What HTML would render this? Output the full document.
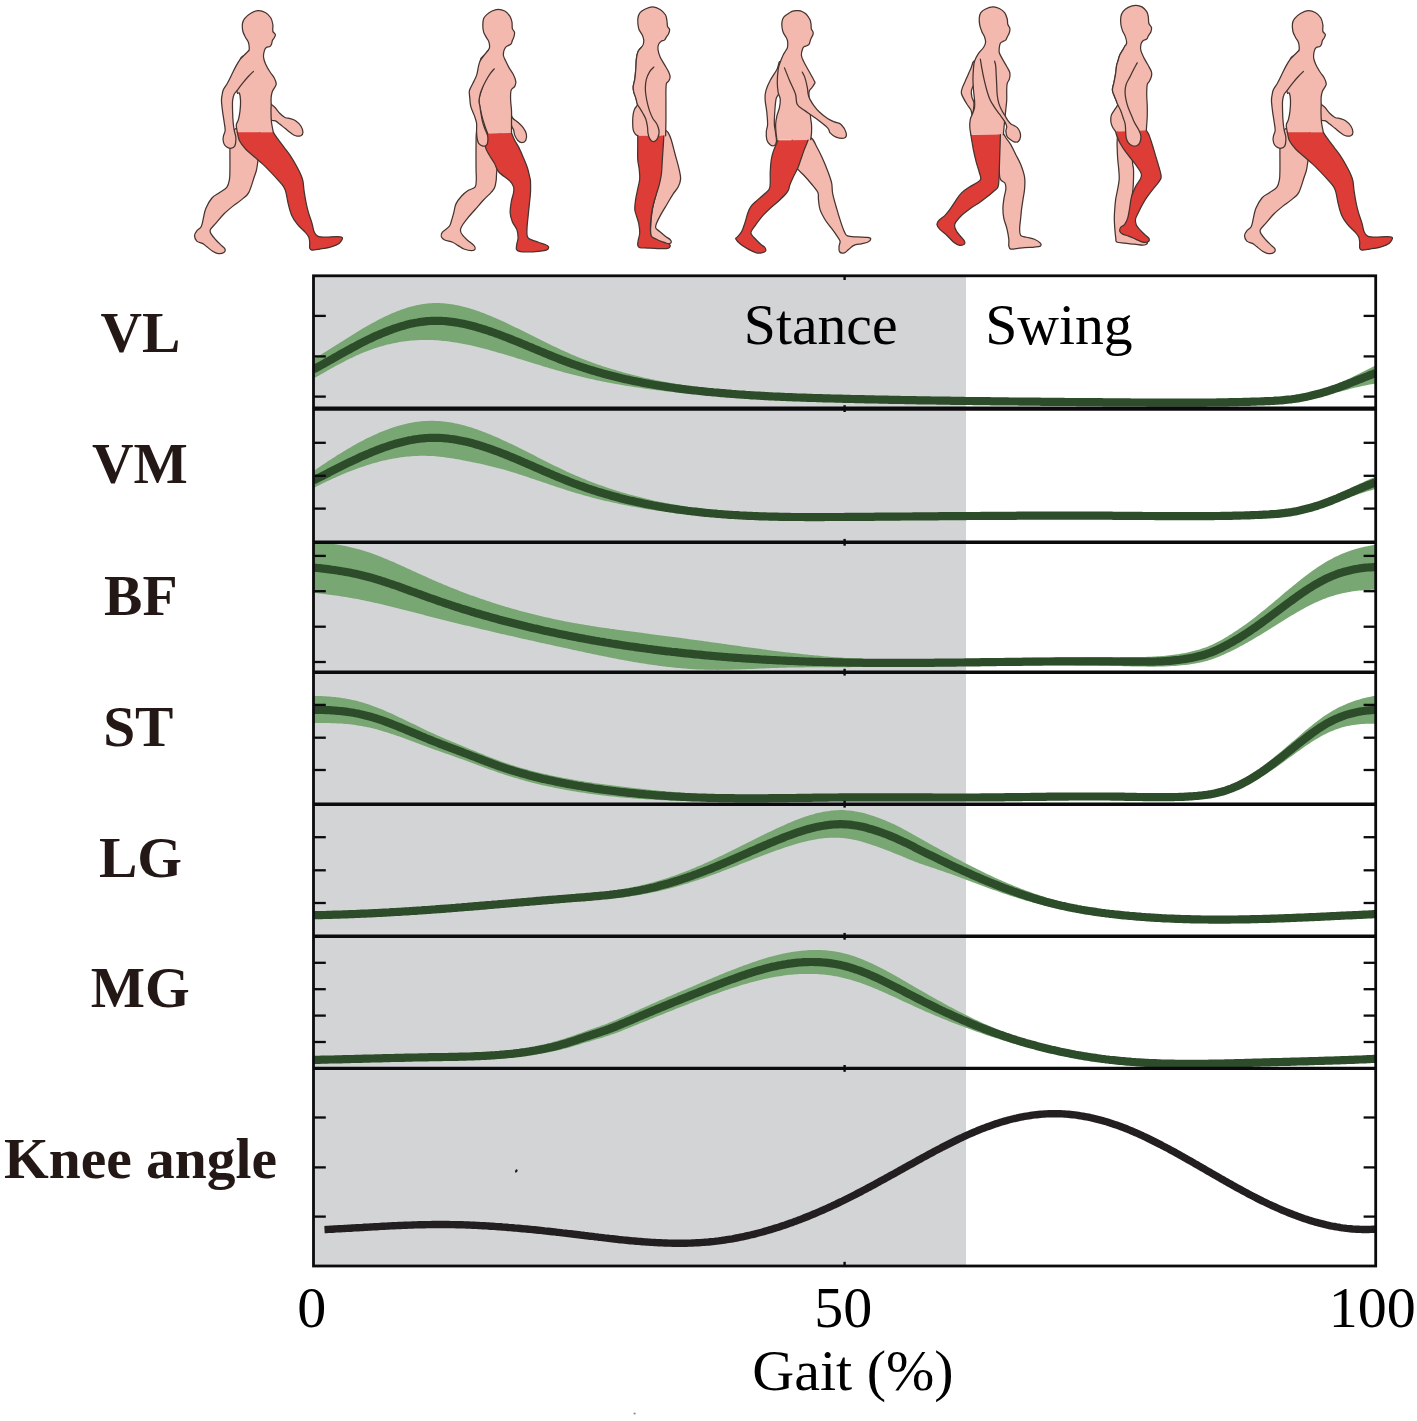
<!DOCTYPE html>
<html><head><meta charset="utf-8"><title>Gait EMG</title>
<style>
html,body{margin:0;padding:0;background:#fff;}
body{width:1417px;height:1421px;overflow:hidden;font-family:"Liberation Serif",serif;}
svg{display:block;}
</style></head>
<body>
<svg width="1417" height="1421" viewBox="0 0 1417 1421">
<style>.o{fill:none;stroke:#45332f;stroke-width:1.25;stroke-linejoin:round;stroke-linecap:round}</style>
<g>
<path d="M269.1,102.7C269.54,101.64 270.69,103.94 271.74,104.82C272.8,105.7 274.13,106.58 275.45,108C276.77,109.41 278.1,111.7 279.68,113.29C281.27,114.88 283.21,116.64 284.98,117.52C286.74,118.4 288.5,118.05 290.27,118.58C292.03,119.11 293.8,119.46 295.56,120.7C297.33,121.93 299.62,124.05 300.85,125.99C302.09,127.93 302.97,130.72 302.97,132.34C302.97,133.96 302.09,135.16 300.85,135.73C299.62,136.29 297.33,136.26 295.56,135.73C293.8,135.2 292.03,133.79 290.27,132.55C288.5,131.32 286.74,129.73 284.98,128.32C283.21,126.91 281.27,125.32 279.68,124.08C278.1,122.85 276.86,121.61 275.45,120.91C274.04,120.2 272.27,121.47 271.21,119.85C270.16,118.23 269.45,114.03 269.1,111.17C268.74,108.31 268.66,103.76 269.1,102.7Z" fill="#f3b9ae"/><path d="M269.1,102.7C269.54,101.64 270.69,103.94 271.74,104.82C272.8,105.7 274.13,106.58 275.45,108C276.77,109.41 278.1,111.7 279.68,113.29C281.27,114.88 283.21,116.64 284.98,117.52C286.74,118.4 288.5,118.05 290.27,118.58C292.03,119.11 293.8,119.46 295.56,120.7C297.33,121.93 299.62,124.05 300.85,125.99C302.09,127.93 302.97,130.72 302.97,132.34C302.97,133.96 302.09,135.16 300.85,135.73C299.62,136.29 297.33,136.26 295.56,135.73C293.8,135.2 292.03,133.79 290.27,132.55C288.5,131.32 286.74,129.73 284.98,128.32C283.21,126.91 281.27,125.32 279.68,124.08C278.1,122.85 276.86,121.61 275.45,120.91C274.04,120.2 272.27,121.47 271.21,119.85C270.16,118.23 269.45,114.03 269.1,111.17C268.74,108.31 268.66,103.76 269.1,102.7Z" class="o"/>
<path d="M237,128C241.59,126.39 254.33,124.33 258,128C261.67,131.67 259.09,143.98 259,150C258.91,156.02 257.89,160.69 257.45,164.1C257.02,167.51 256.92,168.33 256.4,170.45C255.87,172.57 255.56,173.11 254.28,176.8C253,180.49 250.77,188.82 248.72,192.58C246.66,196.34 244.58,197.1 241.94,199.36C239.31,201.62 235.92,203.69 232.91,206.13C229.9,208.58 226.7,211.21 223.88,214.04C221.05,216.86 218.23,220.44 215.97,223.07C213.71,225.71 211.08,227.96 210.33,229.85C209.57,231.73 210.51,232.67 211.45,234.36C212.4,236.06 214.28,238.13 215.97,240.01C217.66,241.89 220.11,244.15 221.62,245.65C223.12,247.16 224.63,247.91 225,249.04C225.38,250.17 225,251.68 223.88,252.43C222.75,253.18 220.11,253.75 218.23,253.56C216.35,253.37 214.47,252.43 212.58,251.3C210.7,250.17 208.63,248.1 206.94,246.78C205.24,245.47 204.11,244.34 202.42,243.4C200.73,242.46 198.09,242.46 196.78,241.14C195.46,239.82 194.52,237.19 194.52,235.49C194.52,233.8 195.65,232.48 196.78,230.98C197.9,229.47 200.16,228.72 201.29,226.46C202.42,224.2 202.8,220.44 203.55,217.43C204.3,214.41 204.41,211.63 205.81,208.39C207.21,205.15 209.68,200.59 211.94,197.97C214.19,195.35 216.88,194.44 219.35,192.68C221.82,190.91 225.08,189.5 226.76,187.39C228.43,185.27 228.87,182.97 229.4,179.98C229.93,176.98 229.84,174.51 229.93,169.39C230.02,164.27 229.84,154.57 229.93,149.28C230.02,143.99 229.28,141.18 230.46,137.63C231.64,134.09 232.41,129.61 237,128Z" fill="#f3b9ae"/><path d="M237,128C241.59,126.39 254.33,124.33 258,128C261.67,131.67 259.09,143.98 259,150C258.91,156.02 257.89,160.69 257.45,164.1C257.02,167.51 256.92,168.33 256.4,170.45C255.87,172.57 255.56,173.11 254.28,176.8C253,180.49 250.77,188.82 248.72,192.58C246.66,196.34 244.58,197.1 241.94,199.36C239.31,201.62 235.92,203.69 232.91,206.13C229.9,208.58 226.7,211.21 223.88,214.04C221.05,216.86 218.23,220.44 215.97,223.07C213.71,225.71 211.08,227.96 210.33,229.85C209.57,231.73 210.51,232.67 211.45,234.36C212.4,236.06 214.28,238.13 215.97,240.01C217.66,241.89 220.11,244.15 221.62,245.65C223.12,247.16 224.63,247.91 225,249.04C225.38,250.17 225,251.68 223.88,252.43C222.75,253.18 220.11,253.75 218.23,253.56C216.35,253.37 214.47,252.43 212.58,251.3C210.7,250.17 208.63,248.1 206.94,246.78C205.24,245.47 204.11,244.34 202.42,243.4C200.73,242.46 198.09,242.46 196.78,241.14C195.46,239.82 194.52,237.19 194.52,235.49C194.52,233.8 195.65,232.48 196.78,230.98C197.9,229.47 200.16,228.72 201.29,226.46C202.42,224.2 202.8,220.44 203.55,217.43C204.3,214.41 204.41,211.63 205.81,208.39C207.21,205.15 209.68,200.59 211.94,197.97C214.19,195.35 216.88,194.44 219.35,192.68C221.82,190.91 225.08,189.5 226.76,187.39C228.43,185.27 228.87,182.97 229.4,179.98C229.93,176.98 229.84,174.51 229.93,169.39C230.02,164.27 229.84,154.57 229.93,149.28C230.02,143.99 229.28,141.18 230.46,137.63C231.64,134.09 232.41,129.61 237,128Z" class="o"/>
<path d="M258.07,10.56C260.61,10.42 263.56,11.47 265.68,12.67C267.79,13.87 269.55,15.77 270.74,17.74C271.94,19.71 272.5,22.24 272.85,24.49C273.21,26.75 272.43,29.56 272.85,31.25C273.28,32.94 275.18,33.5 275.39,34.63C275.6,35.75 274.61,37.02 274.12,38.01C273.63,38.99 272.85,39.56 272.43,40.54C272.01,41.53 272.01,42.93 271.59,43.92C271.17,44.9 270.74,45.89 269.9,46.45C269.05,47.02 267.44,46.59 266.52,47.3C265.61,48 264.9,48.99 264.41,50.68C263.92,52.36 263.35,55.18 263.56,57.43C263.78,59.68 264.62,61.8 265.68,64.19C266.73,66.58 268.49,69.54 269.9,71.79C271.31,74.04 273.07,75.73 274.12,77.7C275.18,79.67 276.09,82.07 276.23,83.61C276.37,85.16 275.6,85.73 274.97,86.99C274.33,88.26 273.07,89.53 272.43,91.22C271.8,92.91 271.38,94.74 271.17,97.13C270.95,99.52 271.19,103.23 271.17,105.57C271.14,107.91 270.96,108.47 271,111.17C271.05,113.87 271.04,118.23 271.43,121.76C271.81,125.28 272.7,128.81 273.33,132.34C261.33,132.34 249.34,132.34 237.34,132.34C236.99,129.87 236.11,127.05 236.28,124.93C236.46,122.81 237.78,121.93 238.4,119.64C239.02,117.35 239.63,114.35 239.99,111.17C240.34,108 240.61,103.58 240.52,100.59C240.43,97.59 239.98,94.46 239.46,93.18C238.94,91.9 237.94,94.36 237.38,92.91C236.82,91.45 235.62,87.98 236.11,84.46C236.61,80.94 239.63,76.01 240.34,71.79C241.04,67.57 239.63,61.94 240.34,59.12C241.04,56.31 243.15,56.31 244.56,54.9C245.97,53.49 248.01,51.94 248.78,50.68C249.56,49.41 249.28,48.7 249.21,47.3C249.14,45.89 248.99,43.92 248.36,42.23C247.73,40.54 246.32,38.99 245.41,37.16C244.49,35.33 243.36,33.5 242.87,31.25C242.38,29 242.17,25.76 242.45,23.65C242.73,21.54 243.22,20.27 244.56,18.58C245.9,16.89 248.22,14.85 250.47,13.51C252.73,12.18 255.54,10.7 258.07,10.56Z" fill="#f3b9ae"/><path d="M237.34,132.34C236.99,129.87 236.11,127.05 236.28,124.93C236.46,122.81 237.78,121.93 238.4,119.64C239.02,117.35 239.63,114.35 239.99,111.17C240.34,108 240.61,103.58 240.52,100.59C240.43,97.59 239.98,94.46 239.46,93.18C238.94,91.9 237.94,94.36 237.38,92.91C236.82,91.45 235.62,87.98 236.11,84.46C236.61,80.94 239.63,76.01 240.34,71.79C241.04,67.57 239.63,61.94 240.34,59.12C241.04,56.31 243.15,56.31 244.56,54.9C245.97,53.49 248.01,51.94 248.78,50.68C249.56,49.41 249.28,48.7 249.21,47.3C249.14,45.89 248.99,43.92 248.36,42.23C247.73,40.54 246.32,38.99 245.41,37.16C244.49,35.33 243.36,33.5 242.87,31.25C242.38,29 242.17,25.76 242.45,23.65C242.73,21.54 243.22,20.27 244.56,18.58C245.9,16.89 248.22,14.85 250.47,13.51C252.73,12.18 255.54,10.7 258.07,10.56C260.61,10.42 263.56,11.47 265.68,12.67C267.79,13.87 269.55,15.77 270.74,17.74C271.94,19.71 272.5,22.24 272.85,24.49C273.21,26.75 272.43,29.56 272.85,31.25C273.28,32.94 275.18,33.5 275.39,34.63C275.6,35.75 274.61,37.02 274.12,38.01C273.63,38.99 272.85,39.56 272.43,40.54C272.01,41.53 272.01,42.93 271.59,43.92C271.17,44.9 270.74,45.89 269.9,46.45C269.05,47.02 267.44,46.59 266.52,47.3C265.61,48 264.9,48.99 264.41,50.68C263.92,52.36 263.35,55.18 263.56,57.43C263.78,59.68 264.62,61.8 265.68,64.19C266.73,66.58 268.49,69.54 269.9,71.79C271.31,74.04 273.07,75.73 274.12,77.7C275.18,79.67 276.09,82.07 276.23,83.61C276.37,85.16 275.6,85.73 274.97,86.99C274.33,88.26 273.07,89.53 272.43,91.22C271.8,92.91 271.38,94.74 271.17,97.13C270.95,99.52 271.19,103.23 271.17,105.57C271.14,107.91 270.96,108.47 271,111.17C271.05,113.87 271.04,118.23 271.43,121.76C271.81,125.28 272.7,128.81 273.33,132.34" class="o"/>
<path d="M237.34,132.34C249.34,132.34 261.33,132.34 273.33,132.34C274.74,134.46 275.8,136.22 277.57,138.69C279.33,141.16 281.8,144.34 283.92,147.16C286.03,149.98 288.15,152.45 290.27,155.63C292.39,158.8 294.86,163.04 296.62,166.21C298.38,169.39 299.8,172.21 300.85,174.68C301.91,177.15 302.44,178.39 302.97,181.03C303.5,183.68 303.47,186.75 304.03,190.56C304.59,194.37 305.55,200.15 306.31,203.88C307.06,207.6 307.62,209.71 308.56,212.91C309.5,216.11 311.01,219.87 311.95,223.07C312.89,226.27 313.27,229.94 314.21,232.1C315.15,234.27 315.72,235.21 317.6,236.06C319.48,236.9 322.3,237.09 325.5,237.19C328.7,237.28 333.97,236.53 336.79,236.62C339.62,236.72 342.06,236.62 342.44,237.75C342.82,238.88 340.93,241.89 339.05,243.4C337.17,244.9 334.35,245.84 331.15,246.78C327.95,247.73 323.05,248.48 319.86,249.04C316.66,249.61 313.64,250.36 311.95,250.17C310.26,249.98 310.07,249.23 309.69,247.91C309.32,246.6 309.88,244.15 309.69,242.27C309.5,240.39 309.5,238.5 308.56,236.62C307.62,234.74 305.93,233.05 304.05,230.98C302.17,228.91 299.34,226.84 297.27,224.2C295.2,221.57 293.13,218.55 291.63,215.17C290.12,211.78 289.18,207.64 288.24,203.88C287.3,200.11 286.73,195.41 285.98,192.58C285.23,189.76 284.85,188.82 283.72,186.94C282.59,185.06 281.29,183.69 279.21,181.29C277.12,178.9 273.96,175.43 271.21,172.57C268.47,169.7 265.57,166.74 262.75,164.1C259.92,161.45 257.1,159.16 254.28,156.69C251.46,154.22 248.28,151.92 245.81,149.28C243.34,146.63 240.87,143.63 239.46,140.81C238.05,137.99 238.05,135.16 237.34,132.34Z" fill="#de3c36"/><path d="M273.33,132.34C274.74,134.46 275.8,136.22 277.57,138.69C279.33,141.16 281.8,144.34 283.92,147.16C286.03,149.98 288.15,152.45 290.27,155.63C292.39,158.8 294.86,163.04 296.62,166.21C298.38,169.39 299.8,172.21 300.85,174.68C301.91,177.15 302.44,178.39 302.97,181.03C303.5,183.68 303.47,186.75 304.03,190.56C304.59,194.37 305.55,200.15 306.31,203.88C307.06,207.6 307.62,209.71 308.56,212.91C309.5,216.11 311.01,219.87 311.95,223.07C312.89,226.27 313.27,229.94 314.21,232.1C315.15,234.27 315.72,235.21 317.6,236.06C319.48,236.9 322.3,237.09 325.5,237.19C328.7,237.28 333.97,236.53 336.79,236.62C339.62,236.72 342.06,236.62 342.44,237.75C342.82,238.88 340.93,241.89 339.05,243.4C337.17,244.9 334.35,245.84 331.15,246.78C327.95,247.73 323.05,248.48 319.86,249.04C316.66,249.61 313.64,250.36 311.95,250.17C310.26,249.98 310.07,249.23 309.69,247.91C309.32,246.6 309.88,244.15 309.69,242.27C309.5,240.39 309.5,238.5 308.56,236.62C307.62,234.74 305.93,233.05 304.05,230.98C302.17,228.91 299.34,226.84 297.27,224.2C295.2,221.57 293.13,218.55 291.63,215.17C290.12,211.78 289.18,207.64 288.24,203.88C287.3,200.11 286.73,195.41 285.98,192.58C285.23,189.76 284.85,188.82 283.72,186.94C282.59,185.06 281.29,183.69 279.21,181.29C277.12,178.9 273.96,175.43 271.21,172.57C268.47,169.7 265.57,166.74 262.75,164.1C259.92,161.45 257.1,159.16 254.28,156.69C251.46,154.22 248.28,151.92 245.81,149.28C243.34,146.63 240.87,143.63 239.46,140.81C238.05,137.99 238.05,135.16 237.34,132.34" class="o"/>
<path d="M253.43,71.37C251.88,64.47 250.33,57.57 248.78,50.68C247.38,52.08 245.97,53.49 244.56,54.9C243.15,56.31 241.75,57.29 240.34,59.12C238.93,60.95 237.52,63.34 236.11,65.88C234.71,68.41 233.3,71.51 231.89,74.32C230.48,77.14 229.08,80.24 227.67,82.77C226.26,85.3 224.36,87.56 223.45,89.53C222.53,91.5 222.51,92.75 222.18,94.59C221.85,96.44 221.41,97.82 221.46,100.59C221.52,103.35 222.08,107.64 222.52,111.17C222.96,114.7 223.67,118.58 224.11,121.76C224.55,124.93 225.26,127.93 225.17,130.22C225.08,132.52 223.93,133.93 223.58,135.52C223.23,137.1 222.87,138.16 223.05,139.75C223.23,141.34 223.85,143.72 224.64,145.04C225.43,146.37 226.67,147.16 227.81,147.69C228.96,148.22 230.37,148.48 231.52,148.22C232.67,147.95 233.99,147.16 234.7,146.1C235.4,145.04 235.58,143.46 235.75,141.87C235.93,140.28 236.02,138.52 235.75,136.58C235.49,134.63 234.61,132.69 234.17,130.22C233.72,127.75 233.37,124.93 233.11,121.76C232.84,118.58 232.67,114.7 232.58,111.17C232.49,107.64 232.31,103.41 232.58,100.59C232.84,97.76 233.29,96.08 234.17,94.23C235.04,92.39 236.35,91.44 237.8,89.53C239.26,87.62 241.04,85.02 242.87,82.77C244.7,80.52 247.02,77.91 248.78,76.01C250.54,74.11 251.88,72.92 253.43,71.37Z" fill="#f3b9ae"/><path d="M248.78,50.68C247.38,52.08 245.97,53.49 244.56,54.9C243.15,56.31 241.75,57.29 240.34,59.12C238.93,60.95 237.52,63.34 236.11,65.88C234.71,68.41 233.3,71.51 231.89,74.32C230.48,77.14 229.08,80.24 227.67,82.77C226.26,85.3 224.36,87.56 223.45,89.53C222.53,91.5 222.51,92.75 222.18,94.59C221.85,96.44 221.41,97.82 221.46,100.59C221.52,103.35 222.08,107.64 222.52,111.17C222.96,114.7 223.67,118.58 224.11,121.76C224.55,124.93 225.26,127.93 225.17,130.22C225.08,132.52 223.93,133.93 223.58,135.52C223.23,137.1 222.87,138.16 223.05,139.75C223.23,141.34 223.85,143.72 224.64,145.04C225.43,146.37 226.67,147.16 227.81,147.69C228.96,148.22 230.37,148.48 231.52,148.22C232.67,147.95 233.99,147.16 234.7,146.1C235.4,145.04 235.58,143.46 235.75,141.87C235.93,140.28 236.02,138.52 235.75,136.58C235.49,134.63 234.61,132.69 234.17,130.22C233.72,127.75 233.37,124.93 233.11,121.76C232.84,118.58 232.67,114.7 232.58,111.17C232.49,107.64 232.31,103.41 232.58,100.59C232.84,97.76 233.29,96.08 234.17,94.23C235.04,92.39 236.35,91.44 237.8,89.53C239.26,87.62 241.04,85.02 242.87,82.77C244.7,80.52 247.02,77.91 248.78,76.01C250.54,74.11 251.88,72.92 253.43,71.37" class="o"/>
</g>
<g>
<path d="M510.45,112.7C510.63,111.47 511.33,116.41 512.57,118C513.8,119.58 516.09,120.64 517.86,122.23C519.62,123.82 521.74,125.58 523.15,127.52C524.56,129.46 525.89,131.76 526.33,133.87C526.77,135.99 526.5,138.78 525.8,140.22C525.09,141.67 523.42,142.52 522.09,142.55C520.77,142.59 519.09,141.67 517.86,140.44C516.62,139.2 515.39,136.91 514.68,135.14C513.98,133.38 514.15,131.47 513.62,129.85C513.1,128.23 512.04,128.26 511.51,125.4C510.98,122.55 510.27,113.94 510.45,112.7Z" fill="#f3b9ae"/><path d="M510.45,112.7C510.63,111.47 511.33,116.41 512.57,118C513.8,119.58 516.09,120.64 517.86,122.23C519.62,123.82 521.74,125.58 523.15,127.52C524.56,129.46 525.89,131.76 526.33,133.87C526.77,135.99 526.5,138.78 525.8,140.22C525.09,141.67 523.42,142.52 522.09,142.55C520.77,142.59 519.09,141.67 517.86,140.44C516.62,139.2 515.39,136.91 514.68,135.14C513.98,133.38 514.15,131.47 513.62,129.85C513.1,128.23 512.04,128.26 511.51,125.4C510.98,122.55 510.27,113.94 510.45,112.7Z" class="o"/>
<path d="M480,128C483.9,127.37 497.22,120.67 500,128C502.78,135.33 497.33,163.24 496.69,171.98C496.05,180.72 496.51,177.8 496.16,180.45C495.81,183.1 495.43,185.84 494.57,187.86C493.71,189.88 492.89,190.48 490.98,192.58C489.06,194.69 485.71,197.66 483.07,200.49C480.44,203.31 477.8,206.51 475.17,209.52C472.53,212.53 469.52,215.73 467.26,218.55C465,221.38 462.75,224.39 461.62,226.46C460.49,228.53 460.3,229.47 460.49,230.98C460.68,232.48 461.62,233.99 462.75,235.49C463.88,237 465.38,238.32 467.26,240.01C469.14,241.7 472.72,244.15 474.04,245.65C475.36,247.16 475.54,248.2 475.17,249.04C474.79,249.89 473.66,250.74 471.78,250.74C469.9,250.74 466.13,249.89 463.88,249.04C461.62,248.2 460.11,246.78 458.23,245.65C456.35,244.53 454.84,243.21 452.58,242.27C450.33,241.33 446.56,240.95 444.68,240.01C442.8,239.07 441.67,237.94 441.29,236.62C440.92,235.3 441.1,233.8 442.42,232.1C443.74,230.41 447.69,228.34 449.2,226.46C450.7,224.58 450.7,223.07 451.45,220.81C452.21,218.55 452.96,215.73 453.71,212.91C454.47,210.09 454.65,206.7 455.97,203.88C457.29,201.05 459.55,198.23 461.62,195.97C463.69,193.71 466.13,191.83 468.39,190.33C470.65,188.82 473.85,188.82 475.17,186.94C476.48,185.06 476.15,182.06 476.3,179.03C476.44,176.01 476.09,174.57 476.05,168.8C476,163.04 475.96,150.63 476.05,144.46C476.13,138.28 475.92,134.5 476.58,131.76C477.23,129.01 476.1,128.63 480,128Z" fill="#f3b9ae"/><path d="M480,128C483.9,127.37 497.22,120.67 500,128C502.78,135.33 497.33,163.24 496.69,171.98C496.05,180.72 496.51,177.8 496.16,180.45C495.81,183.1 495.43,185.84 494.57,187.86C493.71,189.88 492.89,190.48 490.98,192.58C489.06,194.69 485.71,197.66 483.07,200.49C480.44,203.31 477.8,206.51 475.17,209.52C472.53,212.53 469.52,215.73 467.26,218.55C465,221.38 462.75,224.39 461.62,226.46C460.49,228.53 460.3,229.47 460.49,230.98C460.68,232.48 461.62,233.99 462.75,235.49C463.88,237 465.38,238.32 467.26,240.01C469.14,241.7 472.72,244.15 474.04,245.65C475.36,247.16 475.54,248.2 475.17,249.04C474.79,249.89 473.66,250.74 471.78,250.74C469.9,250.74 466.13,249.89 463.88,249.04C461.62,248.2 460.11,246.78 458.23,245.65C456.35,244.53 454.84,243.21 452.58,242.27C450.33,241.33 446.56,240.95 444.68,240.01C442.8,239.07 441.67,237.94 441.29,236.62C440.92,235.3 441.1,233.8 442.42,232.1C443.74,230.41 447.69,228.34 449.2,226.46C450.7,224.58 450.7,223.07 451.45,220.81C452.21,218.55 452.96,215.73 453.71,212.91C454.47,210.09 454.65,206.7 455.97,203.88C457.29,201.05 459.55,198.23 461.62,195.97C463.69,193.71 466.13,191.83 468.39,190.33C470.65,188.82 473.85,188.82 475.17,186.94C476.48,185.06 476.15,182.06 476.3,179.03C476.44,176.01 476.09,174.57 476.05,168.8C476,163.04 475.96,150.63 476.05,144.46C476.13,138.28 475.92,134.5 476.58,131.76C477.23,129.01 476.1,128.63 480,128Z" class="o"/>
<path d="M498.01,9.29C500.12,9.29 502.79,9.85 504.76,10.98C506.73,12.11 508.63,14.22 509.83,16.05C511.03,17.88 511.52,19.85 511.94,21.96C512.36,24.07 511.94,27.03 512.36,28.72C512.79,30.41 514.19,30.83 514.48,32.09C514.76,33.36 514.41,34.91 514.05,36.32C513.7,37.73 512.86,39.27 512.36,40.54C511.87,41.81 511.8,43.07 511.1,43.92C510.39,44.76 509.06,45.05 508.14,45.61C507.23,46.17 506.31,46.45 505.61,47.3C504.9,48.14 504.27,49.27 503.92,50.68C503.57,52.08 503.22,54.05 503.5,55.74C503.78,57.43 504.69,58.84 505.61,60.81C506.52,62.78 507.72,65.32 508.99,67.57C510.25,69.82 512.08,72.07 513.21,74.32C514.34,76.58 515.46,79.11 515.74,81.08C516.02,83.05 515.6,84.74 514.9,86.15C514.19,87.56 512.22,88.4 511.52,89.53C510.82,90.65 510.82,90.93 510.68,92.91C510.53,94.88 510.54,98.4 510.68,101.35C510.81,104.3 511.37,107.28 511.51,110.59C511.65,113.89 511.51,117.38 511.51,121.17C511.51,124.96 511.51,129.29 511.51,133.34C503.57,133.45 495.63,133.56 487.69,133.66C486.81,131.26 486.01,129.43 485.04,126.46C484.07,123.5 482.88,120.06 481.87,115.88C480.86,111.69 479.27,105.04 479,101.35C478.74,97.66 479.21,97.97 480.27,93.75C481.33,89.53 485.34,81.5 485.34,76.01C485.34,70.52 480.41,64.33 480.27,60.81C480.13,57.29 483.23,56.59 484.49,54.9C485.76,53.21 487.03,51.94 487.87,50.68C488.72,49.41 489.42,48.85 489.56,47.3C489.7,45.75 489.28,43.07 488.72,41.39C488.15,39.7 487.03,38.71 486.18,37.16C485.34,35.61 484.21,34.07 483.65,32.09C483.09,30.12 482.8,27.59 482.8,25.34C482.8,23.09 482.94,20.41 483.65,18.58C484.35,16.75 485.62,15.62 487.03,14.36C488.43,13.09 490.26,11.82 492.09,10.98C493.92,10.14 495.9,9.29 498.01,9.29Z" fill="#f3b9ae"/><path d="M487.69,133.66C486.81,131.26 486.01,129.43 485.04,126.46C484.07,123.5 482.88,120.06 481.87,115.88C480.86,111.69 479.27,105.04 479,101.35C478.74,97.66 479.21,97.97 480.27,93.75C481.33,89.53 485.34,81.5 485.34,76.01C485.34,70.52 480.41,64.33 480.27,60.81C480.13,57.29 483.23,56.59 484.49,54.9C485.76,53.21 487.03,51.94 487.87,50.68C488.72,49.41 489.42,48.85 489.56,47.3C489.7,45.75 489.28,43.07 488.72,41.39C488.15,39.7 487.03,38.71 486.18,37.16C485.34,35.61 484.21,34.07 483.65,32.09C483.09,30.12 482.8,27.59 482.8,25.34C482.8,23.09 482.94,20.41 483.65,18.58C484.35,16.75 485.62,15.62 487.03,14.36C488.43,13.09 490.26,11.82 492.09,10.98C493.92,10.14 495.9,9.29 498.01,9.29C500.12,9.29 502.79,9.85 504.76,10.98C506.73,12.11 508.63,14.22 509.83,16.05C511.03,17.88 511.52,19.85 511.94,21.96C512.36,24.07 511.94,27.03 512.36,28.72C512.79,30.41 514.19,30.83 514.48,32.09C514.76,33.36 514.41,34.91 514.05,36.32C513.7,37.73 512.86,39.27 512.36,40.54C511.87,41.81 511.8,43.07 511.1,43.92C510.39,44.76 509.06,45.05 508.14,45.61C507.23,46.17 506.31,46.45 505.61,47.3C504.9,48.14 504.27,49.27 503.92,50.68C503.57,52.08 503.22,54.05 503.5,55.74C503.78,57.43 504.69,58.84 505.61,60.81C506.52,62.78 507.72,65.32 508.99,67.57C510.25,69.82 512.08,72.07 513.21,74.32C514.34,76.58 515.46,79.11 515.74,81.08C516.02,83.05 515.6,84.74 514.9,86.15C514.19,87.56 512.22,88.4 511.52,89.53C510.82,90.65 510.82,90.93 510.68,92.91C510.53,94.88 510.54,98.4 510.68,101.35C510.81,104.3 511.37,107.28 511.51,110.59C511.65,113.89 511.51,117.38 511.51,121.17C511.51,124.96 511.51,129.29 511.51,133.34" class="o"/>
<path d="M487.69,133.66C495.63,133.45 503.57,133.24 511.51,133.03C512.57,135.43 513.45,137.79 514.68,140.22C515.92,142.66 517.51,144.81 518.92,147.63C520.33,150.46 521.74,153.81 523.15,157.16C524.56,160.51 526.24,164.22 527.39,167.75C528.53,171.27 529.51,176.07 530.03,178.33C530.55,180.59 530.42,178.92 530.5,181.29C530.57,183.67 530.69,188.82 530.5,192.58C530.31,196.35 529.74,200.11 529.37,203.88C528.99,207.64 528.61,211.4 528.24,215.17C527.86,218.93 527.3,223.07 527.11,226.46C526.92,229.85 526.73,233.42 527.11,235.49C527.49,237.56 527.49,237.75 529.37,238.88C531.25,240.01 535.77,241.33 538.4,242.27C541.04,243.21 543.48,243.77 545.18,244.53C546.87,245.28 548.38,245.84 548.56,246.78C548.75,247.73 548,249.42 546.31,250.17C544.61,250.92 541.41,251.02 538.4,251.3C535.39,251.58 531.44,251.87 528.24,251.87C525.04,251.87 521.18,251.77 519.21,251.3C517.23,250.83 516.76,250.36 516.38,249.04C516.01,247.73 516.66,245.28 516.95,243.4C517.23,241.51 518.08,240.01 518.08,237.75C518.08,235.49 517.89,232.48 516.95,229.85C516.01,227.21 513.56,224.77 512.43,221.94C511.3,219.12 510.36,216.3 510.17,212.91C509.98,209.52 510.74,205 511.3,201.62C511.87,198.23 513.18,195.03 513.56,192.58C513.94,190.14 514.12,188.82 513.56,186.94C512.99,185.06 512.63,183.78 510.17,181.29C507.71,178.8 501.41,174.94 498.8,171.98C496.2,169.02 496.16,166.33 494.57,163.51C492.98,160.69 490.78,157.69 489.28,155.04C487.78,152.4 486.1,149.93 485.57,147.63C485.04,145.34 485.75,143.61 486.1,141.28C486.46,138.95 487.16,136.2 487.69,133.66Z" fill="#de3c36"/><path d="M511.51,133.03C512.57,135.43 513.45,137.79 514.68,140.22C515.92,142.66 517.51,144.81 518.92,147.63C520.33,150.46 521.74,153.81 523.15,157.16C524.56,160.51 526.24,164.22 527.39,167.75C528.53,171.27 529.51,176.07 530.03,178.33C530.55,180.59 530.42,178.92 530.5,181.29C530.57,183.67 530.69,188.82 530.5,192.58C530.31,196.35 529.74,200.11 529.37,203.88C528.99,207.64 528.61,211.4 528.24,215.17C527.86,218.93 527.3,223.07 527.11,226.46C526.92,229.85 526.73,233.42 527.11,235.49C527.49,237.56 527.49,237.75 529.37,238.88C531.25,240.01 535.77,241.33 538.4,242.27C541.04,243.21 543.48,243.77 545.18,244.53C546.87,245.28 548.38,245.84 548.56,246.78C548.75,247.73 548,249.42 546.31,250.17C544.61,250.92 541.41,251.02 538.4,251.3C535.39,251.58 531.44,251.87 528.24,251.87C525.04,251.87 521.18,251.77 519.21,251.3C517.23,250.83 516.76,250.36 516.38,249.04C516.01,247.73 516.66,245.28 516.95,243.4C517.23,241.51 518.08,240.01 518.08,237.75C518.08,235.49 517.89,232.48 516.95,229.85C516.01,227.21 513.56,224.77 512.43,221.94C511.3,219.12 510.36,216.3 510.17,212.91C509.98,209.52 510.74,205 511.3,201.62C511.87,198.23 513.18,195.03 513.56,192.58C513.94,190.14 514.12,188.82 513.56,186.94C512.99,185.06 512.63,183.78 510.17,181.29C507.71,178.8 501.41,174.94 498.8,171.98C496.2,169.02 496.16,166.33 494.57,163.51C492.98,160.69 490.78,157.69 489.28,155.04C487.78,152.4 486.1,149.93 485.57,147.63C485.04,145.34 485.75,143.61 486.1,141.28C486.46,138.95 487.16,136.2 487.69,133.66" class="o"/>
<path d="M494.21,68.83C492.09,62.78 489.98,56.73 487.87,50.68C486.75,52.08 485.76,53.21 484.49,54.9C483.23,56.59 481.26,58.98 480.27,60.81C479.28,62.64 479.14,63.63 478.58,65.88C478.02,68.13 477.6,71.93 476.89,74.32C476.19,76.72 475.34,78.12 474.36,80.24C473.37,82.35 471.82,85.16 470.98,86.99C470.14,88.82 469.5,89.53 469.29,91.22C469.08,92.91 469.47,94.61 469.71,97.13C469.96,99.65 469.96,103.23 470.75,106.35C471.54,109.48 473.49,113.06 474.46,115.88C475.43,118.7 476.22,120.64 476.58,123.29C476.93,125.93 476.49,129.29 476.58,131.76C476.66,134.23 476.75,136.17 477.1,138.11C477.46,140.05 477.72,142.08 478.69,143.4C479.66,144.72 481.69,145.69 482.93,146.05C484.16,146.4 485.31,146.13 486.1,145.52C486.9,144.9 487.43,143.93 487.69,142.34C487.95,140.75 487.95,137.75 487.69,135.99C487.43,134.23 486.72,133.34 486.1,131.76C485.48,130.17 484.6,128.23 483.99,126.46C483.37,124.7 482.93,123.46 482.4,121.17C481.87,118.88 481.25,115.35 480.81,112.7C480.37,110.06 480.05,107.18 479.75,105.29C479.45,103.4 478.92,103.28 479,101.35C479.09,99.43 479.64,96.14 480.27,93.75C480.9,91.36 481.82,89.25 482.8,86.99C483.79,84.74 484.92,82.49 486.18,80.24C487.45,77.98 489.07,75.38 490.41,73.48C491.74,71.58 492.94,70.38 494.21,68.83Z" fill="#f3b9ae"/><path d="M487.87,50.68C486.75,52.08 485.76,53.21 484.49,54.9C483.23,56.59 481.26,58.98 480.27,60.81C479.28,62.64 479.14,63.63 478.58,65.88C478.02,68.13 477.6,71.93 476.89,74.32C476.19,76.72 475.34,78.12 474.36,80.24C473.37,82.35 471.82,85.16 470.98,86.99C470.14,88.82 469.5,89.53 469.29,91.22C469.08,92.91 469.47,94.61 469.71,97.13C469.96,99.65 469.96,103.23 470.75,106.35C471.54,109.48 473.49,113.06 474.46,115.88C475.43,118.7 476.22,120.64 476.58,123.29C476.93,125.93 476.49,129.29 476.58,131.76C476.66,134.23 476.75,136.17 477.1,138.11C477.46,140.05 477.72,142.08 478.69,143.4C479.66,144.72 481.69,145.69 482.93,146.05C484.16,146.4 485.31,146.13 486.1,145.52C486.9,144.9 487.43,143.93 487.69,142.34C487.95,140.75 487.95,137.75 487.69,135.99C487.43,134.23 486.72,133.34 486.1,131.76C485.48,130.17 484.6,128.23 483.99,126.46C483.37,124.7 482.93,123.46 482.4,121.17C481.87,118.88 481.25,115.35 480.81,112.7C480.37,110.06 480.05,107.18 479.75,105.29C479.45,103.4 478.92,103.28 479,101.35C479.09,99.43 479.64,96.14 480.27,93.75C480.9,91.36 481.82,89.25 482.8,86.99C483.79,84.74 484.92,82.49 486.18,80.24C487.45,77.98 489.07,75.38 490.41,73.48C491.74,71.58 492.94,70.38 494.21,68.83" class="o"/>
</g>
<g>
<path d="M662.36,125.91C663.02,122.63 664.33,128.7 665.32,129.85C666.31,131 667.29,131.17 668.28,132.81C669.26,134.45 670.08,136.09 671.23,139.7C672.38,143.32 673.86,149.56 675.17,154.48C676.49,159.41 678.21,165.16 679.11,169.26C680.02,173.37 680.76,176.16 680.59,179.11C680.43,182.07 679.36,184.53 678.13,187C676.9,189.46 675.01,191.1 673.2,193.89C671.4,196.68 669.26,200.46 667.29,203.74C665.32,207.03 663.19,210.31 661.38,213.6C659.57,216.88 657.41,221.07 656.45,223.45C655.5,225.83 655.17,226.57 655.67,227.88C656.16,229.2 657.8,229.93 659.41,231.33C661.02,232.73 663.51,234.86 665.32,236.26C667.13,237.65 669.26,238.64 670.25,239.7C671.23,240.77 671.72,241.95 671.23,242.66C670.74,243.37 669.26,243.83 667.29,243.94C665.32,244.06 662.04,244.3 659.41,243.35C656.78,242.4 653,240.72 651.53,238.23C650.05,235.73 650.38,233.3 650.54,228.37C650.71,223.45 651.03,216.88 652.51,208.67C653.99,200.46 657.93,188.97 659.41,179.11C660.89,169.26 660.89,158.42 661.38,149.56C661.87,140.69 661.71,129.2 662.36,125.91Z" fill="#f3b9ae"/><path d="M662.36,125.91C663.02,122.63 664.33,128.7 665.32,129.85C666.31,131 667.29,131.17 668.28,132.81C669.26,134.45 670.08,136.09 671.23,139.7C672.38,143.32 673.86,149.56 675.17,154.48C676.49,159.41 678.21,165.16 679.11,169.26C680.02,173.37 680.76,176.16 680.59,179.11C680.43,182.07 679.36,184.53 678.13,187C676.9,189.46 675.01,191.1 673.2,193.89C671.4,196.68 669.26,200.46 667.29,203.74C665.32,207.03 663.19,210.31 661.38,213.6C659.57,216.88 657.41,221.07 656.45,223.45C655.5,225.83 655.17,226.57 655.67,227.88C656.16,229.2 657.8,229.93 659.41,231.33C661.02,232.73 663.51,234.86 665.32,236.26C667.13,237.65 669.26,238.64 670.25,239.7C671.23,240.77 671.72,241.95 671.23,242.66C670.74,243.37 669.26,243.83 667.29,243.94C665.32,244.06 662.04,244.3 659.41,243.35C656.78,242.4 653,240.72 651.53,238.23C650.05,235.73 650.38,233.3 650.54,228.37C650.71,223.45 651.03,216.88 652.51,208.67C653.99,200.46 657.93,188.97 659.41,179.11C660.89,169.26 660.89,158.42 661.38,149.56C661.87,140.69 661.71,129.2 662.36,125.91Z" class="o"/>
<path d="M652.73,6.86C655.2,6.95 658.01,8.18 660.12,9.5C662.23,10.82 664.26,12.85 665.4,14.78C666.55,16.72 666.63,19.18 666.99,21.12C667.34,23.05 667.07,24.99 667.51,26.4C667.95,27.8 669.45,28.33 669.63,29.56C669.8,30.8 669.1,32.56 668.57,33.79C668.04,35.02 667.16,35.9 666.46,36.95C665.75,38.01 665.23,39.42 664.35,40.12C663.47,40.83 662.15,40.47 661.18,41.18C660.21,41.88 659.07,42.94 658.54,44.35C658.01,45.75 657.75,47.51 658.01,49.63C658.27,51.74 659.07,54.55 660.12,57.02C661.18,59.48 662.94,61.94 664.35,64.41C665.75,66.87 667.6,69.69 668.57,71.8C669.54,73.91 670.15,75.49 670.15,77.08C670.15,78.66 669.19,80.24 668.57,81.3C667.95,82.36 666.9,82 666.46,83.41C666.02,84.82 666.02,86.93 665.93,89.75C665.84,92.56 665.93,96.79 665.93,100.31C665.93,103.83 665.93,107.35 665.93,110.86C665.93,114.38 665.98,117.27 665.93,121.42C665.88,125.58 665.72,131 665.61,135.78C656.39,135.78 647.17,135.78 637.95,135.78C637.07,135.22 636.1,135.08 635.31,134.09C634.52,133.11 633.64,131.98 633.2,129.87C632.76,127.76 632.67,124.06 632.67,121.42C632.67,118.78 632.85,116.14 633.2,114.03C633.55,111.92 634.08,110.34 634.78,108.75C635.49,107.17 637.25,106.29 637.42,104.53C637.6,102.77 636.45,100.31 635.84,98.19C635.22,96.08 634.17,93.8 633.73,91.86C633.29,89.92 633.02,88.69 633.2,86.58C633.37,84.47 634.34,82.18 634.78,79.19C635.22,76.2 635.57,71.97 635.84,68.63C636.1,65.29 636.01,61.94 636.37,59.13C636.72,56.31 637.16,53.67 637.95,51.74C638.74,49.8 640.24,48.75 641.12,47.51C642,46.28 642.79,45.58 643.23,44.35C643.67,43.11 643.93,41.71 643.76,40.12C643.58,38.54 642.96,36.6 642.17,34.84C641.38,33.08 639.71,31.32 639.01,29.56C638.3,27.8 638.13,26.22 637.95,24.28C637.77,22.35 637.6,19.89 637.95,17.95C638.3,16.01 638.83,14.17 640.06,12.67C641.29,11.17 643.23,9.94 645.34,8.97C647.45,8.01 650.27,6.78 652.73,6.86Z" fill="#f3b9ae"/><path d="M637.95,135.78C637.07,135.22 636.1,135.08 635.31,134.09C634.52,133.11 633.64,131.98 633.2,129.87C632.76,127.76 632.67,124.06 632.67,121.42C632.67,118.78 632.85,116.14 633.2,114.03C633.55,111.92 634.08,110.34 634.78,108.75C635.49,107.17 637.25,106.29 637.42,104.53C637.6,102.77 636.45,100.31 635.84,98.19C635.22,96.08 634.17,93.8 633.73,91.86C633.29,89.92 633.02,88.69 633.2,86.58C633.37,84.47 634.34,82.18 634.78,79.19C635.22,76.2 635.57,71.97 635.84,68.63C636.1,65.29 636.01,61.94 636.37,59.13C636.72,56.31 637.16,53.67 637.95,51.74C638.74,49.8 640.24,48.75 641.12,47.51C642,46.28 642.79,45.58 643.23,44.35C643.67,43.11 643.93,41.71 643.76,40.12C643.58,38.54 642.96,36.6 642.17,34.84C641.38,33.08 639.71,31.32 639.01,29.56C638.3,27.8 638.13,26.22 637.95,24.28C637.77,22.35 637.6,19.89 637.95,17.95C638.3,16.01 638.83,14.17 640.06,12.67C641.29,11.17 643.23,9.94 645.34,8.97C647.45,8.01 650.27,6.78 652.73,6.86C655.2,6.95 658.01,8.18 660.12,9.5C662.23,10.82 664.26,12.85 665.4,14.78C666.55,16.72 666.63,19.18 666.99,21.12C667.34,23.05 667.07,24.99 667.51,26.4C667.95,27.8 669.45,28.33 669.63,29.56C669.8,30.8 669.1,32.56 668.57,33.79C668.04,35.02 667.16,35.9 666.46,36.95C665.75,38.01 665.23,39.42 664.35,40.12C663.47,40.83 662.15,40.47 661.18,41.18C660.21,41.88 659.07,42.94 658.54,44.35C658.01,45.75 657.75,47.51 658.01,49.63C658.27,51.74 659.07,54.55 660.12,57.02C661.18,59.48 662.94,61.94 664.35,64.41C665.75,66.87 667.6,69.69 668.57,71.8C669.54,73.91 670.15,75.49 670.15,77.08C670.15,78.66 669.19,80.24 668.57,81.3C667.95,82.36 666.9,82 666.46,83.41C666.02,84.82 666.02,86.93 665.93,89.75C665.84,92.56 665.93,96.79 665.93,100.31C665.93,103.83 665.93,107.35 665.93,110.86C665.93,114.38 665.98,117.27 665.93,121.42C665.88,125.58 665.72,131 665.61,135.78" class="o"/>
<path d="M637.73,135.76C646.44,135.76 655.14,135.76 663.84,135.76C663.68,138.72 663.6,140.69 663.35,144.63C663.1,148.57 662.69,154.48 662.36,159.41C662.04,164.33 661.87,170.08 661.38,174.19C660.89,178.29 660.23,180.76 659.41,184.04C658.59,187.32 657.44,190.61 656.45,193.89C655.47,197.18 654.32,200.46 653.5,203.74C652.68,207.03 652.02,210.31 651.53,213.6C651.03,216.88 650.71,220.49 650.54,223.45C650.38,226.4 650.38,229.2 650.54,231.33C650.71,233.46 650.54,234.94 651.53,236.26C652.51,237.57 654.48,238.23 656.45,239.21C658.42,240.2 661.22,241.35 663.35,242.17C665.48,242.99 668.19,243.32 669.26,244.14C670.33,244.96 670.25,246.35 669.75,247.09C669.26,247.83 668.36,248.33 666.31,248.57C664.25,248.82 660.56,248.65 657.44,248.57C654.32,248.49 650.54,248.24 647.59,248.08C644.63,247.91 641.35,248.08 639.7,247.59C638.06,247.09 637.98,246.35 637.73,245.12C637.49,243.89 637.9,242.17 638.23,240.2C638.56,238.23 639.62,236.09 639.7,233.3C639.79,230.51 639.38,226.73 638.72,223.45C638.06,220.16 636.42,216.06 635.76,213.6C635.11,211.13 634.78,211.13 634.78,208.67C634.78,206.21 635.27,202.1 635.76,198.82C636.26,195.53 637.08,192.25 637.73,188.97C638.39,185.68 639.46,182.4 639.7,179.11C639.95,175.83 639.54,172.55 639.21,169.26C638.88,165.98 637.98,163.51 637.73,159.41C637.49,155.3 637.73,148.57 637.73,144.63C637.73,140.69 637.73,138.72 637.73,135.76Z" fill="#de3c36"/><path d="M663.84,135.76C663.68,138.72 663.6,140.69 663.35,144.63C663.1,148.57 662.69,154.48 662.36,159.41C662.04,164.33 661.87,170.08 661.38,174.19C660.89,178.29 660.23,180.76 659.41,184.04C658.59,187.32 657.44,190.61 656.45,193.89C655.47,197.18 654.32,200.46 653.5,203.74C652.68,207.03 652.02,210.31 651.53,213.6C651.03,216.88 650.71,220.49 650.54,223.45C650.38,226.4 650.38,229.2 650.54,231.33C650.71,233.46 650.54,234.94 651.53,236.26C652.51,237.57 654.48,238.23 656.45,239.21C658.42,240.2 661.22,241.35 663.35,242.17C665.48,242.99 668.19,243.32 669.26,244.14C670.33,244.96 670.25,246.35 669.75,247.09C669.26,247.83 668.36,248.33 666.31,248.57C664.25,248.82 660.56,248.65 657.44,248.57C654.32,248.49 650.54,248.24 647.59,248.08C644.63,247.91 641.35,248.08 639.7,247.59C638.06,247.09 637.98,246.35 637.73,245.12C637.49,243.89 637.9,242.17 638.23,240.2C638.56,238.23 639.62,236.09 639.7,233.3C639.79,230.51 639.38,226.73 638.72,223.45C638.06,220.16 636.42,216.06 635.76,213.6C635.11,211.13 634.78,211.13 634.78,208.67C634.78,206.21 635.27,202.1 635.76,198.82C636.26,195.53 637.08,192.25 637.73,188.97C638.39,185.68 639.46,182.4 639.7,179.11C639.95,175.83 639.54,172.55 639.21,169.26C638.88,165.98 637.98,163.51 637.73,159.41C637.49,155.3 637.73,148.57 637.73,144.63C637.73,140.69 637.73,138.72 637.73,135.76" class="o"/>
<path d="M653.79,67.05C649.56,60.54 645.34,54.02 641.12,47.51C640.06,48.92 638.74,49.8 637.95,51.74C637.16,53.67 636.72,56.31 636.37,59.13C636.01,61.94 636.1,65.29 635.84,68.63C635.57,71.97 635.22,76.2 634.78,79.19C634.34,82.18 633.37,84.47 633.2,86.58C633.02,88.69 633.29,89.92 633.73,91.86C634.17,93.8 635.22,96.08 635.84,98.19C636.45,100.31 636.81,102.95 637.42,104.53C638.04,106.11 638.65,106.29 639.53,107.7C640.41,109.1 641.65,111.04 642.7,112.98C643.76,114.91 645.08,117.02 645.87,119.31C646.66,121.6 647.1,124.41 647.45,126.7C647.8,128.99 647.63,131.1 647.98,133.04C648.33,134.97 648.77,136.91 649.56,138.32C650.36,139.72 651.68,141.13 652.73,141.48C653.79,141.84 655.02,141.13 655.9,140.43C656.78,139.72 657.48,138.67 658.01,137.26C658.54,135.85 659.07,133.74 659.07,131.98C659.07,130.22 658.54,128.29 658.01,126.7C657.48,125.12 656.78,123.89 655.9,122.48C655.02,121.07 653.79,120.19 652.73,118.26C651.68,116.32 650.44,113.33 649.56,110.86C648.68,108.4 648.07,106.11 647.45,103.47C646.84,100.83 646.22,97.67 645.87,95.03C645.52,92.39 645.25,90.28 645.34,87.64C645.43,85 645.69,81.83 646.4,79.19C647.1,76.55 648.33,73.82 649.56,71.8C650.8,69.77 652.38,68.63 653.79,67.05Z" fill="#f3b9ae"/><path d="M641.12,47.51C640.06,48.92 638.74,49.8 637.95,51.74C637.16,53.67 636.72,56.31 636.37,59.13C636.01,61.94 636.1,65.29 635.84,68.63C635.57,71.97 635.22,76.2 634.78,79.19C634.34,82.18 633.37,84.47 633.2,86.58C633.02,88.69 633.29,89.92 633.73,91.86C634.17,93.8 635.22,96.08 635.84,98.19C636.45,100.31 636.81,102.95 637.42,104.53C638.04,106.11 638.65,106.29 639.53,107.7C640.41,109.1 641.65,111.04 642.7,112.98C643.76,114.91 645.08,117.02 645.87,119.31C646.66,121.6 647.1,124.41 647.45,126.7C647.8,128.99 647.63,131.1 647.98,133.04C648.33,134.97 648.77,136.91 649.56,138.32C650.36,139.72 651.68,141.13 652.73,141.48C653.79,141.84 655.02,141.13 655.9,140.43C656.78,139.72 657.48,138.67 658.01,137.26C658.54,135.85 659.07,133.74 659.07,131.98C659.07,130.22 658.54,128.29 658.01,126.7C657.48,125.12 656.78,123.89 655.9,122.48C655.02,121.07 653.79,120.19 652.73,118.26C651.68,116.32 650.44,113.33 649.56,110.86C648.68,108.4 648.07,106.11 647.45,103.47C646.84,100.83 646.22,97.67 645.87,95.03C645.52,92.39 645.25,90.28 645.34,87.64C645.43,85 645.69,81.83 646.4,79.19C647.1,76.55 648.33,73.82 649.56,71.8C650.8,69.77 652.38,68.63 653.79,67.05" class="o"/>
</g>
<g>
<path d="M785.34,82.23C785.69,76.74 781.68,64.07 780.27,61.96C778.86,59.85 778.58,66.46 776.89,69.56C775.2,72.66 771.97,77.02 770.14,80.54C768.31,84.06 766.76,87.58 765.91,90.68C765.07,93.77 764.93,95.6 765.07,99.12C765.21,102.64 766.33,107.57 766.76,111.79C767.18,116.01 767.67,121.22 767.6,124.46C767.53,127.7 766.48,128.68 766.33,131.22C766.19,133.75 766.12,137.41 766.76,139.66C767.39,141.91 768.87,143.74 770.14,144.73C771.4,145.72 773.3,146.14 774.36,145.57C775.41,145.01 776.26,143.46 776.47,141.35C776.68,139.24 775.98,135.72 775.62,132.91C775.27,130.09 774.5,127.98 774.36,124.46C774.22,120.94 774.5,116.01 774.78,111.79C775.06,107.57 775.48,101.94 776.05,99.12C776.61,96.31 776.61,97.71 778.16,94.9C779.71,92.08 784.99,87.72 785.34,82.23Z" fill="#f3b9ae"/><path d="M785.34,82.23C785.69,76.74 781.68,64.07 780.27,61.96C778.86,59.85 778.58,66.46 776.89,69.56C775.2,72.66 771.97,77.02 770.14,80.54C768.31,84.06 766.76,87.58 765.91,90.68C765.07,93.77 764.93,95.6 765.07,99.12C765.21,102.64 766.33,107.57 766.76,111.79C767.18,116.01 767.67,121.22 767.6,124.46C767.53,127.7 766.48,128.68 766.33,131.22C766.19,133.75 766.12,137.41 766.76,139.66C767.39,141.91 768.87,143.74 770.14,144.73C771.4,145.72 773.3,146.14 774.36,145.57C775.41,145.01 776.26,143.46 776.47,141.35C776.68,139.24 775.98,135.72 775.62,132.91C775.27,130.09 774.5,127.98 774.36,124.46C774.22,120.94 774.5,116.01 774.78,111.79C775.06,107.57 775.48,101.94 776.05,99.12C776.61,96.31 776.61,97.71 778.16,94.9C779.71,92.08 784.99,87.72 785.34,82.23Z" class="o"/>
<path d="M793.51,134.23C796.33,130.18 806.57,135.29 810.45,137.41C814.33,139.53 814.86,143.58 816.8,146.94C818.74,150.29 820.33,153.64 822.09,157.52C823.86,161.4 825.8,165.99 827.39,170.22C828.97,174.46 830.74,179.05 831.62,182.93C832.5,186.81 831.8,189.1 832.68,193.51C833.56,197.92 835.5,204.45 836.91,209.39C838.32,214.33 839.91,219.45 841.15,223.15C842.38,226.86 843.26,229.5 844.32,231.62C845.38,233.74 845.38,234.97 847.5,235.85C849.61,236.74 853.67,236.65 857.02,236.91C860.38,237.18 865.32,237.09 867.61,237.44C869.9,237.79 870.79,238.24 870.79,239.03C870.79,239.82 869.2,241.41 867.61,242.2C866.02,243 863.55,243.26 861.26,243.79C858.97,244.32 855.97,244.41 853.85,245.38C851.73,246.35 850.14,248.38 848.56,249.61C846.97,250.85 845.82,252.44 844.32,252.79C842.82,253.14 840.44,252.79 839.56,251.73C838.68,250.67 838.94,248.2 839.03,246.44C839.12,244.67 840.44,242.91 840.09,241.15C839.74,239.38 838.32,237.97 836.91,235.85C835.5,233.74 833.56,231.09 831.62,228.44C829.68,225.8 827.21,223.15 825.27,219.98C823.33,216.8 821.12,212.92 819.98,209.39C818.83,205.86 818.74,201.63 818.39,198.8C818.04,195.98 819.01,194.92 817.86,192.45C816.71,189.98 813.8,186.81 811.51,183.99C809.21,181.16 806.39,177.99 804.1,175.52C801.8,173.05 799.51,171.46 797.75,169.17C795.98,166.87 794.22,167.58 793.51,161.76C792.81,155.93 790.69,138.29 793.51,134.23Z" fill="#f3b9ae"/><path d="M793.51,134.23C796.33,130.18 806.57,135.29 810.45,137.41C814.33,139.53 814.86,143.58 816.8,146.94C818.74,150.29 820.33,153.64 822.09,157.52C823.86,161.4 825.8,165.99 827.39,170.22C828.97,174.46 830.74,179.05 831.62,182.93C832.5,186.81 831.8,189.1 832.68,193.51C833.56,197.92 835.5,204.45 836.91,209.39C838.32,214.33 839.91,219.45 841.15,223.15C842.38,226.86 843.26,229.5 844.32,231.62C845.38,233.74 845.38,234.97 847.5,235.85C849.61,236.74 853.67,236.65 857.02,236.91C860.38,237.18 865.32,237.09 867.61,237.44C869.9,237.79 870.79,238.24 870.79,239.03C870.79,239.82 869.2,241.41 867.61,242.2C866.02,243 863.55,243.26 861.26,243.79C858.97,244.32 855.97,244.41 853.85,245.38C851.73,246.35 850.14,248.38 848.56,249.61C846.97,250.85 845.82,252.44 844.32,252.79C842.82,253.14 840.44,252.79 839.56,251.73C838.68,250.67 838.94,248.2 839.03,246.44C839.12,244.67 840.44,242.91 840.09,241.15C839.74,239.38 838.32,237.97 836.91,235.85C835.5,233.74 833.56,231.09 831.62,228.44C829.68,225.8 827.21,223.15 825.27,219.98C823.33,216.8 821.12,212.92 819.98,209.39C818.83,205.86 818.74,201.63 818.39,198.8C818.04,195.98 819.01,194.92 817.86,192.45C816.71,189.98 813.8,186.81 811.51,183.99C809.21,181.16 806.39,177.99 804.1,175.52C801.8,173.05 799.51,171.46 797.75,169.17C795.98,166.87 794.22,167.58 793.51,161.76C792.81,155.93 790.69,138.29 793.51,134.23Z" class="o"/>
<path d="M796.25,10.58C797.66,10.48 799.07,10.37 800.48,10.8C801.89,11.22 803.45,12.17 804.72,13.12C805.99,14.08 807.19,15.31 808.1,16.51C809.02,17.71 809.73,18.98 810.22,20.32C810.71,21.66 810.89,23.14 811.07,24.56C811.24,25.97 811,27.66 811.28,28.79C811.56,29.92 812.44,30.48 812.76,31.33C813.08,32.18 813.32,32.95 813.18,33.87C813.04,34.79 812.34,35.92 811.91,36.83C811.49,37.75 811,38.46 810.64,39.37C810.29,40.29 810.08,41.49 809.8,42.34C809.51,43.18 809.44,43.89 808.95,44.45C808.46,45.02 807.61,45.37 806.83,45.72C806.06,46.08 805,46.08 804.29,46.57C803.59,47.06 803.08,47.25 802.6,48.69C802.11,50.13 801.17,52.99 801.39,55.2C801.61,57.41 802.65,59.28 803.92,61.96C805.19,64.63 807.3,68.15 808.99,71.25C810.68,74.35 813.07,78.57 814.05,80.54C815.04,82.51 815.32,81.81 814.9,83.07C814.48,84.34 812.51,86.59 811.52,88.14C810.53,89.69 809.27,89.13 808.99,92.36C808.7,95.6 809.55,103.2 809.83,107.57C810.11,111.93 810.39,115.73 810.68,118.55C810.96,121.36 811.38,122.07 811.52,124.46C811.66,126.85 811.66,130.37 811.52,132.91C811.38,135.44 810.96,137.41 810.68,139.66C799.41,139.66 788.15,139.66 776.89,139.66C776.61,137.41 776.26,135.44 776.05,132.91C775.84,130.37 775.48,127.27 775.62,124.46C775.77,121.64 776.26,118.83 776.89,116.01C777.53,113.2 778.86,110.38 779.43,107.57C779.99,104.75 780.48,101.66 780.27,99.12C780.06,96.59 778.65,95.18 778.16,92.36C777.67,89.55 777.31,86.03 777.31,82.23C777.31,78.43 777.67,72.94 778.16,69.56C778.65,66.18 779.37,64.52 780.27,61.96C781.17,59.4 782.65,56.05 783.55,54.19C784.45,52.33 785.03,51.86 785.66,50.8C786.3,49.75 787.01,49.04 787.36,47.84C787.71,46.64 787.78,44.88 787.78,43.61C787.78,42.34 787.64,41.28 787.36,40.22C787.08,39.16 786.65,38.31 786.09,37.26C785.52,36.2 784.54,34.93 783.97,33.87C783.41,32.81 783.05,32.32 782.7,30.91C782.35,29.49 781.92,27.17 781.85,25.4C781.78,23.64 781.92,21.73 782.28,20.32C782.63,18.91 783.05,17.99 783.97,16.93C784.89,15.88 786.44,14.89 787.78,13.97C789.12,13.05 790.6,12 792.02,11.43C793.43,10.87 794.84,10.69 796.25,10.58Z" fill="#f3b9ae"/><path d="M776.89,139.66C776.61,137.41 776.26,135.44 776.05,132.91C775.84,130.37 775.48,127.27 775.62,124.46C775.77,121.64 776.26,118.83 776.89,116.01C777.53,113.2 778.86,110.38 779.43,107.57C779.99,104.75 780.48,101.66 780.27,99.12C780.06,96.59 778.65,95.18 778.16,92.36C777.67,89.55 777.31,86.03 777.31,82.23C777.31,78.43 777.67,72.94 778.16,69.56C778.65,66.18 779.37,64.52 780.27,61.96C781.17,59.4 782.65,56.05 783.55,54.19C784.45,52.33 785.03,51.86 785.66,50.8C786.3,49.75 787.01,49.04 787.36,47.84C787.71,46.64 787.78,44.88 787.78,43.61C787.78,42.34 787.64,41.28 787.36,40.22C787.08,39.16 786.65,38.31 786.09,37.26C785.52,36.2 784.54,34.93 783.97,33.87C783.41,32.81 783.05,32.32 782.7,30.91C782.35,29.49 781.92,27.17 781.85,25.4C781.78,23.64 781.92,21.73 782.28,20.32C782.63,18.91 783.05,17.99 783.97,16.93C784.89,15.88 786.44,14.89 787.78,13.97C789.12,13.05 790.6,12 792.02,11.43C793.43,10.87 794.84,10.69 796.25,10.58C797.66,10.48 799.07,10.37 800.48,10.8C801.89,11.22 803.45,12.17 804.72,13.12C805.99,14.08 807.19,15.31 808.1,16.51C809.02,17.71 809.73,18.98 810.22,20.32C810.71,21.66 810.89,23.14 811.07,24.56C811.24,25.97 811,27.66 811.28,28.79C811.56,29.92 812.44,30.48 812.76,31.33C813.08,32.18 813.32,32.95 813.18,33.87C813.04,34.79 812.34,35.92 811.91,36.83C811.49,37.75 811,38.46 810.64,39.37C810.29,40.29 810.08,41.49 809.8,42.34C809.51,43.18 809.44,43.89 808.95,44.45C808.46,45.02 807.61,45.37 806.83,45.72C806.06,46.08 805,46.08 804.29,46.57C803.59,47.06 803.08,47.25 802.6,48.69C802.11,50.13 801.17,52.99 801.39,55.2C801.61,57.41 802.65,59.28 803.92,61.96C805.19,64.63 807.3,68.15 808.99,71.25C810.68,74.35 813.07,78.57 814.05,80.54C815.04,82.51 815.32,81.81 814.9,83.07C814.48,84.34 812.51,86.59 811.52,88.14C810.53,89.69 809.27,89.13 808.99,92.36C808.7,95.6 809.55,103.2 809.83,107.57C810.11,111.93 810.39,115.73 810.68,118.55C810.96,121.36 811.38,122.07 811.52,124.46C811.66,126.85 811.66,130.37 811.52,132.91C811.38,135.44 810.96,137.41 810.68,139.66" class="o"/>
<path d="M777.85,140.37C787.94,140.27 798.03,140.16 808.12,140.06C806.78,143.41 805.39,146.67 804.1,150.11C802.81,153.55 801.45,157.7 800.39,160.7C799.33,163.7 798.89,165.46 797.75,168.11C796.6,170.75 794.84,173.75 793.51,176.58C792.19,179.4 790.6,182.93 789.81,185.04C789.01,187.16 789.37,187.87 788.75,189.28C788.13,190.69 787.78,191.57 786.1,193.51C784.43,195.45 781.34,198.45 778.69,200.92C776.05,203.39 773.05,205.69 770.22,208.33C767.4,210.98 764.23,213.98 761.76,216.8C759.29,219.62 757.17,222.8 755.4,225.27C753.64,227.74 751.79,230.03 751.17,231.62C750.55,233.21 750.99,233.56 751.7,234.8C752.41,236.03 753.91,237.44 755.4,239.03C756.9,240.62 759.11,242.91 760.7,244.32C762.29,245.73 764.14,246.35 764.93,247.5C765.73,248.64 765.99,250.32 765.46,251.2C764.93,252.08 763.26,252.53 761.76,252.79C760.26,253.05 758.58,253.32 756.46,252.79C754.35,252.26 751.7,251.03 749.05,249.61C746.41,248.2 742.79,246.09 740.59,244.32C738.38,242.56 736.35,240.26 735.82,239.03C735.29,237.79 736.44,238.15 737.41,236.91C738.38,235.68 740.41,233.91 741.64,231.62C742.88,229.33 743.76,226.33 744.82,223.15C745.88,219.98 746.94,215.39 748,212.57C749.05,209.74 749.76,208.16 751.17,206.21C752.58,204.27 754.35,202.86 756.46,200.92C758.58,198.98 761.76,196.51 763.87,194.57C765.99,192.63 768.11,191.22 769.17,189.28C770.22,187.34 770.05,185.75 770.22,182.93C770.4,180.1 770.05,176.22 770.22,172.34C770.4,168.46 770.75,163.17 771.28,159.64C771.81,156.11 772.31,154.38 773.4,151.17C774.49,147.96 776.36,143.97 777.85,140.37Z" fill="#de3c36"/><path d="M808.12,140.06C806.78,143.41 805.39,146.67 804.1,150.11C802.81,153.55 801.45,157.7 800.39,160.7C799.33,163.7 798.89,165.46 797.75,168.11C796.6,170.75 794.84,173.75 793.51,176.58C792.19,179.4 790.6,182.93 789.81,185.04C789.01,187.16 789.37,187.87 788.75,189.28C788.13,190.69 787.78,191.57 786.1,193.51C784.43,195.45 781.34,198.45 778.69,200.92C776.05,203.39 773.05,205.69 770.22,208.33C767.4,210.98 764.23,213.98 761.76,216.8C759.29,219.62 757.17,222.8 755.4,225.27C753.64,227.74 751.79,230.03 751.17,231.62C750.55,233.21 750.99,233.56 751.7,234.8C752.41,236.03 753.91,237.44 755.4,239.03C756.9,240.62 759.11,242.91 760.7,244.32C762.29,245.73 764.14,246.35 764.93,247.5C765.73,248.64 765.99,250.32 765.46,251.2C764.93,252.08 763.26,252.53 761.76,252.79C760.26,253.05 758.58,253.32 756.46,252.79C754.35,252.26 751.7,251.03 749.05,249.61C746.41,248.2 742.79,246.09 740.59,244.32C738.38,242.56 736.35,240.26 735.82,239.03C735.29,237.79 736.44,238.15 737.41,236.91C738.38,235.68 740.41,233.91 741.64,231.62C742.88,229.33 743.76,226.33 744.82,223.15C745.88,219.98 746.94,215.39 748,212.57C749.05,209.74 749.76,208.16 751.17,206.21C752.58,204.27 754.35,202.86 756.46,200.92C758.58,198.98 761.76,196.51 763.87,194.57C765.99,192.63 768.11,191.22 769.17,189.28C770.22,187.34 770.05,185.75 770.22,182.93C770.4,180.1 770.05,176.22 770.22,172.34C770.4,168.46 770.75,163.17 771.28,159.64C771.81,156.11 772.31,154.38 773.4,151.17C774.49,147.96 776.36,143.97 777.85,140.37" class="o"/>
<path d="M802.23,72.09C796.32,70.69 790.41,69.28 784.49,67.87C786.18,72.09 787.73,76.18 789.56,80.54C791.39,84.9 794.21,90.11 795.47,94.05C796.74,98 795.75,101.51 797.16,104.19C798.57,106.86 800.96,107.85 803.92,110.1C806.88,112.35 810.96,114.75 814.9,117.7C818.84,120.66 825.03,125.3 827.57,127.84C830.1,130.37 828.69,131.36 830.1,132.91C831.51,134.45 833.62,136.28 836.01,137.13C838.41,137.97 842.77,138.68 844.46,137.97C846.15,137.27 846.71,135.16 846.15,132.91C845.59,130.65 843.05,126.29 841.08,124.46C839.11,122.63 836.58,122.91 834.32,121.93C832.07,120.94 830.1,120.24 827.57,118.55C825.03,116.86 821.37,113.9 819.12,111.79C816.87,109.68 815.6,107.99 814.05,105.88C812.51,103.77 810.82,101.09 809.83,99.12C808.85,97.15 808.56,96.02 808.14,94.05C807.72,92.08 807.86,90.11 807.3,87.3C806.73,84.48 805.61,79.7 804.76,77.16C803.92,74.63 803.07,73.78 802.23,72.09Z" fill="#f3b9ae"/><path d="M784.49,67.87C786.18,72.09 787.73,76.18 789.56,80.54C791.39,84.9 794.21,90.11 795.47,94.05C796.74,98 795.75,101.51 797.16,104.19C798.57,106.86 800.96,107.85 803.92,110.1C806.88,112.35 810.96,114.75 814.9,117.7C818.84,120.66 825.03,125.3 827.57,127.84C830.1,130.37 828.69,131.36 830.1,132.91C831.51,134.45 833.62,136.28 836.01,137.13C838.41,137.97 842.77,138.68 844.46,137.97C846.15,137.27 846.71,135.16 846.15,132.91C845.59,130.65 843.05,126.29 841.08,124.46C839.11,122.63 836.58,122.91 834.32,121.93C832.07,120.94 830.1,120.24 827.57,118.55C825.03,116.86 821.37,113.9 819.12,111.79C816.87,109.68 815.6,107.99 814.05,105.88C812.51,103.77 810.82,101.09 809.83,99.12C808.85,97.15 808.56,96.02 808.14,94.05C807.72,92.08 807.86,90.11 807.3,87.3C806.73,84.48 805.61,79.7 804.76,77.16C803.92,74.63 803.07,73.78 802.23,72.09" class="o"/>
</g>
<g>
<path d="M981.39,73.88C981.56,69.83 976.28,62.09 974.53,61.21C972.77,60.33 972.15,65.79 970.83,68.6C969.51,71.42 968.02,74.93 966.61,78.1C965.2,81.27 963.27,85.14 962.39,87.6C961.51,90.06 961.16,91.12 961.33,92.88C961.51,94.64 962.48,96.22 963.44,98.15C964.41,100.09 965.91,102.55 967.14,104.49C968.37,106.42 969.95,108 970.83,109.76C971.71,111.52 971.89,116.09 972.41,115.04C972.94,113.98 974.09,106.42 974,103.43C973.91,100.44 972.33,99.21 971.89,97.1C971.45,94.99 971.09,92.7 971.36,90.77C971.62,88.83 971.8,88.3 973.47,85.49C975.14,82.67 981.21,77.92 981.39,73.88Z" fill="#f3b9ae"/><path d="M981.39,73.88C981.56,69.83 976.28,62.09 974.53,61.21C972.77,60.33 972.15,65.79 970.83,68.6C969.51,71.42 968.02,74.93 966.61,78.1C965.2,81.27 963.27,85.14 962.39,87.6C961.51,90.06 961.16,91.12 961.33,92.88C961.51,94.64 962.48,96.22 963.44,98.15C964.41,100.09 965.91,102.55 967.14,104.49C968.37,106.42 969.95,108 970.83,109.76C971.71,111.52 971.89,116.09 972.41,115.04C972.94,113.98 974.09,106.42 974,103.43C973.91,100.44 972.33,99.21 971.89,97.1C971.45,94.99 971.09,92.7 971.36,90.77C971.62,88.83 971.8,88.3 973.47,85.49C975.14,82.67 981.21,77.92 981.39,73.88Z" class="o"/>
<path d="M998.97,129.85C999.62,128.7 1001.76,131.49 1002.91,132.81C1004.06,134.12 1004.55,135.76 1005.86,137.73C1007.18,139.7 1009.15,141.84 1010.79,144.63C1012.43,147.42 1014.07,151.2 1015.71,154.48C1017.36,157.77 1019.16,160.56 1020.64,164.33C1022.12,168.11 1023.92,173.04 1024.58,177.14C1025.24,181.25 1024.83,185.35 1024.58,188.97C1024.33,192.58 1023.6,195.53 1023.1,198.82C1022.61,202.1 1022.04,205.39 1021.63,208.67C1021.22,211.95 1020.97,215.24 1020.64,218.52C1020.31,221.81 1019.66,225.58 1019.66,228.37C1019.66,231.17 1019.49,233.79 1020.64,235.27C1021.79,236.75 1024.25,236.58 1026.55,237.24C1028.85,237.9 1032.13,238.23 1034.43,239.21C1036.73,240.2 1039.36,242 1040.34,243.15C1041.33,244.3 1041.33,245.45 1040.34,246.11C1039.36,246.77 1037.06,246.85 1034.43,247.09C1031.81,247.34 1027.54,247.34 1024.58,247.59C1021.63,247.83 1019,248.33 1016.7,248.57C1014.4,248.82 1012.1,249.47 1010.79,249.06C1009.47,248.65 1009.15,247.75 1008.82,246.11C1008.49,244.47 1009.15,242.17 1008.82,239.21C1008.49,236.26 1007.67,231.82 1006.85,228.37C1006.03,224.93 1004.55,221.81 1003.89,218.52C1003.23,215.24 1002.91,211.95 1002.91,208.67C1002.91,205.39 1003.4,202.1 1003.89,198.82C1004.38,195.53 1005.7,191.59 1005.86,188.97C1006.03,186.34 1005.86,184.86 1004.88,183.05C1003.89,181.25 1000.94,182.07 999.95,178.13C998.97,174.19 999.13,165.81 998.97,159.41C998.8,153 998.97,144.63 998.97,139.7C998.97,134.78 998.31,131 998.97,129.85Z" fill="#f3b9ae"/><path d="M998.97,129.85C999.62,128.7 1001.76,131.49 1002.91,132.81C1004.06,134.12 1004.55,135.76 1005.86,137.73C1007.18,139.7 1009.15,141.84 1010.79,144.63C1012.43,147.42 1014.07,151.2 1015.71,154.48C1017.36,157.77 1019.16,160.56 1020.64,164.33C1022.12,168.11 1023.92,173.04 1024.58,177.14C1025.24,181.25 1024.83,185.35 1024.58,188.97C1024.33,192.58 1023.6,195.53 1023.1,198.82C1022.61,202.1 1022.04,205.39 1021.63,208.67C1021.22,211.95 1020.97,215.24 1020.64,218.52C1020.31,221.81 1019.66,225.58 1019.66,228.37C1019.66,231.17 1019.49,233.79 1020.64,235.27C1021.79,236.75 1024.25,236.58 1026.55,237.24C1028.85,237.9 1032.13,238.23 1034.43,239.21C1036.73,240.2 1039.36,242 1040.34,243.15C1041.33,244.3 1041.33,245.45 1040.34,246.11C1039.36,246.77 1037.06,246.85 1034.43,247.09C1031.81,247.34 1027.54,247.34 1024.58,247.59C1021.63,247.83 1019,248.33 1016.7,248.57C1014.4,248.82 1012.1,249.47 1010.79,249.06C1009.47,248.65 1009.15,247.75 1008.82,246.11C1008.49,244.47 1009.15,242.17 1008.82,239.21C1008.49,236.26 1007.67,231.82 1006.85,228.37C1006.03,224.93 1004.55,221.81 1003.89,218.52C1003.23,215.24 1002.91,211.95 1002.91,208.67C1002.91,205.39 1003.4,202.1 1003.89,198.82C1004.38,195.53 1005.7,191.59 1005.86,188.97C1006.03,186.34 1005.86,184.86 1004.88,183.05C1003.89,181.25 1000.94,182.07 999.95,178.13C998.97,174.19 999.13,165.81 998.97,159.41C998.8,153 998.97,144.63 998.97,139.7C998.97,134.78 998.31,131 998.97,129.85Z" class="o"/>
<path d="M992.99,6.86C995.28,6.77 997.39,7.48 999.33,8.44C1001.26,9.41 1003.28,10.91 1004.6,12.66C1005.92,14.42 1006.72,17.06 1007.24,19C1007.77,20.93 1007.33,22.69 1007.77,24.27C1008.21,25.86 1009.62,27.09 1009.88,28.5C1010.15,29.9 1009.79,31.31 1009.35,32.72C1008.91,34.12 1007.86,35.71 1007.24,36.94C1006.63,38.17 1006.45,39.31 1005.66,40.11C1004.87,40.9 1003.37,41.16 1002.49,41.69C1001.61,42.22 1000.91,42.3 1000.38,43.27C999.85,44.24 999.5,45.91 999.33,47.49C999.15,49.08 998.8,50.84 999.33,52.77C999.85,54.71 1001.26,56.82 1002.49,59.1C1003.72,61.39 1005.48,64.2 1006.72,66.49C1007.95,68.78 1009.44,70.71 1009.88,72.82C1010.32,74.93 1009.79,77.4 1009.35,79.16C1008.91,80.91 1007.68,81.62 1007.24,83.38C1006.8,85.14 1006.8,86.9 1006.72,89.71C1006.63,92.52 1006.89,96.75 1006.72,100.26C1006.54,103.78 1006.01,107.3 1005.66,110.82C1005.31,114.34 1004.87,118.73 1004.6,121.37C1004.34,124.01 1004.29,124.42 1004.08,126.65C1003.87,128.88 1003.58,132.07 1003.34,134.78C992.5,134.78 981.67,134.78 970.83,134.78C970.48,132.07 969.86,129.23 969.78,126.65C969.69,124.06 969.86,121.37 970.3,119.26C970.74,117.15 971.71,115.92 972.41,113.98C973.12,112.05 974.17,109.94 974.53,107.65C974.88,105.36 974.7,103.25 974.53,100.26C974.35,97.27 973.73,93.23 973.47,89.71C973.21,86.19 972.94,82.67 972.94,79.16C972.94,75.64 973.21,71.59 973.47,68.6C973.73,65.61 973.73,63.68 974.53,61.21C975.32,58.75 976.72,56.11 978.22,53.83C979.71,51.54 982.26,49.43 983.5,47.49C984.73,45.56 985.43,43.98 985.61,42.22C985.78,40.46 985.17,38.7 984.55,36.94C983.94,35.18 982.7,33.6 981.91,31.66C981.12,29.73 980.24,27.62 979.8,25.33C979.36,23.04 979.1,20.05 979.27,17.94C979.45,15.83 979.8,14.16 980.86,12.66C981.91,11.17 983.58,9.94 985.61,8.97C987.63,8 990.71,6.95 992.99,6.86Z" fill="#f3b9ae"/><path d="M970.83,134.78C970.48,132.07 969.86,129.23 969.78,126.65C969.69,124.06 969.86,121.37 970.3,119.26C970.74,117.15 971.71,115.92 972.41,113.98C973.12,112.05 974.17,109.94 974.53,107.65C974.88,105.36 974.7,103.25 974.53,100.26C974.35,97.27 973.73,93.23 973.47,89.71C973.21,86.19 972.94,82.67 972.94,79.16C972.94,75.64 973.21,71.59 973.47,68.6C973.73,65.61 973.73,63.68 974.53,61.21C975.32,58.75 976.72,56.11 978.22,53.83C979.71,51.54 982.26,49.43 983.5,47.49C984.73,45.56 985.43,43.98 985.61,42.22C985.78,40.46 985.17,38.7 984.55,36.94C983.94,35.18 982.7,33.6 981.91,31.66C981.12,29.73 980.24,27.62 979.8,25.33C979.36,23.04 979.1,20.05 979.27,17.94C979.45,15.83 979.8,14.16 980.86,12.66C981.91,11.17 983.58,9.94 985.61,8.97C987.63,8 990.71,6.95 992.99,6.86C995.28,6.77 997.39,7.48 999.33,8.44C1001.26,9.41 1003.28,10.91 1004.6,12.66C1005.92,14.42 1006.72,17.06 1007.24,19C1007.77,20.93 1007.33,22.69 1007.77,24.27C1008.21,25.86 1009.62,27.09 1009.88,28.5C1010.15,29.9 1009.79,31.31 1009.35,32.72C1008.91,34.12 1007.86,35.71 1007.24,36.94C1006.63,38.17 1006.45,39.31 1005.66,40.11C1004.87,40.9 1003.37,41.16 1002.49,41.69C1001.61,42.22 1000.91,42.3 1000.38,43.27C999.85,44.24 999.5,45.91 999.33,47.49C999.15,49.08 998.8,50.84 999.33,52.77C999.85,54.71 1001.26,56.82 1002.49,59.1C1003.72,61.39 1005.48,64.2 1006.72,66.49C1007.95,68.78 1009.44,70.71 1009.88,72.82C1010.32,74.93 1009.79,77.4 1009.35,79.16C1008.91,80.91 1007.68,81.62 1007.24,83.38C1006.8,85.14 1006.8,86.9 1006.72,89.71C1006.63,92.52 1006.89,96.75 1006.72,100.26C1006.54,103.78 1006.01,107.3 1005.66,110.82C1005.31,114.34 1004.87,118.73 1004.6,121.37C1004.34,124.01 1004.29,124.42 1004.08,126.65C1003.87,128.88 1003.58,132.07 1003.34,134.78" class="o"/>
<path d="M970.89,134.98C980.74,134.84 990.59,134.71 1000.44,134.58C1000.28,139.57 1000.11,144.6 999.95,149.56C999.79,154.52 999.62,159.41 999.46,164.33C999.29,169.26 999.21,175.34 998.97,179.11C998.72,182.89 998.8,185.02 997.98,187C997.16,188.97 995.85,189.29 994.04,190.94C992.23,192.58 989.61,194.88 987.14,196.85C984.68,198.82 981.89,200.95 979.26,202.76C976.63,204.56 974.17,205.71 971.38,207.68C968.59,209.66 965.14,212.12 962.51,214.58C959.89,217.04 956.93,220.49 955.62,222.46C954.3,224.43 954.47,224.93 954.63,226.4C954.79,227.88 955.62,229.69 956.6,231.33C957.59,232.97 959.23,234.61 960.54,236.26C961.86,237.9 963.83,239.87 964.48,241.18C965.14,242.5 965.3,243.45 964.48,244.14C963.66,244.83 961.36,245.65 959.56,245.32C957.75,244.99 955.78,243.84 953.65,242.17C951.51,240.49 949.05,237.41 946.75,235.27C944.45,233.14 941.49,231.17 939.85,229.36C938.21,227.55 937.06,225.91 936.9,224.43C936.73,222.96 937.55,221.97 938.87,220.49C940.18,219.01 942.97,217.37 944.78,215.57C946.58,213.76 947.9,212.12 949.7,209.66C951.51,207.19 953.65,203.58 955.62,200.79C957.59,198 959.23,195.21 961.53,192.91C963.83,190.61 966.95,188.64 969.41,187C971.87,185.35 974.42,184.37 976.31,183.05C978.19,181.74 980.25,180.92 980.74,179.11C981.23,177.31 980,175.01 979.26,172.22C978.52,169.43 977.29,166.14 976.31,162.36C975.32,158.59 974.25,154.12 973.35,149.56C972.45,144.99 971.71,139.84 970.89,134.98Z" fill="#de3c36"/><path d="M1000.44,134.58C1000.28,139.57 1000.11,144.6 999.95,149.56C999.79,154.52 999.62,159.41 999.46,164.33C999.29,169.26 999.21,175.34 998.97,179.11C998.72,182.89 998.8,185.02 997.98,187C997.16,188.97 995.85,189.29 994.04,190.94C992.23,192.58 989.61,194.88 987.14,196.85C984.68,198.82 981.89,200.95 979.26,202.76C976.63,204.56 974.17,205.71 971.38,207.68C968.59,209.66 965.14,212.12 962.51,214.58C959.89,217.04 956.93,220.49 955.62,222.46C954.3,224.43 954.47,224.93 954.63,226.4C954.79,227.88 955.62,229.69 956.6,231.33C957.59,232.97 959.23,234.61 960.54,236.26C961.86,237.9 963.83,239.87 964.48,241.18C965.14,242.5 965.3,243.45 964.48,244.14C963.66,244.83 961.36,245.65 959.56,245.32C957.75,244.99 955.78,243.84 953.65,242.17C951.51,240.49 949.05,237.41 946.75,235.27C944.45,233.14 941.49,231.17 939.85,229.36C938.21,227.55 937.06,225.91 936.9,224.43C936.73,222.96 937.55,221.97 938.87,220.49C940.18,219.01 942.97,217.37 944.78,215.57C946.58,213.76 947.9,212.12 949.7,209.66C951.51,207.19 953.65,203.58 955.62,200.79C957.59,198 959.23,195.21 961.53,192.91C963.83,190.61 966.95,188.64 969.41,187C971.87,185.35 974.42,184.37 976.31,183.05C978.19,181.74 980.25,180.92 980.74,179.11C981.23,177.31 980,175.01 979.26,172.22C978.52,169.43 977.29,166.14 976.31,162.36C975.32,158.59 974.25,154.12 973.35,149.56C972.45,144.99 971.71,139.84 970.89,134.98" class="o"/>
<path d="M994.58,61.21C989.83,60.51 985.08,59.81 980.33,59.1C980.86,62.27 981.3,65.26 981.91,68.6C982.53,71.94 983.23,75.64 984.02,79.16C984.82,82.67 985.69,86.37 986.66,89.71C987.63,93.05 988.6,96.39 989.83,99.21C991.06,102.02 992.47,104.13 994.05,106.6C995.63,109.06 997.57,111.52 999.33,113.98C1001.09,116.45 1003.37,119.26 1004.6,121.37C1005.84,123.48 1006.5,125.07 1006.72,126.65C1006.93,128.23 1005.84,129.29 1005.87,130.87C1005.91,132.45 1006.26,134.74 1006.93,136.15C1007.59,137.55 1008.69,138.35 1009.88,139.31C1011.08,140.28 1012.7,141.6 1014.1,141.95C1015.51,142.3 1017.27,142.22 1018.32,141.42C1019.38,140.63 1020.17,138.79 1020.44,137.2C1020.7,135.62 1020.44,133.51 1019.91,131.93C1019.38,130.34 1018.24,128.76 1017.27,127.7C1016.3,126.65 1015.16,126.21 1014.1,125.59C1013.05,124.98 1011.99,124.89 1010.94,124.01C1009.88,123.13 1008.83,121.81 1007.77,120.32C1006.72,118.82 1005.66,116.8 1004.6,115.04C1003.55,113.28 1002.41,111.7 1001.44,109.76C1000.47,107.83 999.5,105.89 998.8,103.43C998.1,100.97 997.57,98.15 997.22,94.99C996.86,91.82 996.86,87.95 996.69,84.43C996.51,80.91 996.34,77.04 996.16,73.88C995.99,70.71 995.9,67.55 995.63,65.44C995.37,63.32 994.93,62.62 994.58,61.21Z" fill="#f3b9ae"/><path d="M980.33,59.1C980.86,62.27 981.3,65.26 981.91,68.6C982.53,71.94 983.23,75.64 984.02,79.16C984.82,82.67 985.69,86.37 986.66,89.71C987.63,93.05 988.6,96.39 989.83,99.21C991.06,102.02 992.47,104.13 994.05,106.6C995.63,109.06 997.57,111.52 999.33,113.98C1001.09,116.45 1003.37,119.26 1004.6,121.37C1005.84,123.48 1006.5,125.07 1006.72,126.65C1006.93,128.23 1005.84,129.29 1005.87,130.87C1005.91,132.45 1006.26,134.74 1006.93,136.15C1007.59,137.55 1008.69,138.35 1009.88,139.31C1011.08,140.28 1012.7,141.6 1014.1,141.95C1015.51,142.3 1017.27,142.22 1018.32,141.42C1019.38,140.63 1020.17,138.79 1020.44,137.2C1020.7,135.62 1020.44,133.51 1019.91,131.93C1019.38,130.34 1018.24,128.76 1017.27,127.7C1016.3,126.65 1015.16,126.21 1014.1,125.59C1013.05,124.98 1011.99,124.89 1010.94,124.01C1009.88,123.13 1008.83,121.81 1007.77,120.32C1006.72,118.82 1005.66,116.8 1004.6,115.04C1003.55,113.28 1002.41,111.7 1001.44,109.76C1000.47,107.83 999.5,105.89 998.8,103.43C998.1,100.97 997.57,98.15 997.22,94.99C996.86,91.82 996.86,87.95 996.69,84.43C996.51,80.91 996.34,77.04 996.16,73.88C995.99,70.71 995.9,67.55 995.63,65.44C995.37,63.32 994.93,62.62 994.58,61.21" class="o"/>
</g>
<g>
<path d="M1119.7,124.78C1117.32,124.78 1117.65,135.45 1117.24,139.56C1116.83,143.66 1117.16,146.12 1117.24,149.41C1117.32,152.69 1117.49,155.98 1117.73,159.26C1117.98,162.55 1118.47,165.83 1118.72,169.11C1118.97,172.4 1119.38,175.68 1119.21,178.97C1119.05,182.25 1118.31,185.53 1117.73,188.82C1117.16,192.1 1116.26,195.39 1115.76,198.67C1115.27,201.95 1115.02,205.24 1114.78,208.52C1114.53,211.81 1114.29,215.09 1114.29,218.37C1114.29,221.66 1114.53,224.94 1114.78,228.23C1115.02,231.51 1115.44,235.78 1115.76,238.08C1116.09,240.38 1115.27,241.17 1116.75,242.02C1118.23,242.87 1121.67,242.84 1124.63,243.2C1127.59,243.56 1131.53,243.86 1134.48,244.19C1137.44,244.52 1140.39,245.17 1142.36,245.17C1144.33,245.17 1145.48,244.71 1146.31,244.19C1147.13,243.66 1147.95,242.71 1147.29,242.02C1146.63,241.33 1144.66,240.87 1142.36,240.05C1140.07,239.23 1135.63,238.24 1133.5,237.09C1131.36,235.94 1130.3,235.45 1129.56,233.15C1128.82,230.85 1128.98,226.58 1129.06,223.3C1129.15,220.02 1129.72,216.73 1130.05,213.45C1130.38,210.16 1130.71,206.39 1131.03,203.6C1131.36,200.8 1131.69,199.16 1132.02,196.7C1132.35,194.24 1132.76,191.77 1133,188.82C1133.25,185.86 1133.42,182.25 1133.5,178.97C1133.58,175.68 1133.66,171.9 1133.5,169.11C1133.33,166.32 1132.84,167.14 1132.51,162.22C1132.18,157.29 1133.66,145.8 1131.53,139.56C1129.39,133.32 1122.09,124.78 1119.7,124.78Z" fill="#f3b9ae"/><path d="M1119.7,124.78C1117.32,124.78 1117.65,135.45 1117.24,139.56C1116.83,143.66 1117.16,146.12 1117.24,149.41C1117.32,152.69 1117.49,155.98 1117.73,159.26C1117.98,162.55 1118.47,165.83 1118.72,169.11C1118.97,172.4 1119.38,175.68 1119.21,178.97C1119.05,182.25 1118.31,185.53 1117.73,188.82C1117.16,192.1 1116.26,195.39 1115.76,198.67C1115.27,201.95 1115.02,205.24 1114.78,208.52C1114.53,211.81 1114.29,215.09 1114.29,218.37C1114.29,221.66 1114.53,224.94 1114.78,228.23C1115.02,231.51 1115.44,235.78 1115.76,238.08C1116.09,240.38 1115.27,241.17 1116.75,242.02C1118.23,242.87 1121.67,242.84 1124.63,243.2C1127.59,243.56 1131.53,243.86 1134.48,244.19C1137.44,244.52 1140.39,245.17 1142.36,245.17C1144.33,245.17 1145.48,244.71 1146.31,244.19C1147.13,243.66 1147.95,242.71 1147.29,242.02C1146.63,241.33 1144.66,240.87 1142.36,240.05C1140.07,239.23 1135.63,238.24 1133.5,237.09C1131.36,235.94 1130.3,235.45 1129.56,233.15C1128.82,230.85 1128.98,226.58 1129.06,223.3C1129.15,220.02 1129.72,216.73 1130.05,213.45C1130.38,210.16 1130.71,206.39 1131.03,203.6C1131.36,200.8 1131.69,199.16 1132.02,196.7C1132.35,194.24 1132.76,191.77 1133,188.82C1133.25,185.86 1133.42,182.25 1133.5,178.97C1133.58,175.68 1133.66,171.9 1133.5,169.11C1133.33,166.32 1132.84,167.14 1132.51,162.22C1132.18,157.29 1133.66,145.8 1131.53,139.56C1129.39,133.32 1122.09,124.78 1119.7,124.78Z" class="o"/>
<path d="M1135.63,5.28C1137.92,5.19 1140.12,5.81 1141.97,6.87C1143.82,7.92 1145.67,9.95 1146.72,11.62C1147.78,13.29 1147.96,14.96 1148.31,16.9C1148.66,18.84 1148.31,21.48 1148.84,23.24C1149.36,25 1151.13,26.06 1151.48,27.46C1151.83,28.87 1151.48,30.28 1150.95,31.69C1150.42,33.1 1149.01,34.68 1148.31,35.91C1147.6,37.15 1147.6,38.29 1146.72,39.08C1145.84,39.88 1144,39.79 1143.03,40.67C1142.06,41.55 1141.27,42.69 1140.91,44.36C1140.56,46.04 1140.39,48.41 1140.91,50.7C1141.44,52.99 1142.85,55.63 1144.08,58.1C1145.32,60.56 1147.08,63.2 1148.31,65.49C1149.54,67.78 1150.95,70.07 1151.48,71.83C1152.01,73.59 1151.83,74.47 1151.48,76.05C1151.13,77.64 1150.07,79.93 1149.36,81.34C1148.66,82.74 1147.69,82.22 1147.25,84.5C1146.81,86.79 1146.72,91.55 1146.72,95.07C1146.72,98.59 1147.16,102.11 1147.25,105.63C1147.34,109.15 1147.34,113.02 1147.25,116.19C1147.16,119.36 1146.88,122.31 1146.72,124.64C1146.57,126.98 1146.44,128.35 1146.31,130.2C1136.12,130.76 1125.94,131.31 1115.76,131.87C1114.64,130.17 1113.22,128.49 1112.39,126.76C1111.57,125.02 1110.99,123.41 1110.81,121.47C1110.63,119.54 1110.72,117.07 1111.34,115.14C1111.95,113.2 1113.45,111.62 1114.51,109.86C1115.56,108.09 1117.41,106.16 1117.68,104.57C1117.94,102.99 1116.71,101.93 1116.09,100.35C1115.47,98.76 1114.59,96.83 1113.98,95.07C1113.36,93.31 1112.39,91.9 1112.39,89.79C1112.39,87.67 1113.45,85.03 1113.98,82.39C1114.51,79.75 1115.12,76.76 1115.56,73.94C1116,71.12 1116.18,67.78 1116.62,65.49C1117.06,63.2 1117.68,61.97 1118.2,60.21C1118.73,58.45 1119,56.69 1119.79,54.93C1120.58,53.17 1121.99,51.23 1122.96,49.65C1123.93,48.06 1124.98,46.65 1125.6,45.42C1126.21,44.19 1126.74,43.84 1126.65,42.25C1126.57,40.67 1125.77,37.85 1125.07,35.91C1124.37,33.98 1123.13,32.57 1122.43,30.63C1121.72,28.7 1121.11,26.58 1120.84,24.29C1120.58,22.01 1120.49,19.01 1120.84,16.9C1121.2,14.79 1121.72,13.2 1122.96,11.62C1124.19,10.03 1126.13,8.45 1128.24,7.39C1130.35,6.34 1133.34,5.37 1135.63,5.28Z" fill="#f3b9ae"/><path d="M1115.76,131.87C1114.64,130.17 1113.22,128.49 1112.39,126.76C1111.57,125.02 1110.99,123.41 1110.81,121.47C1110.63,119.54 1110.72,117.07 1111.34,115.14C1111.95,113.2 1113.45,111.62 1114.51,109.86C1115.56,108.09 1117.41,106.16 1117.68,104.57C1117.94,102.99 1116.71,101.93 1116.09,100.35C1115.47,98.76 1114.59,96.83 1113.98,95.07C1113.36,93.31 1112.39,91.9 1112.39,89.79C1112.39,87.67 1113.45,85.03 1113.98,82.39C1114.51,79.75 1115.12,76.76 1115.56,73.94C1116,71.12 1116.18,67.78 1116.62,65.49C1117.06,63.2 1117.68,61.97 1118.2,60.21C1118.73,58.45 1119,56.69 1119.79,54.93C1120.58,53.17 1121.99,51.23 1122.96,49.65C1123.93,48.06 1124.98,46.65 1125.6,45.42C1126.21,44.19 1126.74,43.84 1126.65,42.25C1126.57,40.67 1125.77,37.85 1125.07,35.91C1124.37,33.98 1123.13,32.57 1122.43,30.63C1121.72,28.7 1121.11,26.58 1120.84,24.29C1120.58,22.01 1120.49,19.01 1120.84,16.9C1121.2,14.79 1121.72,13.2 1122.96,11.62C1124.19,10.03 1126.13,8.45 1128.24,7.39C1130.35,6.34 1133.34,5.37 1135.63,5.28C1137.92,5.19 1140.12,5.81 1141.97,6.87C1143.82,7.92 1145.67,9.95 1146.72,11.62C1147.78,13.29 1147.96,14.96 1148.31,16.9C1148.66,18.84 1148.31,21.48 1148.84,23.24C1149.36,25 1151.13,26.06 1151.48,27.46C1151.83,28.87 1151.48,30.28 1150.95,31.69C1150.42,33.1 1149.01,34.68 1148.31,35.91C1147.6,37.15 1147.6,38.29 1146.72,39.08C1145.84,39.88 1144,39.79 1143.03,40.67C1142.06,41.55 1141.27,42.69 1140.91,44.36C1140.56,46.04 1140.39,48.41 1140.91,50.7C1141.44,52.99 1142.85,55.63 1144.08,58.1C1145.32,60.56 1147.08,63.2 1148.31,65.49C1149.54,67.78 1150.95,70.07 1151.48,71.83C1152.01,73.59 1151.83,74.47 1151.48,76.05C1151.13,77.64 1150.07,79.93 1149.36,81.34C1148.66,82.74 1147.69,82.22 1147.25,84.5C1146.81,86.79 1146.72,91.55 1146.72,95.07C1146.72,98.59 1147.16,102.11 1147.25,105.63C1147.34,109.15 1147.34,113.02 1147.25,116.19C1147.16,119.36 1146.88,122.31 1146.72,124.64C1146.57,126.98 1146.44,128.35 1146.31,130.2" class="o"/>
<path d="M1115.76,131.87C1125.94,131.31 1136.12,130.76 1146.31,130.2C1147.29,132 1148.28,133.23 1149.26,135.62C1150.25,138 1151.23,141.36 1152.22,144.48C1153.2,147.6 1154.19,151.05 1155.17,154.33C1156.16,157.62 1157.22,161.07 1158.13,164.19C1159.03,167.31 1160.1,170.76 1160.59,173.05C1161.08,175.35 1161.49,176.34 1161.08,177.98C1160.67,179.62 1159.44,181.1 1158.13,182.91C1156.81,184.71 1155.01,186.52 1153.2,188.82C1151.4,191.12 1149.1,194.07 1147.29,196.7C1145.48,199.33 1143.84,201.95 1142.36,204.58C1140.89,207.21 1139.57,210 1138.42,212.46C1137.27,214.93 1135.8,217.22 1135.47,219.36C1135.14,221.49 1135.63,223.46 1136.45,225.27C1137.27,227.08 1138.92,228.56 1140.39,230.2C1141.87,231.84 1143.84,233.65 1145.32,235.12C1146.8,236.6 1148.93,237.91 1149.26,239.06C1149.59,240.21 1148.44,241.53 1147.29,242.02C1146.14,242.51 1144.33,242.51 1142.36,242.02C1140.39,241.53 1137.77,240.05 1135.47,239.06C1133.17,238.08 1130.71,236.93 1128.57,236.11C1126.44,235.29 1124.14,234.96 1122.66,234.14C1121.18,233.32 1120.03,232.33 1119.7,231.18C1119.38,230.03 1119.87,228.39 1120.69,227.24C1121.51,226.09 1123.48,225.76 1124.63,224.29C1125.78,222.81 1126.77,221 1127.59,218.37C1128.41,215.75 1128.9,212.13 1129.56,208.52C1130.21,204.91 1130.54,200.31 1131.53,196.7C1132.51,193.09 1133.99,189.8 1135.47,186.85C1136.95,183.89 1139.41,181.1 1140.39,178.97C1141.38,176.83 1141.87,176.01 1141.38,174.04C1140.89,172.07 1139.08,169.61 1137.44,167.14C1135.8,164.68 1133.66,162.05 1131.53,159.26C1129.39,156.47 1126.6,153.19 1124.63,150.39C1122.66,147.6 1121.02,144.98 1119.7,142.51C1118.39,140.05 1117.41,137.39 1116.75,135.62C1116.09,133.84 1116.09,133.12 1115.76,131.87Z" fill="#de3c36"/><path d="M1146.31,130.2C1147.29,132 1148.28,133.23 1149.26,135.62C1150.25,138 1151.23,141.36 1152.22,144.48C1153.2,147.6 1154.19,151.05 1155.17,154.33C1156.16,157.62 1157.22,161.07 1158.13,164.19C1159.03,167.31 1160.1,170.76 1160.59,173.05C1161.08,175.35 1161.49,176.34 1161.08,177.98C1160.67,179.62 1159.44,181.1 1158.13,182.91C1156.81,184.71 1155.01,186.52 1153.2,188.82C1151.4,191.12 1149.1,194.07 1147.29,196.7C1145.48,199.33 1143.84,201.95 1142.36,204.58C1140.89,207.21 1139.57,210 1138.42,212.46C1137.27,214.93 1135.8,217.22 1135.47,219.36C1135.14,221.49 1135.63,223.46 1136.45,225.27C1137.27,227.08 1138.92,228.56 1140.39,230.2C1141.87,231.84 1143.84,233.65 1145.32,235.12C1146.8,236.6 1148.93,237.91 1149.26,239.06C1149.59,240.21 1148.44,241.53 1147.29,242.02C1146.14,242.51 1144.33,242.51 1142.36,242.02C1140.39,241.53 1137.77,240.05 1135.47,239.06C1133.17,238.08 1130.71,236.93 1128.57,236.11C1126.44,235.29 1124.14,234.96 1122.66,234.14C1121.18,233.32 1120.03,232.33 1119.7,231.18C1119.38,230.03 1119.87,228.39 1120.69,227.24C1121.51,226.09 1123.48,225.76 1124.63,224.29C1125.78,222.81 1126.77,221 1127.59,218.37C1128.41,215.75 1128.9,212.13 1129.56,208.52C1130.21,204.91 1130.54,200.31 1131.53,196.7C1132.51,193.09 1133.99,189.8 1135.47,186.85C1136.95,183.89 1139.41,181.1 1140.39,178.97C1141.38,176.83 1141.87,176.01 1141.38,174.04C1140.89,172.07 1139.08,169.61 1137.44,167.14C1135.8,164.68 1133.66,162.05 1131.53,159.26C1129.39,156.47 1126.6,153.19 1124.63,150.39C1122.66,147.6 1121.02,144.98 1119.7,142.51C1118.39,140.05 1117.41,137.39 1116.75,135.62C1116.09,133.84 1116.09,133.12 1115.76,131.87" class="o"/>
<path d="M1137.22,62.85C1133.17,57.04 1129.12,51.23 1125.07,45.42C1124.37,46.83 1123.84,48.06 1122.96,49.65C1122.08,51.23 1120.58,53.17 1119.79,54.93C1119,56.69 1118.73,58.45 1118.2,60.21C1117.68,61.97 1117.06,63.2 1116.62,65.49C1116.18,67.78 1116,71.12 1115.56,73.94C1115.12,76.76 1114.51,79.75 1113.98,82.39C1113.45,85.03 1112.39,87.67 1112.39,89.79C1112.39,91.9 1113.36,93.31 1113.98,95.07C1114.59,96.83 1115.47,98.76 1116.09,100.35C1116.71,101.93 1116.88,102.81 1117.68,104.57C1118.47,106.33 1119.96,108.8 1120.84,110.91C1121.72,113.02 1122.25,115.14 1122.96,117.25C1123.66,119.36 1124.63,121.47 1125.07,123.59C1125.51,125.7 1125.42,127.64 1125.6,129.93C1125.77,132.21 1125.69,135.21 1126.13,137.32C1126.57,139.43 1127.18,141.19 1128.24,142.6C1129.29,144.01 1131.06,145.24 1132.46,145.77C1133.87,146.3 1135.46,146.3 1136.69,145.77C1137.92,145.24 1139.15,144.19 1139.86,142.6C1140.56,141.02 1141.09,138.38 1140.91,136.26C1140.74,134.15 1139.68,131.86 1138.8,129.93C1137.92,127.99 1136.51,126.23 1135.63,124.64C1134.75,123.06 1134.31,122.18 1133.52,120.42C1132.73,118.66 1131.76,116.19 1130.88,114.08C1130,111.97 1129.03,110.03 1128.24,107.74C1127.45,105.45 1126.65,102.99 1126.13,100.35C1125.6,97.71 1125.07,94.54 1125.07,91.9C1125.07,89.26 1125.33,86.97 1126.13,84.5C1126.92,82.04 1128.59,79.57 1129.82,77.11C1131.06,74.65 1132.29,72.09 1133.52,69.72C1134.75,67.34 1135.98,65.14 1137.22,62.85Z" fill="#f3b9ae"/><path d="M1125.07,45.42C1124.37,46.83 1123.84,48.06 1122.96,49.65C1122.08,51.23 1120.58,53.17 1119.79,54.93C1119,56.69 1118.73,58.45 1118.2,60.21C1117.68,61.97 1117.06,63.2 1116.62,65.49C1116.18,67.78 1116,71.12 1115.56,73.94C1115.12,76.76 1114.51,79.75 1113.98,82.39C1113.45,85.03 1112.39,87.67 1112.39,89.79C1112.39,91.9 1113.36,93.31 1113.98,95.07C1114.59,96.83 1115.47,98.76 1116.09,100.35C1116.71,101.93 1116.88,102.81 1117.68,104.57C1118.47,106.33 1119.96,108.8 1120.84,110.91C1121.72,113.02 1122.25,115.14 1122.96,117.25C1123.66,119.36 1124.63,121.47 1125.07,123.59C1125.51,125.7 1125.42,127.64 1125.6,129.93C1125.77,132.21 1125.69,135.21 1126.13,137.32C1126.57,139.43 1127.18,141.19 1128.24,142.6C1129.29,144.01 1131.06,145.24 1132.46,145.77C1133.87,146.3 1135.46,146.3 1136.69,145.77C1137.92,145.24 1139.15,144.19 1139.86,142.6C1140.56,141.02 1141.09,138.38 1140.91,136.26C1140.74,134.15 1139.68,131.86 1138.8,129.93C1137.92,127.99 1136.51,126.23 1135.63,124.64C1134.75,123.06 1134.31,122.18 1133.52,120.42C1132.73,118.66 1131.76,116.19 1130.88,114.08C1130,111.97 1129.03,110.03 1128.24,107.74C1127.45,105.45 1126.65,102.99 1126.13,100.35C1125.6,97.71 1125.07,94.54 1125.07,91.9C1125.07,89.26 1125.33,86.97 1126.13,84.5C1126.92,82.04 1128.59,79.57 1129.82,77.11C1131.06,74.65 1132.29,72.09 1133.52,69.72C1134.75,67.34 1135.98,65.14 1137.22,62.85" class="o"/>
</g>
<g transform="translate(1050,0)">
<path d="M269.1,102.7C269.54,101.64 270.69,103.94 271.74,104.82C272.8,105.7 274.13,106.58 275.45,108C276.77,109.41 278.1,111.7 279.68,113.29C281.27,114.88 283.21,116.64 284.98,117.52C286.74,118.4 288.5,118.05 290.27,118.58C292.03,119.11 293.8,119.46 295.56,120.7C297.33,121.93 299.62,124.05 300.85,125.99C302.09,127.93 302.97,130.72 302.97,132.34C302.97,133.96 302.09,135.16 300.85,135.73C299.62,136.29 297.33,136.26 295.56,135.73C293.8,135.2 292.03,133.79 290.27,132.55C288.5,131.32 286.74,129.73 284.98,128.32C283.21,126.91 281.27,125.32 279.68,124.08C278.1,122.85 276.86,121.61 275.45,120.91C274.04,120.2 272.27,121.47 271.21,119.85C270.16,118.23 269.45,114.03 269.1,111.17C268.74,108.31 268.66,103.76 269.1,102.7Z" fill="#f3b9ae"/><path d="M269.1,102.7C269.54,101.64 270.69,103.94 271.74,104.82C272.8,105.7 274.13,106.58 275.45,108C276.77,109.41 278.1,111.7 279.68,113.29C281.27,114.88 283.21,116.64 284.98,117.52C286.74,118.4 288.5,118.05 290.27,118.58C292.03,119.11 293.8,119.46 295.56,120.7C297.33,121.93 299.62,124.05 300.85,125.99C302.09,127.93 302.97,130.72 302.97,132.34C302.97,133.96 302.09,135.16 300.85,135.73C299.62,136.29 297.33,136.26 295.56,135.73C293.8,135.2 292.03,133.79 290.27,132.55C288.5,131.32 286.74,129.73 284.98,128.32C283.21,126.91 281.27,125.32 279.68,124.08C278.1,122.85 276.86,121.61 275.45,120.91C274.04,120.2 272.27,121.47 271.21,119.85C270.16,118.23 269.45,114.03 269.1,111.17C268.74,108.31 268.66,103.76 269.1,102.7Z" class="o"/>
<path d="M237,128C241.59,126.39 254.33,124.33 258,128C261.67,131.67 259.09,143.98 259,150C258.91,156.02 257.89,160.69 257.45,164.1C257.02,167.51 256.92,168.33 256.4,170.45C255.87,172.57 255.56,173.11 254.28,176.8C253,180.49 250.77,188.82 248.72,192.58C246.66,196.34 244.58,197.1 241.94,199.36C239.31,201.62 235.92,203.69 232.91,206.13C229.9,208.58 226.7,211.21 223.88,214.04C221.05,216.86 218.23,220.44 215.97,223.07C213.71,225.71 211.08,227.96 210.33,229.85C209.57,231.73 210.51,232.67 211.45,234.36C212.4,236.06 214.28,238.13 215.97,240.01C217.66,241.89 220.11,244.15 221.62,245.65C223.12,247.16 224.63,247.91 225,249.04C225.38,250.17 225,251.68 223.88,252.43C222.75,253.18 220.11,253.75 218.23,253.56C216.35,253.37 214.47,252.43 212.58,251.3C210.7,250.17 208.63,248.1 206.94,246.78C205.24,245.47 204.11,244.34 202.42,243.4C200.73,242.46 198.09,242.46 196.78,241.14C195.46,239.82 194.52,237.19 194.52,235.49C194.52,233.8 195.65,232.48 196.78,230.98C197.9,229.47 200.16,228.72 201.29,226.46C202.42,224.2 202.8,220.44 203.55,217.43C204.3,214.41 204.41,211.63 205.81,208.39C207.21,205.15 209.68,200.59 211.94,197.97C214.19,195.35 216.88,194.44 219.35,192.68C221.82,190.91 225.08,189.5 226.76,187.39C228.43,185.27 228.87,182.97 229.4,179.98C229.93,176.98 229.84,174.51 229.93,169.39C230.02,164.27 229.84,154.57 229.93,149.28C230.02,143.99 229.28,141.18 230.46,137.63C231.64,134.09 232.41,129.61 237,128Z" fill="#f3b9ae"/><path d="M237,128C241.59,126.39 254.33,124.33 258,128C261.67,131.67 259.09,143.98 259,150C258.91,156.02 257.89,160.69 257.45,164.1C257.02,167.51 256.92,168.33 256.4,170.45C255.87,172.57 255.56,173.11 254.28,176.8C253,180.49 250.77,188.82 248.72,192.58C246.66,196.34 244.58,197.1 241.94,199.36C239.31,201.62 235.92,203.69 232.91,206.13C229.9,208.58 226.7,211.21 223.88,214.04C221.05,216.86 218.23,220.44 215.97,223.07C213.71,225.71 211.08,227.96 210.33,229.85C209.57,231.73 210.51,232.67 211.45,234.36C212.4,236.06 214.28,238.13 215.97,240.01C217.66,241.89 220.11,244.15 221.62,245.65C223.12,247.16 224.63,247.91 225,249.04C225.38,250.17 225,251.68 223.88,252.43C222.75,253.18 220.11,253.75 218.23,253.56C216.35,253.37 214.47,252.43 212.58,251.3C210.7,250.17 208.63,248.1 206.94,246.78C205.24,245.47 204.11,244.34 202.42,243.4C200.73,242.46 198.09,242.46 196.78,241.14C195.46,239.82 194.52,237.19 194.52,235.49C194.52,233.8 195.65,232.48 196.78,230.98C197.9,229.47 200.16,228.72 201.29,226.46C202.42,224.2 202.8,220.44 203.55,217.43C204.3,214.41 204.41,211.63 205.81,208.39C207.21,205.15 209.68,200.59 211.94,197.97C214.19,195.35 216.88,194.44 219.35,192.68C221.82,190.91 225.08,189.5 226.76,187.39C228.43,185.27 228.87,182.97 229.4,179.98C229.93,176.98 229.84,174.51 229.93,169.39C230.02,164.27 229.84,154.57 229.93,149.28C230.02,143.99 229.28,141.18 230.46,137.63C231.64,134.09 232.41,129.61 237,128Z" class="o"/>
<path d="M258.07,10.56C260.61,10.42 263.56,11.47 265.68,12.67C267.79,13.87 269.55,15.77 270.74,17.74C271.94,19.71 272.5,22.24 272.85,24.49C273.21,26.75 272.43,29.56 272.85,31.25C273.28,32.94 275.18,33.5 275.39,34.63C275.6,35.75 274.61,37.02 274.12,38.01C273.63,38.99 272.85,39.56 272.43,40.54C272.01,41.53 272.01,42.93 271.59,43.92C271.17,44.9 270.74,45.89 269.9,46.45C269.05,47.02 267.44,46.59 266.52,47.3C265.61,48 264.9,48.99 264.41,50.68C263.92,52.36 263.35,55.18 263.56,57.43C263.78,59.68 264.62,61.8 265.68,64.19C266.73,66.58 268.49,69.54 269.9,71.79C271.31,74.04 273.07,75.73 274.12,77.7C275.18,79.67 276.09,82.07 276.23,83.61C276.37,85.16 275.6,85.73 274.97,86.99C274.33,88.26 273.07,89.53 272.43,91.22C271.8,92.91 271.38,94.74 271.17,97.13C270.95,99.52 271.19,103.23 271.17,105.57C271.14,107.91 270.96,108.47 271,111.17C271.05,113.87 271.04,118.23 271.43,121.76C271.81,125.28 272.7,128.81 273.33,132.34C261.33,132.34 249.34,132.34 237.34,132.34C236.99,129.87 236.11,127.05 236.28,124.93C236.46,122.81 237.78,121.93 238.4,119.64C239.02,117.35 239.63,114.35 239.99,111.17C240.34,108 240.61,103.58 240.52,100.59C240.43,97.59 239.98,94.46 239.46,93.18C238.94,91.9 237.94,94.36 237.38,92.91C236.82,91.45 235.62,87.98 236.11,84.46C236.61,80.94 239.63,76.01 240.34,71.79C241.04,67.57 239.63,61.94 240.34,59.12C241.04,56.31 243.15,56.31 244.56,54.9C245.97,53.49 248.01,51.94 248.78,50.68C249.56,49.41 249.28,48.7 249.21,47.3C249.14,45.89 248.99,43.92 248.36,42.23C247.73,40.54 246.32,38.99 245.41,37.16C244.49,35.33 243.36,33.5 242.87,31.25C242.38,29 242.17,25.76 242.45,23.65C242.73,21.54 243.22,20.27 244.56,18.58C245.9,16.89 248.22,14.85 250.47,13.51C252.73,12.18 255.54,10.7 258.07,10.56Z" fill="#f3b9ae"/><path d="M237.34,132.34C236.99,129.87 236.11,127.05 236.28,124.93C236.46,122.81 237.78,121.93 238.4,119.64C239.02,117.35 239.63,114.35 239.99,111.17C240.34,108 240.61,103.58 240.52,100.59C240.43,97.59 239.98,94.46 239.46,93.18C238.94,91.9 237.94,94.36 237.38,92.91C236.82,91.45 235.62,87.98 236.11,84.46C236.61,80.94 239.63,76.01 240.34,71.79C241.04,67.57 239.63,61.94 240.34,59.12C241.04,56.31 243.15,56.31 244.56,54.9C245.97,53.49 248.01,51.94 248.78,50.68C249.56,49.41 249.28,48.7 249.21,47.3C249.14,45.89 248.99,43.92 248.36,42.23C247.73,40.54 246.32,38.99 245.41,37.16C244.49,35.33 243.36,33.5 242.87,31.25C242.38,29 242.17,25.76 242.45,23.65C242.73,21.54 243.22,20.27 244.56,18.58C245.9,16.89 248.22,14.85 250.47,13.51C252.73,12.18 255.54,10.7 258.07,10.56C260.61,10.42 263.56,11.47 265.68,12.67C267.79,13.87 269.55,15.77 270.74,17.74C271.94,19.71 272.5,22.24 272.85,24.49C273.21,26.75 272.43,29.56 272.85,31.25C273.28,32.94 275.18,33.5 275.39,34.63C275.6,35.75 274.61,37.02 274.12,38.01C273.63,38.99 272.85,39.56 272.43,40.54C272.01,41.53 272.01,42.93 271.59,43.92C271.17,44.9 270.74,45.89 269.9,46.45C269.05,47.02 267.44,46.59 266.52,47.3C265.61,48 264.9,48.99 264.41,50.68C263.92,52.36 263.35,55.18 263.56,57.43C263.78,59.68 264.62,61.8 265.68,64.19C266.73,66.58 268.49,69.54 269.9,71.79C271.31,74.04 273.07,75.73 274.12,77.7C275.18,79.67 276.09,82.07 276.23,83.61C276.37,85.16 275.6,85.73 274.97,86.99C274.33,88.26 273.07,89.53 272.43,91.22C271.8,92.91 271.38,94.74 271.17,97.13C270.95,99.52 271.19,103.23 271.17,105.57C271.14,107.91 270.96,108.47 271,111.17C271.05,113.87 271.04,118.23 271.43,121.76C271.81,125.28 272.7,128.81 273.33,132.34" class="o"/>
<path d="M237.34,132.34C249.34,132.34 261.33,132.34 273.33,132.34C274.74,134.46 275.8,136.22 277.57,138.69C279.33,141.16 281.8,144.34 283.92,147.16C286.03,149.98 288.15,152.45 290.27,155.63C292.39,158.8 294.86,163.04 296.62,166.21C298.38,169.39 299.8,172.21 300.85,174.68C301.91,177.15 302.44,178.39 302.97,181.03C303.5,183.68 303.47,186.75 304.03,190.56C304.59,194.37 305.55,200.15 306.31,203.88C307.06,207.6 307.62,209.71 308.56,212.91C309.5,216.11 311.01,219.87 311.95,223.07C312.89,226.27 313.27,229.94 314.21,232.1C315.15,234.27 315.72,235.21 317.6,236.06C319.48,236.9 322.3,237.09 325.5,237.19C328.7,237.28 333.97,236.53 336.79,236.62C339.62,236.72 342.06,236.62 342.44,237.75C342.82,238.88 340.93,241.89 339.05,243.4C337.17,244.9 334.35,245.84 331.15,246.78C327.95,247.73 323.05,248.48 319.86,249.04C316.66,249.61 313.64,250.36 311.95,250.17C310.26,249.98 310.07,249.23 309.69,247.91C309.32,246.6 309.88,244.15 309.69,242.27C309.5,240.39 309.5,238.5 308.56,236.62C307.62,234.74 305.93,233.05 304.05,230.98C302.17,228.91 299.34,226.84 297.27,224.2C295.2,221.57 293.13,218.55 291.63,215.17C290.12,211.78 289.18,207.64 288.24,203.88C287.3,200.11 286.73,195.41 285.98,192.58C285.23,189.76 284.85,188.82 283.72,186.94C282.59,185.06 281.29,183.69 279.21,181.29C277.12,178.9 273.96,175.43 271.21,172.57C268.47,169.7 265.57,166.74 262.75,164.1C259.92,161.45 257.1,159.16 254.28,156.69C251.46,154.22 248.28,151.92 245.81,149.28C243.34,146.63 240.87,143.63 239.46,140.81C238.05,137.99 238.05,135.16 237.34,132.34Z" fill="#de3c36"/><path d="M273.33,132.34C274.74,134.46 275.8,136.22 277.57,138.69C279.33,141.16 281.8,144.34 283.92,147.16C286.03,149.98 288.15,152.45 290.27,155.63C292.39,158.8 294.86,163.04 296.62,166.21C298.38,169.39 299.8,172.21 300.85,174.68C301.91,177.15 302.44,178.39 302.97,181.03C303.5,183.68 303.47,186.75 304.03,190.56C304.59,194.37 305.55,200.15 306.31,203.88C307.06,207.6 307.62,209.71 308.56,212.91C309.5,216.11 311.01,219.87 311.95,223.07C312.89,226.27 313.27,229.94 314.21,232.1C315.15,234.27 315.72,235.21 317.6,236.06C319.48,236.9 322.3,237.09 325.5,237.19C328.7,237.28 333.97,236.53 336.79,236.62C339.62,236.72 342.06,236.62 342.44,237.75C342.82,238.88 340.93,241.89 339.05,243.4C337.17,244.9 334.35,245.84 331.15,246.78C327.95,247.73 323.05,248.48 319.86,249.04C316.66,249.61 313.64,250.36 311.95,250.17C310.26,249.98 310.07,249.23 309.69,247.91C309.32,246.6 309.88,244.15 309.69,242.27C309.5,240.39 309.5,238.5 308.56,236.62C307.62,234.74 305.93,233.05 304.05,230.98C302.17,228.91 299.34,226.84 297.27,224.2C295.2,221.57 293.13,218.55 291.63,215.17C290.12,211.78 289.18,207.64 288.24,203.88C287.3,200.11 286.73,195.41 285.98,192.58C285.23,189.76 284.85,188.82 283.72,186.94C282.59,185.06 281.29,183.69 279.21,181.29C277.12,178.9 273.96,175.43 271.21,172.57C268.47,169.7 265.57,166.74 262.75,164.1C259.92,161.45 257.1,159.16 254.28,156.69C251.46,154.22 248.28,151.92 245.81,149.28C243.34,146.63 240.87,143.63 239.46,140.81C238.05,137.99 238.05,135.16 237.34,132.34" class="o"/>
<path d="M253.43,71.37C251.88,64.47 250.33,57.57 248.78,50.68C247.38,52.08 245.97,53.49 244.56,54.9C243.15,56.31 241.75,57.29 240.34,59.12C238.93,60.95 237.52,63.34 236.11,65.88C234.71,68.41 233.3,71.51 231.89,74.32C230.48,77.14 229.08,80.24 227.67,82.77C226.26,85.3 224.36,87.56 223.45,89.53C222.53,91.5 222.51,92.75 222.18,94.59C221.85,96.44 221.41,97.82 221.46,100.59C221.52,103.35 222.08,107.64 222.52,111.17C222.96,114.7 223.67,118.58 224.11,121.76C224.55,124.93 225.26,127.93 225.17,130.22C225.08,132.52 223.93,133.93 223.58,135.52C223.23,137.1 222.87,138.16 223.05,139.75C223.23,141.34 223.85,143.72 224.64,145.04C225.43,146.37 226.67,147.16 227.81,147.69C228.96,148.22 230.37,148.48 231.52,148.22C232.67,147.95 233.99,147.16 234.7,146.1C235.4,145.04 235.58,143.46 235.75,141.87C235.93,140.28 236.02,138.52 235.75,136.58C235.49,134.63 234.61,132.69 234.17,130.22C233.72,127.75 233.37,124.93 233.11,121.76C232.84,118.58 232.67,114.7 232.58,111.17C232.49,107.64 232.31,103.41 232.58,100.59C232.84,97.76 233.29,96.08 234.17,94.23C235.04,92.39 236.35,91.44 237.8,89.53C239.26,87.62 241.04,85.02 242.87,82.77C244.7,80.52 247.02,77.91 248.78,76.01C250.54,74.11 251.88,72.92 253.43,71.37Z" fill="#f3b9ae"/><path d="M248.78,50.68C247.38,52.08 245.97,53.49 244.56,54.9C243.15,56.31 241.75,57.29 240.34,59.12C238.93,60.95 237.52,63.34 236.11,65.88C234.71,68.41 233.3,71.51 231.89,74.32C230.48,77.14 229.08,80.24 227.67,82.77C226.26,85.3 224.36,87.56 223.45,89.53C222.53,91.5 222.51,92.75 222.18,94.59C221.85,96.44 221.41,97.82 221.46,100.59C221.52,103.35 222.08,107.64 222.52,111.17C222.96,114.7 223.67,118.58 224.11,121.76C224.55,124.93 225.26,127.93 225.17,130.22C225.08,132.52 223.93,133.93 223.58,135.52C223.23,137.1 222.87,138.16 223.05,139.75C223.23,141.34 223.85,143.72 224.64,145.04C225.43,146.37 226.67,147.16 227.81,147.69C228.96,148.22 230.37,148.48 231.52,148.22C232.67,147.95 233.99,147.16 234.7,146.1C235.4,145.04 235.58,143.46 235.75,141.87C235.93,140.28 236.02,138.52 235.75,136.58C235.49,134.63 234.61,132.69 234.17,130.22C233.72,127.75 233.37,124.93 233.11,121.76C232.84,118.58 232.67,114.7 232.58,111.17C232.49,107.64 232.31,103.41 232.58,100.59C232.84,97.76 233.29,96.08 234.17,94.23C235.04,92.39 236.35,91.44 237.8,89.53C239.26,87.62 241.04,85.02 242.87,82.77C244.7,80.52 247.02,77.91 248.78,76.01C250.54,74.11 251.88,72.92 253.43,71.37" class="o"/>
</g>
<rect x="313.5" y="275.8" width="652.5" height="990.2" fill="#d3d4d6"/>
<defs><clipPath id="pc"><rect x="313.5" y="275.8" width="1062.2" height="990.2"/></clipPath></defs>
<g id="curves" clip-path="url(#pc)">
<path d="M313.5,359 L315.5,357.8 L317.5,356.6 L319.5,355.5 L321.5,354.2 L323.5,353 L325.5,351.8 L327.5,350.5 L329.5,349.3 L331.5,348 L333.5,346.8 L335.5,345.5 L337.5,344.3 L339.5,343 L341.5,341.7 L343.5,340.5 L345.5,339.2 L347.5,337.9 L349.5,336.7 L351.5,335.4 L353.5,334.2 L355.5,333 L357.5,331.7 L359.5,330.5 L361.5,329.3 L363.5,328.1 L365.5,327 L367.5,325.8 L369.5,324.7 L371.5,323.6 L373.5,322.5 L375.5,321.4 L377.5,320.3 L379.5,319.3 L381.5,318.3 L383.5,317.3 L385.5,316.3 L387.5,315.4 L389.5,314.5 L391.5,313.6 L393.5,312.8 L395.5,311.9 L397.5,311.1 L399.5,310.4 L401.5,309.6 L403.5,308.9 L405.5,308.3 L407.5,307.6 L409.5,307 L411.5,306.5 L413.5,306 L415.5,305.5 L417.5,305 L419.5,304.7 L421.5,304.3 L423.5,304 L425.5,303.7 L427.5,303.5 L429.5,303.3 L431.5,303.2 L433.5,303.1 L435.5,303 L437.5,303 L439.5,303.1 L441.5,303.2 L443.5,303.3 L445.5,303.5 L447.5,303.7 L449.5,303.9 L451.5,304.2 L453.5,304.5 L455.5,304.9 L457.5,305.3 L459.5,305.7 L461.5,306.2 L463.5,306.7 L465.5,307.2 L467.5,307.7 L469.5,308.3 L471.5,308.9 L473.5,309.6 L475.5,310.2 L477.5,310.9 L479.5,311.6 L481.5,312.4 L483.5,313.1 L485.5,313.9 L487.5,314.7 L489.5,315.5 L491.5,316.3 L493.5,317.2 L495.5,318 L497.5,318.9 L499.5,319.8 L501.5,320.7 L503.5,321.6 L505.5,322.6 L507.5,323.5 L509.5,324.5 L511.5,325.4 L513.5,326.4 L515.5,327.4 L517.5,328.3 L519.5,329.3 L521.5,330.3 L523.5,331.3 L525.5,332.3 L527.5,333.3 L529.5,334.3 L531.5,335.3 L533.5,336.3 L535.5,337.3 L537.5,338.3 L539.5,339.3 L541.5,340.3 L543.5,341.3 L545.5,342.3 L547.5,343.3 L549.5,344.2 L551.5,345.2 L553.5,346.2 L555.5,347.1 L557.5,348.1 L559.5,349 L561.5,349.9 L563.5,350.8 L565.5,351.8 L567.5,352.6 L569.5,353.5 L571.5,354.4 L573.5,355.2 L575.5,356.1 L577.5,356.9 L579.5,357.7 L581.5,358.5 L583.5,359.3 L585.5,360 L587.5,360.8 L589.5,361.5 L591.5,362.3 L593.5,363 L595.5,363.7 L597.5,364.4 L599.5,365.1 L601.5,365.7 L603.5,366.4 L605.5,367 L607.5,367.7 L609.5,368.3 L611.5,368.9 L613.5,369.5 L615.5,370.1 L617.5,370.7 L619.5,371.3 L621.5,371.8 L623.5,372.4 L625.5,372.9 L627.5,373.5 L629.5,374 L631.5,374.5 L633.5,375 L635.5,375.5 L637.5,376 L639.5,376.5 L641.5,377 L643.5,377.4 L645.5,377.9 L647.5,378.3 L649.5,378.8 L651.5,379.2 L653.5,379.6 L655.5,380 L657.5,380.4 L659.5,380.8 L661.5,381.2 L663.5,381.6 L665.5,382 L667.5,382.4 L669.5,382.7 L671.5,383.1 L673.5,383.4 L675.5,383.8 L677.5,384.1 L679.5,384.4 L681.5,384.8 L683.5,385.1 L685.5,385.4 L687.5,385.7 L689.5,386 L691.5,386.3 L693.5,386.6 L695.5,386.8 L697.5,387.1 L699.5,387.4 L701.5,387.6 L703.5,387.9 L705.5,388.1 L707.5,388.4 L709.5,388.6 L711.5,388.8 L713.5,389.1 L715.5,389.3 L717.5,389.5 L719.5,389.7 L721.5,389.9 L723.5,390.1 L725.5,390.3 L727.5,390.5 L729.5,390.7 L731.5,390.8 L733.5,391 L735.5,391.2 L737.5,391.4 L739.5,391.5 L741.5,391.7 L743.5,391.8 L745.5,392 L747.5,392.1 L749.5,392.3 L751.5,392.4 L753.5,392.5 L755.5,392.7 L757.5,392.8 L759.5,392.9 L761.5,393 L763.5,393.2 L765.5,393.3 L767.5,393.4 L769.5,393.5 L771.5,393.6 L773.5,393.7 L775.5,393.8 L777.5,393.9 L779.5,394 L781.5,394.1 L783.5,394.1 L785.5,394.2 L787.5,394.3 L789.5,394.4 L791.5,394.5 L793.5,394.5 L795.5,394.6 L797.5,394.7 L799.5,394.7 L801.5,394.8 L803.5,394.9 L805.5,394.9 L807.5,395 L809.5,395 L811.5,395.1 L813.5,395.1 L815.5,395.2 L817.5,395.3 L819.5,395.3 L821.5,395.3 L823.5,395.4 L825.5,395.4 L827.5,395.5 L829.5,395.5 L831.5,395.6 L833.5,395.6 L835.5,395.7 L837.5,395.7 L839.5,395.7 L841.5,395.8 L843.5,395.8 L845.5,395.9 L847.5,395.9 L849.5,395.9 L851.5,396 L853.5,396 L855.5,396.1 L857.5,396.1 L859.5,396.1 L861.5,396.2 L863.5,396.2 L865.5,396.3 L867.5,396.3 L869.5,396.3 L871.5,396.4 L873.5,396.4 L875.5,396.4 L877.5,396.5 L879.5,396.5 L881.5,396.6 L883.5,396.6 L885.5,396.6 L887.5,396.7 L889.5,396.7 L891.5,396.7 L893.5,396.8 L895.5,396.8 L897.5,396.8 L899.5,396.9 L901.5,396.9 L903.5,396.9 L905.5,397 L907.5,397 L909.5,397 L911.5,397.1 L913.5,397.1 L915.5,397.1 L917.5,397.2 L919.5,397.2 L921.5,397.2 L923.5,397.3 L925.5,397.3 L927.5,397.3 L929.5,397.4 L931.5,397.4 L933.5,397.4 L935.5,397.4 L937.5,397.5 L939.5,397.5 L941.5,397.5 L943.5,397.6 L945.5,397.6 L947.5,397.6 L949.5,397.7 L951.5,397.7 L953.5,397.7 L955.5,397.7 L957.5,397.8 L959.5,397.8 L961.5,397.8 L963.5,397.8 L965.5,397.9 L967.5,397.9 L969.5,397.9 L971.5,398 L973.5,398 L975.5,398 L977.5,398 L979.5,398.1 L981.5,398.1 L983.5,398.1 L985.5,398.1 L987.5,398.2 L989.5,398.2 L991.5,398.2 L993.5,398.2 L995.5,398.3 L997.5,398.3 L999.5,398.3 L1001.5,398.3 L1003.5,398.4 L1005.5,398.4 L1007.5,398.4 L1009.5,398.4 L1011.5,398.4 L1013.5,398.5 L1015.5,398.5 L1017.5,398.5 L1019.5,398.5 L1021.5,398.6 L1023.5,398.6 L1025.5,398.6 L1027.5,398.6 L1029.5,398.6 L1031.5,398.7 L1033.5,398.7 L1035.5,398.7 L1037.5,398.7 L1039.5,398.7 L1041.5,398.8 L1043.5,398.8 L1045.5,398.8 L1047.5,398.8 L1049.5,398.8 L1051.5,398.9 L1053.5,398.9 L1055.5,398.9 L1057.5,398.9 L1059.5,398.9 L1061.5,399 L1063.5,399 L1065.5,399 L1067.5,399 L1069.5,399 L1071.5,399 L1073.5,399.1 L1075.5,399.1 L1077.5,399.1 L1079.5,399.1 L1081.5,399.1 L1083.5,399.1 L1085.5,399.2 L1087.5,399.2 L1089.5,399.2 L1091.5,399.2 L1093.5,399.2 L1095.5,399.2 L1097.5,399.3 L1099.5,399.3 L1101.5,399.3 L1103.5,399.3 L1105.5,399.3 L1107.5,399.3 L1109.5,399.3 L1111.5,399.4 L1113.5,399.4 L1115.5,399.4 L1117.5,399.4 L1119.5,399.4 L1121.5,399.4 L1123.5,399.4 L1125.5,399.5 L1127.5,399.5 L1129.5,399.5 L1131.5,399.5 L1133.5,399.5 L1135.5,399.5 L1137.5,399.5 L1139.5,399.5 L1141.5,399.5 L1143.5,399.6 L1145.5,399.6 L1147.5,399.6 L1149.5,399.6 L1151.5,399.6 L1153.5,399.6 L1155.5,399.6 L1157.5,399.6 L1159.5,399.6 L1161.5,399.6 L1163.5,399.6 L1165.5,399.6 L1167.5,399.6 L1169.5,399.6 L1171.5,399.6 L1173.5,399.6 L1175.5,399.6 L1177.5,399.6 L1179.5,399.6 L1181.5,399.6 L1183.5,399.6 L1185.5,399.6 L1187.5,399.6 L1189.5,399.6 L1191.5,399.6 L1193.5,399.6 L1195.5,399.6 L1197.5,399.6 L1199.5,399.6 L1201.5,399.6 L1203.5,399.5 L1205.5,399.5 L1207.5,399.5 L1209.5,399.5 L1211.5,399.5 L1213.5,399.4 L1215.5,399.4 L1217.5,399.4 L1219.5,399.4 L1221.5,399.3 L1223.5,399.3 L1225.5,399.3 L1227.5,399.3 L1229.5,399.2 L1231.5,399.2 L1233.5,399.2 L1235.5,399.1 L1237.5,399.1 L1239.5,399 L1241.5,399 L1243.5,399 L1245.5,398.9 L1247.5,398.9 L1249.5,398.8 L1251.5,398.8 L1253.5,398.7 L1255.5,398.7 L1257.5,398.6 L1259.5,398.5 L1261.5,398.5 L1263.5,398.4 L1265.5,398.3 L1267.5,398.3 L1269.5,398.2 L1271.5,398.1 L1273.5,398 L1275.5,397.9 L1277.5,397.7 L1279.5,397.6 L1281.5,397.4 L1283.5,397.3 L1285.5,397.1 L1287.5,396.9 L1289.5,396.6 L1291.5,396.4 L1293.5,396.1 L1295.5,395.8 L1297.5,395.5 L1299.5,395.1 L1301.5,394.7 L1303.5,394.3 L1305.5,393.9 L1307.5,393.5 L1309.5,393 L1311.5,392.5 L1313.5,392 L1315.5,391.4 L1317.5,390.8 L1319.5,390.2 L1321.5,389.6 L1323.5,389 L1325.5,388.3 L1327.5,387.6 L1329.5,386.8 L1331.5,386.1 L1333.5,385.3 L1335.5,384.5 L1337.5,383.7 L1339.5,382.8 L1341.5,382 L1343.5,381.1 L1345.5,380.2 L1347.5,379.3 L1349.5,378.4 L1351.5,377.4 L1353.5,376.5 L1355.5,375.5 L1357.5,374.5 L1359.5,373.5 L1361.5,372.5 L1363.5,371.5 L1365.5,370.5 L1367.5,369.5 L1369.5,368.5 L1371.5,367.4 L1373.5,366.4 L1375.5,365.4 L1375.7,365.3 L1375.7,383.6 L1375.5,383.6 L1373.5,383.9 L1371.5,384.3 L1369.5,384.6 L1367.5,385 L1365.5,385.4 L1363.5,385.8 L1361.5,386.3 L1359.5,386.7 L1357.5,387.2 L1355.5,387.6 L1353.5,388.1 L1351.5,388.6 L1349.5,389.1 L1347.5,389.7 L1345.5,390.2 L1343.5,390.7 L1341.5,391.2 L1339.5,391.8 L1337.5,392.3 L1335.5,392.8 L1333.5,393.4 L1331.5,393.9 L1329.5,394.4 L1327.5,394.9 L1325.5,395.4 L1323.5,395.9 L1321.5,396.4 L1319.5,396.8 L1317.5,397.3 L1315.5,397.7 L1313.5,398.1 L1311.5,398.5 L1309.5,398.9 L1307.5,399.3 L1305.5,399.7 L1303.5,400.1 L1301.5,400.4 L1299.5,400.7 L1297.5,401 L1295.5,401.3 L1293.5,401.6 L1291.5,401.9 L1289.5,402.1 L1287.5,402.3 L1285.5,402.6 L1283.5,402.7 L1281.5,402.9 L1279.5,403.1 L1277.5,403.3 L1275.5,403.4 L1273.5,403.6 L1271.5,403.7 L1269.5,403.8 L1267.5,403.9 L1265.5,404 L1263.5,404.1 L1261.5,404.2 L1259.5,404.3 L1257.5,404.4 L1255.5,404.5 L1253.5,404.6 L1251.5,404.7 L1249.5,404.7 L1247.5,404.8 L1245.5,404.9 L1243.5,404.9 L1241.5,405 L1239.5,405.1 L1237.5,405.1 L1235.5,405.2 L1233.5,405.2 L1231.5,405.3 L1229.5,405.3 L1227.5,405.4 L1225.5,405.4 L1223.5,405.4 L1221.5,405.5 L1219.5,405.5 L1217.5,405.6 L1215.5,405.6 L1213.5,405.6 L1211.5,405.6 L1209.5,405.7 L1207.5,405.7 L1205.5,405.7 L1203.5,405.7 L1201.5,405.7 L1199.5,405.7 L1197.5,405.8 L1195.5,405.8 L1193.5,405.8 L1191.5,405.8 L1189.5,405.8 L1187.5,405.8 L1185.5,405.8 L1183.5,405.8 L1181.5,405.8 L1179.5,405.8 L1177.5,405.8 L1175.5,405.8 L1173.5,405.8 L1171.5,405.8 L1169.5,405.8 L1167.5,405.8 L1165.5,405.8 L1163.5,405.7 L1161.5,405.7 L1159.5,405.7 L1157.5,405.7 L1155.5,405.7 L1153.5,405.7 L1151.5,405.7 L1149.5,405.6 L1147.5,405.6 L1145.5,405.6 L1143.5,405.6 L1141.5,405.6 L1139.5,405.6 L1137.5,405.5 L1135.5,405.5 L1133.5,405.5 L1131.5,405.5 L1129.5,405.5 L1127.5,405.4 L1125.5,405.4 L1123.5,405.4 L1121.5,405.4 L1119.5,405.4 L1117.5,405.3 L1115.5,405.3 L1113.5,405.3 L1111.5,405.3 L1109.5,405.3 L1107.5,405.3 L1105.5,405.2 L1103.5,405.2 L1101.5,405.2 L1099.5,405.2 L1097.5,405.2 L1095.5,405.2 L1093.5,405.1 L1091.5,405.1 L1089.5,405.1 L1087.5,405.1 L1085.5,405.1 L1083.5,405.1 L1081.5,405 L1079.5,405 L1077.5,405 L1075.5,405 L1073.5,405 L1071.5,405 L1069.5,404.9 L1067.5,404.9 L1065.5,404.9 L1063.5,404.9 L1061.5,404.9 L1059.5,404.9 L1057.5,404.8 L1055.5,404.8 L1053.5,404.8 L1051.5,404.8 L1049.5,404.8 L1047.5,404.8 L1045.5,404.7 L1043.5,404.7 L1041.5,404.7 L1039.5,404.7 L1037.5,404.7 L1035.5,404.7 L1033.5,404.6 L1031.5,404.6 L1029.5,404.6 L1027.5,404.6 L1025.5,404.6 L1023.5,404.6 L1021.5,404.5 L1019.5,404.5 L1017.5,404.5 L1015.5,404.5 L1013.5,404.5 L1011.5,404.4 L1009.5,404.4 L1007.5,404.4 L1005.5,404.4 L1003.5,404.4 L1001.5,404.4 L999.5,404.3 L997.5,404.3 L995.5,404.3 L993.5,404.3 L991.5,404.3 L989.5,404.2 L987.5,404.2 L985.5,404.2 L983.5,404.2 L981.5,404.2 L979.5,404.1 L977.5,404.1 L975.5,404.1 L973.5,404.1 L971.5,404 L969.5,404 L967.5,404 L965.5,404 L963.5,403.9 L961.5,403.9 L959.5,403.9 L957.5,403.9 L955.5,403.9 L953.5,403.8 L951.5,403.8 L949.5,403.8 L947.5,403.7 L945.5,403.7 L943.5,403.7 L941.5,403.7 L939.5,403.6 L937.5,403.6 L935.5,403.6 L933.5,403.6 L931.5,403.5 L929.5,403.5 L927.5,403.5 L925.5,403.4 L923.5,403.4 L921.5,403.4 L919.5,403.3 L917.5,403.3 L915.5,403.3 L913.5,403.2 L911.5,403.2 L909.5,403.2 L907.5,403.1 L905.5,403.1 L903.5,403.1 L901.5,403 L899.5,403 L897.5,403 L895.5,402.9 L893.5,402.9 L891.5,402.8 L889.5,402.8 L887.5,402.8 L885.5,402.7 L883.5,402.7 L881.5,402.6 L879.5,402.6 L877.5,402.6 L875.5,402.5 L873.5,402.5 L871.5,402.4 L869.5,402.4 L867.5,402.3 L865.5,402.3 L863.5,402.2 L861.5,402.2 L859.5,402.1 L857.5,402.1 L855.5,402 L853.5,402 L851.5,401.9 L849.5,401.9 L847.5,401.8 L845.5,401.8 L843.5,401.7 L841.5,401.7 L839.5,401.6 L837.5,401.6 L835.5,401.5 L833.5,401.5 L831.5,401.4 L829.5,401.3 L827.5,401.3 L825.5,401.2 L823.5,401.2 L821.5,401.1 L819.5,401 L817.5,401 L815.5,400.9 L813.5,400.8 L811.5,400.8 L809.5,400.7 L807.5,400.6 L805.5,400.6 L803.5,400.5 L801.5,400.4 L799.5,400.3 L797.5,400.3 L795.5,400.2 L793.5,400.1 L791.5,400 L789.5,399.9 L787.5,399.9 L785.5,399.8 L783.5,399.7 L781.5,399.6 L779.5,399.5 L777.5,399.4 L775.5,399.3 L773.5,399.2 L771.5,399.2 L769.5,399.1 L767.5,399 L765.5,398.9 L763.5,398.8 L761.5,398.7 L759.5,398.6 L757.5,398.4 L755.5,398.3 L753.5,398.2 L751.5,398.1 L749.5,398 L747.5,397.9 L745.5,397.8 L743.5,397.7 L741.5,397.5 L739.5,397.4 L737.5,397.3 L735.5,397.2 L733.5,397 L731.5,396.9 L729.5,396.8 L727.5,396.6 L725.5,396.5 L723.5,396.4 L721.5,396.2 L719.5,396.1 L717.5,395.9 L715.5,395.8 L713.5,395.6 L711.5,395.5 L709.5,395.3 L707.5,395.2 L705.5,395 L703.5,394.8 L701.5,394.7 L699.5,394.5 L697.5,394.3 L695.5,394.2 L693.5,394 L691.5,393.8 L689.5,393.6 L687.5,393.4 L685.5,393.2 L683.5,393.1 L681.5,392.9 L679.5,392.7 L677.5,392.5 L675.5,392.3 L673.5,392 L671.5,391.8 L669.5,391.6 L667.5,391.4 L665.5,391.2 L663.5,390.9 L661.5,390.7 L659.5,390.5 L657.5,390.2 L655.5,390 L653.5,389.7 L651.5,389.5 L649.5,389.2 L647.5,388.9 L645.5,388.7 L643.5,388.4 L641.5,388.1 L639.5,387.8 L637.5,387.5 L635.5,387.2 L633.5,386.9 L631.5,386.6 L629.5,386.3 L627.5,386 L625.5,385.7 L623.5,385.3 L621.5,385 L619.5,384.6 L617.5,384.3 L615.5,383.9 L613.5,383.6 L611.5,383.2 L609.5,382.8 L607.5,382.4 L605.5,382.1 L603.5,381.7 L601.5,381.3 L599.5,380.8 L597.5,380.4 L595.5,380 L593.5,379.6 L591.5,379.1 L589.5,378.7 L587.5,378.2 L585.5,377.8 L583.5,377.3 L581.5,376.8 L579.5,376.3 L577.5,375.8 L575.5,375.3 L573.5,374.8 L571.5,374.3 L569.5,373.8 L567.5,373.3 L565.5,372.7 L563.5,372.2 L561.5,371.6 L559.5,371.1 L557.5,370.5 L555.5,369.9 L553.5,369.3 L551.5,368.7 L549.5,368.2 L547.5,367.6 L545.5,367 L543.5,366.4 L541.5,365.7 L539.5,365.1 L537.5,364.5 L535.5,363.9 L533.5,363.3 L531.5,362.7 L529.5,362.1 L527.5,361.4 L525.5,360.8 L523.5,360.2 L521.5,359.6 L519.5,359 L517.5,358.4 L515.5,357.7 L513.5,357.1 L511.5,356.5 L509.5,355.9 L507.5,355.3 L505.5,354.7 L503.5,354.1 L501.5,353.5 L499.5,352.9 L497.5,352.4 L495.5,351.8 L493.5,351.2 L491.5,350.7 L489.5,350.1 L487.5,349.6 L485.5,349 L483.5,348.5 L481.5,348 L479.5,347.5 L477.5,347 L475.5,346.5 L473.5,346 L471.5,345.6 L469.5,345.1 L467.5,344.7 L465.5,344.3 L463.5,343.9 L461.5,343.5 L459.5,343.2 L457.5,342.8 L455.5,342.5 L453.5,342.2 L451.5,341.9 L449.5,341.6 L447.5,341.3 L445.5,341.1 L443.5,340.9 L441.5,340.7 L439.5,340.5 L437.5,340.3 L435.5,340.2 L433.5,340.1 L431.5,340 L429.5,340 L427.5,339.9 L425.5,339.9 L423.5,339.9 L421.5,340 L419.5,340.1 L417.5,340.2 L415.5,340.3 L413.5,340.4 L411.5,340.6 L409.5,340.8 L407.5,341 L405.5,341.2 L403.5,341.5 L401.5,341.8 L399.5,342.1 L397.5,342.5 L395.5,342.9 L393.5,343.3 L391.5,343.7 L389.5,344.2 L387.5,344.6 L385.5,345.1 L383.5,345.7 L381.5,346.2 L379.5,346.8 L377.5,347.4 L375.5,348.1 L373.5,348.7 L371.5,349.4 L369.5,350.2 L367.5,350.9 L365.5,351.7 L363.5,352.5 L361.5,353.3 L359.5,354.2 L357.5,355.1 L355.5,356 L353.5,356.9 L351.5,357.9 L349.5,358.8 L347.5,359.8 L345.5,360.8 L343.5,361.9 L341.5,362.9 L339.5,364 L337.5,365 L335.5,366.1 L333.5,367.2 L331.5,368.3 L329.5,369.5 L327.5,370.6 L325.5,371.7 L323.5,372.9 L321.5,374 L319.5,375.2 L317.5,376.3 L315.5,377.5 L313.5,378.7 Z" fill="#78a773"/>
<path d="M313.5,369.3 L315.5,368.3 L317.5,367.2 L319.5,366.1 L321.5,365 L323.5,363.9 L325.5,362.7 L327.5,361.6 L329.5,360.5 L331.5,359.4 L333.5,358.2 L335.5,357.1 L337.5,356 L339.5,354.8 L341.5,353.7 L343.5,352.6 L345.5,351.5 L347.5,350.4 L349.5,349.3 L351.5,348.2 L353.5,347.1 L355.5,346.1 L357.5,345 L359.5,343.9 L361.5,342.9 L363.5,341.9 L365.5,340.9 L367.5,339.9 L369.5,338.9 L371.5,338 L373.5,337 L375.5,336.1 L377.5,335.2 L379.5,334.4 L381.5,333.5 L383.5,332.7 L385.5,331.9 L387.5,331.1 L389.5,330.3 L391.5,329.6 L393.5,328.8 L395.5,328.2 L397.5,327.5 L399.5,326.9 L401.5,326.2 L403.5,325.7 L405.5,325.1 L407.5,324.6 L409.5,324.1 L411.5,323.6 L413.5,323.2 L415.5,322.8 L417.5,322.5 L419.5,322.1 L421.5,321.8 L423.5,321.6 L425.5,321.4 L427.5,321.2 L429.5,321 L431.5,320.9 L433.5,320.9 L435.5,320.8 L437.5,320.8 L439.5,320.9 L441.5,320.9 L443.5,321 L445.5,321.2 L447.5,321.4 L449.5,321.6 L451.5,321.8 L453.5,322.1 L455.5,322.4 L457.5,322.7 L459.5,323.1 L461.5,323.4 L463.5,323.8 L465.5,324.3 L467.5,324.7 L469.5,325.2 L471.5,325.7 L473.5,326.2 L475.5,326.8 L477.5,327.4 L479.5,327.9 L481.5,328.6 L483.5,329.2 L485.5,329.8 L487.5,330.5 L489.5,331.2 L491.5,331.8 L493.5,332.5 L495.5,333.3 L497.5,334 L499.5,334.7 L501.5,335.5 L503.5,336.3 L505.5,337 L507.5,337.8 L509.5,338.6 L511.5,339.4 L513.5,340.2 L515.5,341 L517.5,341.8 L519.5,342.6 L521.5,343.5 L523.5,344.3 L525.5,345.1 L527.5,346 L529.5,346.8 L531.5,347.6 L533.5,348.5 L535.5,349.3 L537.5,350.1 L539.5,351 L541.5,351.8 L543.5,352.6 L545.5,353.5 L547.5,354.3 L549.5,355.1 L551.5,355.9 L553.5,356.7 L555.5,357.5 L557.5,358.3 L559.5,359.1 L561.5,359.9 L563.5,360.6 L565.5,361.4 L567.5,362.1 L569.5,362.9 L571.5,363.6 L573.5,364.3 L575.5,365 L577.5,365.7 L579.5,366.4 L581.5,367 L583.5,367.7 L585.5,368.3 L587.5,369 L589.5,369.6 L591.5,370.2 L593.5,370.8 L595.5,371.4 L597.5,372 L599.5,372.6 L601.5,373.1 L603.5,373.7 L605.5,374.2 L607.5,374.8 L609.5,375.3 L611.5,375.8 L613.5,376.3 L615.5,376.8 L617.5,377.3 L619.5,377.8 L621.5,378.3 L623.5,378.7 L625.5,379.2 L627.5,379.6 L629.5,380.1 L631.5,380.5 L633.5,380.9 L635.5,381.3 L637.5,381.7 L639.5,382.1 L641.5,382.5 L643.5,382.9 L645.5,383.3 L647.5,383.6 L649.5,384 L651.5,384.3 L653.5,384.7 L655.5,385 L657.5,385.4 L659.5,385.7 L661.5,386 L663.5,386.3 L665.5,386.6 L667.5,386.9 L669.5,387.2 L671.5,387.5 L673.5,387.8 L675.5,388.1 L677.5,388.3 L679.5,388.6 L681.5,388.9 L683.5,389.1 L685.5,389.4 L687.5,389.6 L689.5,389.8 L691.5,390.1 L693.5,390.3 L695.5,390.5 L697.5,390.7 L699.5,391 L701.5,391.2 L703.5,391.4 L705.5,391.6 L707.5,391.8 L709.5,392 L711.5,392.2 L713.5,392.4 L715.5,392.5 L717.5,392.7 L719.5,392.9 L721.5,393.1 L723.5,393.2 L725.5,393.4 L727.5,393.6 L729.5,393.7 L731.5,393.9 L733.5,394 L735.5,394.2 L737.5,394.3 L739.5,394.5 L741.5,394.6 L743.5,394.7 L745.5,394.9 L747.5,395 L749.5,395.1 L751.5,395.3 L753.5,395.4 L755.5,395.5 L757.5,395.6 L759.5,395.7 L761.5,395.8 L763.5,395.9 L765.5,396.1 L767.5,396.2 L769.5,396.3 L771.5,396.4 L773.5,396.5 L775.5,396.6 L777.5,396.6 L779.5,396.7 L781.5,396.8 L783.5,396.9 L785.5,397 L787.5,397.1 L789.5,397.2 L791.5,397.2 L793.5,397.3 L795.5,397.4 L797.5,397.5 L799.5,397.5 L801.5,397.6 L803.5,397.7 L805.5,397.7 L807.5,397.8 L809.5,397.9 L811.5,397.9 L813.5,398 L815.5,398 L817.5,398.1 L819.5,398.2 L821.5,398.2 L823.5,398.3 L825.5,398.3 L827.5,398.4 L829.5,398.4 L831.5,398.5 L833.5,398.5 L835.5,398.6 L837.5,398.6 L839.5,398.7 L841.5,398.7 L843.5,398.8 L845.5,398.8 L847.5,398.9 L849.5,398.9 L851.5,399 L853.5,399 L855.5,399.1 L857.5,399.1 L859.5,399.2 L861.5,399.2 L863.5,399.2 L865.5,399.3 L867.5,399.3 L869.5,399.4 L871.5,399.4 L873.5,399.4 L875.5,399.5 L877.5,399.5 L879.5,399.6 L881.5,399.6 L883.5,399.6 L885.5,399.7 L887.5,399.7 L889.5,399.8 L891.5,399.8 L893.5,399.8 L895.5,399.9 L897.5,399.9 L899.5,399.9 L901.5,400 L903.5,400 L905.5,400.1 L907.5,400.1 L909.5,400.1 L911.5,400.2 L913.5,400.2 L915.5,400.2 L917.5,400.3 L919.5,400.3 L921.5,400.3 L923.5,400.4 L925.5,400.4 L927.5,400.4 L929.5,400.4 L931.5,400.5 L933.5,400.5 L935.5,400.5 L937.5,400.6 L939.5,400.6 L941.5,400.6 L943.5,400.7 L945.5,400.7 L947.5,400.7 L949.5,400.7 L951.5,400.8 L953.5,400.8 L955.5,400.8 L957.5,400.8 L959.5,400.9 L961.5,400.9 L963.5,400.9 L965.5,401 L967.5,401 L969.5,401 L971.5,401 L973.5,401.1 L975.5,401.1 L977.5,401.1 L979.5,401.1 L981.5,401.1 L983.5,401.2 L985.5,401.2 L987.5,401.2 L989.5,401.2 L991.5,401.3 L993.5,401.3 L995.5,401.3 L997.5,401.3 L999.5,401.3 L1001.5,401.4 L1003.5,401.4 L1005.5,401.4 L1007.5,401.4 L1009.5,401.5 L1011.5,401.5 L1013.5,401.5 L1015.5,401.5 L1017.5,401.5 L1019.5,401.6 L1021.5,401.6 L1023.5,401.6 L1025.5,401.6 L1027.5,401.6 L1029.5,401.6 L1031.5,401.7 L1033.5,401.7 L1035.5,401.7 L1037.5,401.7 L1039.5,401.7 L1041.5,401.8 L1043.5,401.8 L1045.5,401.8 L1047.5,401.8 L1049.5,401.8 L1051.5,401.8 L1053.5,401.9 L1055.5,401.9 L1057.5,401.9 L1059.5,401.9 L1061.5,401.9 L1063.5,401.9 L1065.5,402 L1067.5,402 L1069.5,402 L1071.5,402 L1073.5,402 L1075.5,402 L1077.5,402.1 L1079.5,402.1 L1081.5,402.1 L1083.5,402.1 L1085.5,402.1 L1087.5,402.1 L1089.5,402.1 L1091.5,402.2 L1093.5,402.2 L1095.5,402.2 L1097.5,402.2 L1099.5,402.2 L1101.5,402.2 L1103.5,402.3 L1105.5,402.3 L1107.5,402.3 L1109.5,402.3 L1111.5,402.3 L1113.5,402.3 L1115.5,402.3 L1117.5,402.4 L1119.5,402.4 L1121.5,402.4 L1123.5,402.4 L1125.5,402.4 L1127.5,402.4 L1129.5,402.4 L1131.5,402.5 L1133.5,402.5 L1135.5,402.5 L1137.5,402.5 L1139.5,402.5 L1141.5,402.5 L1143.5,402.5 L1145.5,402.5 L1147.5,402.6 L1149.5,402.6 L1151.5,402.6 L1153.5,402.6 L1155.5,402.6 L1157.5,402.6 L1159.5,402.6 L1161.5,402.6 L1163.5,402.6 L1165.5,402.6 L1167.5,402.6 L1169.5,402.6 L1171.5,402.7 L1173.5,402.7 L1175.5,402.7 L1177.5,402.7 L1179.5,402.7 L1181.5,402.7 L1183.5,402.7 L1185.5,402.7 L1187.5,402.6 L1189.5,402.6 L1191.5,402.6 L1193.5,402.6 L1195.5,402.6 L1197.5,402.6 L1199.5,402.6 L1201.5,402.6 L1203.5,402.6 L1205.5,402.6 L1207.5,402.5 L1209.5,402.5 L1211.5,402.5 L1213.5,402.5 L1215.5,402.5 L1217.5,402.4 L1219.5,402.4 L1221.5,402.4 L1223.5,402.3 L1225.5,402.3 L1227.5,402.3 L1229.5,402.2 L1231.5,402.2 L1233.5,402.2 L1235.5,402.1 L1237.5,402.1 L1239.5,402 L1241.5,402 L1243.5,401.9 L1245.5,401.9 L1247.5,401.8 L1249.5,401.8 L1251.5,401.7 L1253.5,401.7 L1255.5,401.6 L1257.5,401.5 L1259.5,401.5 L1261.5,401.4 L1263.5,401.3 L1265.5,401.2 L1267.5,401.2 L1269.5,401.1 L1271.5,401 L1273.5,400.9 L1275.5,400.7 L1277.5,400.6 L1279.5,400.5 L1281.5,400.3 L1283.5,400.1 L1285.5,399.9 L1287.5,399.7 L1289.5,399.5 L1291.5,399.3 L1293.5,399 L1295.5,398.7 L1297.5,398.4 L1299.5,398.1 L1301.5,397.7 L1303.5,397.3 L1305.5,396.9 L1307.5,396.5 L1309.5,396.1 L1311.5,395.6 L1313.5,395.1 L1315.5,394.6 L1317.5,394.1 L1319.5,393.6 L1321.5,393 L1323.5,392.4 L1325.5,391.8 L1327.5,391.2 L1329.5,390.5 L1331.5,389.9 L1333.5,389.2 L1335.5,388.5 L1337.5,387.8 L1339.5,387.1 L1341.5,386.3 L1343.5,385.6 L1345.5,384.8 L1347.5,384.1 L1349.5,383.3 L1351.5,382.5 L1353.5,381.7 L1355.5,380.9 L1357.5,380.1 L1359.5,379.3 L1361.5,378.6 L1363.5,377.8 L1365.5,377 L1367.5,376.2 L1369.5,375.4 L1371.5,374.6 L1373.5,373.9 L1375.5,373.1 L1375.7,373" fill="none" stroke="#2d4c29" stroke-width="8.2" stroke-linejoin="round"/>
<path d="M313.5,471.1 L315.5,469.7 L317.5,468.3 L319.5,467 L321.5,465.6 L323.5,464.3 L325.5,462.9 L327.5,461.6 L329.5,460.3 L331.5,459 L333.5,457.7 L335.5,456.4 L337.5,455.1 L339.5,453.9 L341.5,452.7 L343.5,451.4 L345.5,450.2 L347.5,449 L349.5,447.9 L351.5,446.7 L353.5,445.6 L355.5,444.4 L357.5,443.3 L359.5,442.3 L361.5,441.2 L363.5,440.2 L365.5,439.1 L367.5,438.1 L369.5,437.2 L371.5,436.2 L373.5,435.3 L375.5,434.4 L377.5,433.5 L379.5,432.6 L381.5,431.8 L383.5,431 L385.5,430.2 L387.5,429.4 L389.5,428.7 L391.5,428 L393.5,427.3 L395.5,426.7 L397.5,426.1 L399.5,425.5 L401.5,425 L403.5,424.4 L405.5,424 L407.5,423.5 L409.5,423.1 L411.5,422.7 L413.5,422.3 L415.5,422 L417.5,421.7 L419.5,421.5 L421.5,421.3 L423.5,421.1 L425.5,421 L427.5,420.9 L429.5,420.8 L431.5,420.8 L433.5,420.8 L435.5,420.9 L437.5,421 L439.5,421.1 L441.5,421.3 L443.5,421.5 L445.5,421.7 L447.5,422 L449.5,422.3 L451.5,422.6 L453.5,423 L455.5,423.4 L457.5,423.8 L459.5,424.3 L461.5,424.8 L463.5,425.3 L465.5,425.8 L467.5,426.4 L469.5,427 L471.5,427.6 L473.5,428.3 L475.5,429 L477.5,429.6 L479.5,430.4 L481.5,431.1 L483.5,431.9 L485.5,432.6 L487.5,433.4 L489.5,434.2 L491.5,435.1 L493.5,435.9 L495.5,436.8 L497.5,437.6 L499.5,438.5 L501.5,439.4 L503.5,440.4 L505.5,441.3 L507.5,442.2 L509.5,443.2 L511.5,444.1 L513.5,445.1 L515.5,446.1 L517.5,447.1 L519.5,448.1 L521.5,449.1 L523.5,450.1 L525.5,451.1 L527.5,452.1 L529.5,453.1 L531.5,454.1 L533.5,455.1 L535.5,456.1 L537.5,457.2 L539.5,458.2 L541.5,459.2 L543.5,460.2 L545.5,461.2 L547.5,462.2 L549.5,463.2 L551.5,464.2 L553.5,465.2 L555.5,466.2 L557.5,467.1 L559.5,468.1 L561.5,469.1 L563.5,470 L565.5,470.9 L567.5,471.9 L569.5,472.8 L571.5,473.7 L573.5,474.6 L575.5,475.4 L577.5,476.3 L579.5,477.1 L581.5,478 L583.5,478.8 L585.5,479.6 L587.5,480.4 L589.5,481.2 L591.5,482 L593.5,482.7 L595.5,483.5 L597.5,484.2 L599.5,484.9 L601.5,485.6 L603.5,486.3 L605.5,487 L607.5,487.7 L609.5,488.4 L611.5,489 L613.5,489.7 L615.5,490.3 L617.5,491 L619.5,491.6 L621.5,492.2 L623.5,492.8 L625.5,493.3 L627.5,493.9 L629.5,494.5 L631.5,495 L633.5,495.6 L635.5,496.1 L637.5,496.6 L639.5,497.1 L641.5,497.6 L643.5,498.1 L645.5,498.6 L647.5,499.1 L649.5,499.6 L651.5,500 L653.5,500.5 L655.5,500.9 L657.5,501.3 L659.5,501.7 L661.5,502.1 L663.5,502.5 L665.5,502.9 L667.5,503.3 L669.5,503.7 L671.5,504.1 L673.5,504.4 L675.5,504.8 L677.5,505.1 L679.5,505.4 L681.5,505.8 L683.5,506.1 L685.5,506.4 L687.5,506.7 L689.5,507 L691.5,507.3 L693.5,507.6 L695.5,507.8 L697.5,508.1 L699.5,508.4 L701.5,508.6 L703.5,508.9 L705.5,509.1 L707.5,509.3 L709.5,509.6 L711.5,509.8 L713.5,510 L715.5,510.2 L717.5,510.4 L719.5,510.6 L721.5,510.8 L723.5,511 L725.5,511.1 L727.5,511.3 L729.5,511.5 L731.5,511.6 L733.5,511.8 L735.5,511.9 L737.5,512.1 L739.5,512.2 L741.5,512.3 L743.5,512.5 L745.5,512.6 L747.5,512.7 L749.5,512.8 L751.5,512.9 L753.5,513 L755.5,513.1 L757.5,513.2 L759.5,513.3 L761.5,513.4 L763.5,513.4 L765.5,513.5 L767.5,513.6 L769.5,513.7 L771.5,513.7 L773.5,513.8 L775.5,513.8 L777.5,513.9 L779.5,513.9 L781.5,514 L783.5,514 L785.5,514.1 L787.5,514.1 L789.5,514.1 L791.5,514.2 L793.5,514.2 L795.5,514.2 L797.5,514.3 L799.5,514.3 L801.5,514.3 L803.5,514.3 L805.5,514.3 L807.5,514.3 L809.5,514.3 L811.5,514.3 L813.5,514.3 L815.5,514.3 L817.5,514.3 L819.5,514.3 L821.5,514.3 L823.5,514.3 L825.5,514.3 L827.5,514.3 L829.5,514.3 L831.5,514.3 L833.5,514.3 L835.5,514.3 L837.5,514.3 L839.5,514.3 L841.5,514.3 L843.5,514.2 L845.5,514.2 L847.5,514.2 L849.5,514.2 L851.5,514.2 L853.5,514.2 L855.5,514.2 L857.5,514.1 L859.5,514.1 L861.5,514.1 L863.5,514.1 L865.5,514.1 L867.5,514.1 L869.5,514 L871.5,514 L873.5,514 L875.5,514 L877.5,514 L879.5,513.9 L881.5,513.9 L883.5,513.9 L885.5,513.9 L887.5,513.9 L889.5,513.8 L891.5,513.8 L893.5,513.8 L895.5,513.8 L897.5,513.8 L899.5,513.7 L901.5,513.7 L903.5,513.7 L905.5,513.7 L907.5,513.7 L909.5,513.6 L911.5,513.6 L913.5,513.6 L915.5,513.6 L917.5,513.6 L919.5,513.5 L921.5,513.5 L923.5,513.5 L925.5,513.5 L927.5,513.4 L929.5,513.4 L931.5,513.4 L933.5,513.4 L935.5,513.4 L937.5,513.3 L939.5,513.3 L941.5,513.3 L943.5,513.3 L945.5,513.2 L947.5,513.2 L949.5,513.2 L951.5,513.2 L953.5,513.2 L955.5,513.1 L957.5,513.1 L959.5,513.1 L961.5,513.1 L963.5,513.1 L965.5,513 L967.5,513 L969.5,513 L971.5,513 L973.5,513 L975.5,512.9 L977.5,512.9 L979.5,512.9 L981.5,512.9 L983.5,512.9 L985.5,512.8 L987.5,512.8 L989.5,512.8 L991.5,512.8 L993.5,512.8 L995.5,512.8 L997.5,512.7 L999.5,512.7 L1001.5,512.7 L1003.5,512.7 L1005.5,512.7 L1007.5,512.7 L1009.5,512.6 L1011.5,512.6 L1013.5,512.6 L1015.5,512.6 L1017.5,512.6 L1019.5,512.6 L1021.5,512.6 L1023.5,512.6 L1025.5,512.5 L1027.5,512.5 L1029.5,512.5 L1031.5,512.5 L1033.5,512.5 L1035.5,512.5 L1037.5,512.5 L1039.5,512.5 L1041.5,512.5 L1043.5,512.5 L1045.5,512.5 L1047.5,512.4 L1049.5,512.4 L1051.5,512.4 L1053.5,512.4 L1055.5,512.4 L1057.5,512.4 L1059.5,512.4 L1061.5,512.4 L1063.5,512.4 L1065.5,512.4 L1067.5,512.4 L1069.5,512.4 L1071.5,512.4 L1073.5,512.4 L1075.5,512.4 L1077.5,512.4 L1079.5,512.4 L1081.5,512.4 L1083.5,512.4 L1085.5,512.5 L1087.5,512.5 L1089.5,512.5 L1091.5,512.5 L1093.5,512.5 L1095.5,512.5 L1097.5,512.5 L1099.5,512.5 L1101.5,512.5 L1103.5,512.5 L1105.5,512.6 L1107.5,512.6 L1109.5,512.6 L1111.5,512.6 L1113.5,512.6 L1115.5,512.6 L1117.5,512.7 L1119.5,512.7 L1121.5,512.7 L1123.5,512.7 L1125.5,512.7 L1127.5,512.8 L1129.5,512.8 L1131.5,512.8 L1133.5,512.8 L1135.5,512.9 L1137.5,512.9 L1139.5,512.9 L1141.5,512.9 L1143.5,513 L1145.5,513 L1147.5,513 L1149.5,513 L1151.5,513.1 L1153.5,513.1 L1155.5,513.1 L1157.5,513.1 L1159.5,513.2 L1161.5,513.2 L1163.5,513.2 L1165.5,513.2 L1167.5,513.3 L1169.5,513.3 L1171.5,513.3 L1173.5,513.3 L1175.5,513.3 L1177.5,513.4 L1179.5,513.4 L1181.5,513.4 L1183.5,513.4 L1185.5,513.4 L1187.5,513.4 L1189.5,513.4 L1191.5,513.4 L1193.5,513.4 L1195.5,513.4 L1197.5,513.4 L1199.5,513.4 L1201.5,513.4 L1203.5,513.4 L1205.5,513.4 L1207.5,513.4 L1209.5,513.4 L1211.5,513.4 L1213.5,513.4 L1215.5,513.4 L1217.5,513.3 L1219.5,513.3 L1221.5,513.3 L1223.5,513.2 L1225.5,513.2 L1227.5,513.2 L1229.5,513.1 L1231.5,513.1 L1233.5,513 L1235.5,513 L1237.5,512.9 L1239.5,512.9 L1241.5,512.8 L1243.5,512.8 L1245.5,512.7 L1247.5,512.6 L1249.5,512.6 L1251.5,512.5 L1253.5,512.4 L1255.5,512.3 L1257.5,512.2 L1259.5,512.1 L1261.5,512 L1263.5,511.9 L1265.5,511.8 L1267.5,511.7 L1269.5,511.5 L1271.5,511.4 L1273.5,511.2 L1275.5,511.1 L1277.5,510.9 L1279.5,510.7 L1281.5,510.4 L1283.5,510.2 L1285.5,509.9 L1287.5,509.6 L1289.5,509.3 L1291.5,509 L1293.5,508.6 L1295.5,508.2 L1297.5,507.8 L1299.5,507.3 L1301.5,506.9 L1303.5,506.4 L1305.5,505.8 L1307.5,505.3 L1309.5,504.7 L1311.5,504.1 L1313.5,503.4 L1315.5,502.8 L1317.5,502.1 L1319.5,501.4 L1321.5,500.6 L1323.5,499.9 L1325.5,499.1 L1327.5,498.3 L1329.5,497.5 L1331.5,496.7 L1333.5,495.8 L1335.5,494.9 L1337.5,494 L1339.5,493.1 L1341.5,492.2 L1343.5,491.3 L1345.5,490.4 L1347.5,489.4 L1349.5,488.5 L1351.5,487.6 L1353.5,486.6 L1355.5,485.7 L1357.5,484.7 L1359.5,483.8 L1361.5,482.9 L1363.5,482 L1365.5,481.1 L1367.5,480.2 L1369.5,479.3 L1371.5,478.4 L1373.5,477.6 L1375.5,476.7 L1375.7,476.7 L1375.7,489.1 L1375.5,489.2 L1373.5,489.6 L1371.5,490.2 L1369.5,490.7 L1367.5,491.3 L1365.5,491.9 L1363.5,492.5 L1361.5,493.2 L1359.5,493.8 L1357.5,494.5 L1355.5,495.2 L1353.5,495.9 L1351.5,496.6 L1349.5,497.4 L1347.5,498.1 L1345.5,498.9 L1343.5,499.6 L1341.5,500.3 L1339.5,501.1 L1337.5,501.8 L1335.5,502.6 L1333.5,503.3 L1331.5,504 L1329.5,504.7 L1327.5,505.4 L1325.5,506.1 L1323.5,506.8 L1321.5,507.4 L1319.5,508 L1317.5,508.7 L1315.5,509.3 L1313.5,509.8 L1311.5,510.4 L1309.5,510.9 L1307.5,511.5 L1305.5,512 L1303.5,512.4 L1301.5,512.9 L1299.5,513.3 L1297.5,513.7 L1295.5,514.1 L1293.5,514.5 L1291.5,514.8 L1289.5,515.1 L1287.5,515.4 L1285.5,515.7 L1283.5,516 L1281.5,516.2 L1279.5,516.4 L1277.5,516.6 L1275.5,516.8 L1273.5,516.9 L1271.5,517.1 L1269.5,517.2 L1267.5,517.4 L1265.5,517.5 L1263.5,517.6 L1261.5,517.7 L1259.5,517.8 L1257.5,517.9 L1255.5,518 L1253.5,518.1 L1251.5,518.2 L1249.5,518.3 L1247.5,518.3 L1245.5,518.4 L1243.5,518.5 L1241.5,518.5 L1239.5,518.6 L1237.5,518.7 L1235.5,518.7 L1233.5,518.8 L1231.5,518.8 L1229.5,518.9 L1227.5,518.9 L1225.5,519 L1223.5,519 L1221.5,519 L1219.5,519.1 L1217.5,519.1 L1215.5,519.1 L1213.5,519.2 L1211.5,519.2 L1209.5,519.2 L1207.5,519.2 L1205.5,519.2 L1203.5,519.3 L1201.5,519.3 L1199.5,519.3 L1197.5,519.3 L1195.5,519.3 L1193.5,519.3 L1191.5,519.3 L1189.5,519.3 L1187.5,519.3 L1185.5,519.3 L1183.5,519.3 L1181.5,519.3 L1179.5,519.3 L1177.5,519.3 L1175.5,519.3 L1173.5,519.2 L1171.5,519.2 L1169.5,519.2 L1167.5,519.2 L1165.5,519.2 L1163.5,519.2 L1161.5,519.2 L1159.5,519.1 L1157.5,519.1 L1155.5,519.1 L1153.5,519.1 L1151.5,519.1 L1149.5,519 L1147.5,519 L1145.5,519 L1143.5,519 L1141.5,519 L1139.5,519 L1137.5,518.9 L1135.5,518.9 L1133.5,518.9 L1131.5,518.9 L1129.5,518.9 L1127.5,518.8 L1125.5,518.8 L1123.5,518.8 L1121.5,518.8 L1119.5,518.8 L1117.5,518.8 L1115.5,518.7 L1113.5,518.7 L1111.5,518.7 L1109.5,518.7 L1107.5,518.7 L1105.5,518.7 L1103.5,518.7 L1101.5,518.7 L1099.5,518.6 L1097.5,518.6 L1095.5,518.6 L1093.5,518.6 L1091.5,518.6 L1089.5,518.6 L1087.5,518.6 L1085.5,518.6 L1083.5,518.6 L1081.5,518.6 L1079.5,518.6 L1077.5,518.6 L1075.5,518.6 L1073.5,518.6 L1071.5,518.6 L1069.5,518.6 L1067.5,518.6 L1065.5,518.6 L1063.5,518.6 L1061.5,518.6 L1059.5,518.6 L1057.5,518.6 L1055.5,518.6 L1053.5,518.6 L1051.5,518.6 L1049.5,518.6 L1047.5,518.6 L1045.5,518.6 L1043.5,518.6 L1041.5,518.6 L1039.5,518.6 L1037.5,518.6 L1035.5,518.6 L1033.5,518.6 L1031.5,518.7 L1029.5,518.7 L1027.5,518.7 L1025.5,518.7 L1023.5,518.7 L1021.5,518.7 L1019.5,518.7 L1017.5,518.7 L1015.5,518.7 L1013.5,518.7 L1011.5,518.8 L1009.5,518.8 L1007.5,518.8 L1005.5,518.8 L1003.5,518.8 L1001.5,518.8 L999.5,518.8 L997.5,518.8 L995.5,518.8 L993.5,518.9 L991.5,518.9 L989.5,518.9 L987.5,518.9 L985.5,518.9 L983.5,518.9 L981.5,518.9 L979.5,519 L977.5,519 L975.5,519 L973.5,519 L971.5,519 L969.5,519 L967.5,519.1 L965.5,519.1 L963.5,519.1 L961.5,519.1 L959.5,519.1 L957.5,519.1 L955.5,519.2 L953.5,519.2 L951.5,519.2 L949.5,519.2 L947.5,519.2 L945.5,519.2 L943.5,519.2 L941.5,519.3 L939.5,519.3 L937.5,519.3 L935.5,519.3 L933.5,519.3 L931.5,519.3 L929.5,519.4 L927.5,519.4 L925.5,519.4 L923.5,519.4 L921.5,519.4 L919.5,519.4 L917.5,519.5 L915.5,519.5 L913.5,519.5 L911.5,519.5 L909.5,519.5 L907.5,519.5 L905.5,519.6 L903.5,519.6 L901.5,519.6 L899.5,519.6 L897.5,519.6 L895.5,519.6 L893.5,519.7 L891.5,519.7 L889.5,519.7 L887.5,519.7 L885.5,519.7 L883.5,519.7 L881.5,519.7 L879.5,519.8 L877.5,519.8 L875.5,519.8 L873.5,519.8 L871.5,519.8 L869.5,519.8 L867.5,519.8 L865.5,519.8 L863.5,519.8 L861.5,519.9 L859.5,519.9 L857.5,519.9 L855.5,519.9 L853.5,519.9 L851.5,519.9 L849.5,519.9 L847.5,519.9 L845.5,519.9 L843.5,519.9 L841.5,520 L839.5,520 L837.5,520 L835.5,520 L833.5,520 L831.5,520 L829.5,520 L827.5,520 L825.5,520 L823.5,520 L821.5,520 L819.5,520 L817.5,520 L815.5,520 L813.5,520 L811.5,520 L809.5,520 L807.5,520 L805.5,520 L803.5,519.9 L801.5,519.9 L799.5,519.9 L797.5,519.9 L795.5,519.9 L793.5,519.9 L791.5,519.8 L789.5,519.8 L787.5,519.8 L785.5,519.8 L783.5,519.7 L781.5,519.7 L779.5,519.7 L777.5,519.6 L775.5,519.6 L773.5,519.5 L771.5,519.5 L769.5,519.5 L767.5,519.4 L765.5,519.3 L763.5,519.3 L761.5,519.2 L759.5,519.2 L757.5,519.1 L755.5,519 L753.5,519 L751.5,518.9 L749.5,518.8 L747.5,518.7 L745.5,518.7 L743.5,518.6 L741.5,518.5 L739.5,518.4 L737.5,518.3 L735.5,518.2 L733.5,518.1 L731.5,518 L729.5,517.9 L727.5,517.7 L725.5,517.6 L723.5,517.5 L721.5,517.4 L719.5,517.2 L717.5,517.1 L715.5,517 L713.5,516.8 L711.5,516.7 L709.5,516.5 L707.5,516.4 L705.5,516.2 L703.5,516 L701.5,515.9 L699.5,515.7 L697.5,515.5 L695.5,515.3 L693.5,515.1 L691.5,514.9 L689.5,514.7 L687.5,514.5 L685.5,514.3 L683.5,514.1 L681.5,513.9 L679.5,513.6 L677.5,513.4 L675.5,513.2 L673.5,512.9 L671.5,512.7 L669.5,512.4 L667.5,512.1 L665.5,511.9 L663.5,511.6 L661.5,511.3 L659.5,511 L657.5,510.7 L655.5,510.4 L653.5,510.1 L651.5,509.8 L649.5,509.5 L647.5,509.2 L645.5,508.9 L643.5,508.5 L641.5,508.2 L639.5,507.8 L637.5,507.5 L635.5,507.1 L633.5,506.8 L631.5,506.4 L629.5,506 L627.5,505.6 L625.5,505.2 L623.5,504.8 L621.5,504.4 L619.5,504 L617.5,503.6 L615.5,503.1 L613.5,502.7 L611.5,502.2 L609.5,501.8 L607.5,501.3 L605.5,500.9 L603.5,500.4 L601.5,499.9 L599.5,499.4 L597.5,498.9 L595.5,498.4 L593.5,497.9 L591.5,497.4 L589.5,496.8 L587.5,496.3 L585.5,495.7 L583.5,495.2 L581.5,494.6 L579.5,494 L577.5,493.5 L575.5,492.9 L573.5,492.3 L571.5,491.7 L569.5,491 L567.5,490.4 L565.5,489.8 L563.5,489.1 L561.5,488.5 L559.5,487.8 L557.5,487.2 L555.5,486.5 L553.5,485.8 L551.5,485.2 L549.5,484.5 L547.5,483.8 L545.5,483.1 L543.5,482.4 L541.5,481.8 L539.5,481.1 L537.5,480.4 L535.5,479.7 L533.5,479 L531.5,478.4 L529.5,477.7 L527.5,477 L525.5,476.3 L523.5,475.7 L521.5,475 L519.5,474.4 L517.5,473.8 L515.5,473.1 L513.5,472.5 L511.5,471.9 L509.5,471.3 L507.5,470.7 L505.5,470.1 L503.5,469.5 L501.5,469 L499.5,468.4 L497.5,467.9 L495.5,467.4 L493.5,466.9 L491.5,466.4 L489.5,465.9 L487.5,465.4 L485.5,465 L483.5,464.5 L481.5,464.1 L479.5,463.6 L477.5,463.2 L475.5,462.8 L473.5,462.4 L471.5,462 L469.5,461.6 L467.5,461.2 L465.5,460.8 L463.5,460.4 L461.5,460 L459.5,459.6 L457.5,459.3 L455.5,458.9 L453.5,458.6 L451.5,458.3 L449.5,458 L447.5,457.7 L445.5,457.4 L443.5,457.1 L441.5,456.9 L439.5,456.7 L437.5,456.5 L435.5,456.3 L433.5,456.1 L431.5,456 L429.5,455.9 L427.5,455.9 L425.5,455.8 L423.5,455.8 L421.5,455.8 L419.5,455.8 L417.5,455.9 L415.5,456 L413.5,456.1 L411.5,456.2 L409.5,456.4 L407.5,456.6 L405.5,456.8 L403.5,457 L401.5,457.3 L399.5,457.6 L397.5,457.9 L395.5,458.2 L393.5,458.6 L391.5,458.9 L389.5,459.3 L387.5,459.7 L385.5,460.2 L383.5,460.6 L381.5,461.1 L379.5,461.6 L377.5,462.2 L375.5,462.7 L373.5,463.3 L371.5,463.8 L369.5,464.4 L367.5,465.1 L365.5,465.7 L363.5,466.4 L361.5,467 L359.5,467.7 L357.5,468.5 L355.5,469.2 L353.5,469.9 L351.5,470.7 L349.5,471.5 L347.5,472.3 L345.5,473.1 L343.5,473.9 L341.5,474.8 L339.5,475.7 L337.5,476.5 L335.5,477.4 L333.5,478.3 L331.5,479.3 L329.5,480.2 L327.5,481.1 L325.5,482.1 L323.5,483.1 L321.5,484.1 L319.5,485.1 L317.5,486.1 L315.5,487.1 L313.5,488.2 Z" fill="#78a773"/>
<path d="M313.5,480.5 L315.5,479.4 L317.5,478.4 L319.5,477.4 L321.5,476.4 L323.5,475.3 L325.5,474.3 L327.5,473.3 L329.5,472.2 L331.5,471.2 L333.5,470.2 L335.5,469.2 L337.5,468.2 L339.5,467.2 L341.5,466.2 L343.5,465.2 L345.5,464.2 L347.5,463.2 L349.5,462.2 L351.5,461.3 L353.5,460.3 L355.5,459.4 L357.5,458.5 L359.5,457.5 L361.5,456.6 L363.5,455.7 L365.5,454.9 L367.5,454 L369.5,453.2 L371.5,452.3 L373.5,451.5 L375.5,450.7 L377.5,449.9 L379.5,449.2 L381.5,448.4 L383.5,447.7 L385.5,447 L387.5,446.3 L389.5,445.6 L391.5,445 L393.5,444.4 L395.5,443.8 L397.5,443.2 L399.5,442.7 L401.5,442.2 L403.5,441.7 L405.5,441.2 L407.5,440.8 L409.5,440.3 L411.5,440 L413.5,439.6 L415.5,439.3 L417.5,439 L419.5,438.7 L421.5,438.5 L423.5,438.3 L425.5,438.1 L427.5,438 L429.5,437.9 L431.5,437.8 L433.5,437.8 L435.5,437.8 L437.5,437.9 L439.5,437.9 L441.5,438 L443.5,438.2 L445.5,438.3 L447.5,438.5 L449.5,438.8 L451.5,439 L453.5,439.3 L455.5,439.6 L457.5,440 L459.5,440.4 L461.5,440.8 L463.5,441.2 L465.5,441.6 L467.5,442.1 L469.5,442.6 L471.5,443.1 L473.5,443.6 L475.5,444.2 L477.5,444.8 L479.5,445.4 L481.5,446 L483.5,446.6 L485.5,447.3 L487.5,448 L489.5,448.6 L491.5,449.3 L493.5,450.1 L495.5,450.8 L497.5,451.5 L499.5,452.3 L501.5,453.1 L503.5,453.8 L505.5,454.6 L507.5,455.4 L509.5,456.3 L511.5,457.1 L513.5,457.9 L515.5,458.7 L517.5,459.6 L519.5,460.4 L521.5,461.3 L523.5,462.2 L525.5,463 L527.5,463.9 L529.5,464.8 L531.5,465.6 L533.5,466.5 L535.5,467.4 L537.5,468.3 L539.5,469.1 L541.5,470 L543.5,470.9 L545.5,471.8 L547.5,472.6 L549.5,473.5 L551.5,474.3 L553.5,475.2 L555.5,476 L557.5,476.9 L559.5,477.7 L561.5,478.5 L563.5,479.3 L565.5,480.1 L567.5,480.9 L569.5,481.7 L571.5,482.5 L573.5,483.3 L575.5,484 L577.5,484.7 L579.5,485.5 L581.5,486.2 L583.5,486.9 L585.5,487.6 L587.5,488.3 L589.5,489 L591.5,489.6 L593.5,490.3 L595.5,490.9 L597.5,491.6 L599.5,492.2 L601.5,492.8 L603.5,493.4 L605.5,494 L607.5,494.6 L609.5,495.1 L611.5,495.7 L613.5,496.3 L615.5,496.8 L617.5,497.3 L619.5,497.9 L621.5,498.4 L623.5,498.9 L625.5,499.4 L627.5,499.9 L629.5,500.4 L631.5,500.8 L633.5,501.3 L635.5,501.8 L637.5,502.2 L639.5,502.6 L641.5,503.1 L643.5,503.5 L645.5,503.9 L647.5,504.3 L649.5,504.7 L651.5,505.1 L653.5,505.5 L655.5,505.8 L657.5,506.2 L659.5,506.6 L661.5,506.9 L663.5,507.2 L665.5,507.6 L667.5,507.9 L669.5,508.2 L671.5,508.5 L673.5,508.8 L675.5,509.1 L677.5,509.4 L679.5,509.7 L681.5,510 L683.5,510.2 L685.5,510.5 L687.5,510.8 L689.5,511 L691.5,511.3 L693.5,511.5 L695.5,511.7 L697.5,511.9 L699.5,512.2 L701.5,512.4 L703.5,512.6 L705.5,512.8 L707.5,513 L709.5,513.2 L711.5,513.3 L713.5,513.5 L715.5,513.7 L717.5,513.9 L719.5,514 L721.5,514.2 L723.5,514.3 L725.5,514.5 L727.5,514.6 L729.5,514.8 L731.5,514.9 L733.5,515 L735.5,515.1 L737.5,515.2 L739.5,515.4 L741.5,515.5 L743.5,515.6 L745.5,515.7 L747.5,515.8 L749.5,515.9 L751.5,515.9 L753.5,516 L755.5,516.1 L757.5,516.2 L759.5,516.3 L761.5,516.3 L763.5,516.4 L765.5,516.4 L767.5,516.5 L769.5,516.6 L771.5,516.6 L773.5,516.7 L775.5,516.7 L777.5,516.7 L779.5,516.8 L781.5,516.8 L783.5,516.8 L785.5,516.9 L787.5,516.9 L789.5,516.9 L791.5,517 L793.5,517 L795.5,517 L797.5,517 L799.5,517 L801.5,517 L803.5,517 L805.5,517.1 L807.5,517.1 L809.5,517.1 L811.5,517.1 L813.5,517.1 L815.5,517.1 L817.5,517.1 L819.5,517.1 L821.5,517.1 L823.5,517.1 L825.5,517 L827.5,517 L829.5,517 L831.5,517 L833.5,517 L835.5,517 L837.5,517 L839.5,517 L841.5,517 L843.5,517 L845.5,516.9 L847.5,516.9 L849.5,516.9 L851.5,516.9 L853.5,516.9 L855.5,516.9 L857.5,516.9 L859.5,516.9 L861.5,516.8 L863.5,516.8 L865.5,516.8 L867.5,516.8 L869.5,516.8 L871.5,516.8 L873.5,516.8 L875.5,516.7 L877.5,516.7 L879.5,516.7 L881.5,516.7 L883.5,516.7 L885.5,516.7 L887.5,516.7 L889.5,516.6 L891.5,516.6 L893.5,516.6 L895.5,516.6 L897.5,516.6 L899.5,516.6 L901.5,516.5 L903.5,516.5 L905.5,516.5 L907.5,516.5 L909.5,516.5 L911.5,516.5 L913.5,516.4 L915.5,516.4 L917.5,516.4 L919.5,516.4 L921.5,516.4 L923.5,516.4 L925.5,516.4 L927.5,516.3 L929.5,516.3 L931.5,516.3 L933.5,516.3 L935.5,516.3 L937.5,516.3 L939.5,516.2 L941.5,516.2 L943.5,516.2 L945.5,516.2 L947.5,516.2 L949.5,516.2 L951.5,516.2 L953.5,516.1 L955.5,516.1 L957.5,516.1 L959.5,516.1 L961.5,516.1 L963.5,516.1 L965.5,516.1 L967.5,516 L969.5,516 L971.5,516 L973.5,516 L975.5,516 L977.5,516 L979.5,516 L981.5,515.9 L983.5,515.9 L985.5,515.9 L987.5,515.9 L989.5,515.9 L991.5,515.9 L993.5,515.9 L995.5,515.9 L997.5,515.8 L999.5,515.8 L1001.5,515.8 L1003.5,515.8 L1005.5,515.8 L1007.5,515.8 L1009.5,515.8 L1011.5,515.8 L1013.5,515.8 L1015.5,515.8 L1017.5,515.7 L1019.5,515.7 L1021.5,515.7 L1023.5,515.7 L1025.5,515.7 L1027.5,515.7 L1029.5,515.7 L1031.5,515.7 L1033.5,515.7 L1035.5,515.7 L1037.5,515.7 L1039.5,515.7 L1041.5,515.7 L1043.5,515.7 L1045.5,515.7 L1047.5,515.7 L1049.5,515.6 L1051.5,515.6 L1053.5,515.6 L1055.5,515.6 L1057.5,515.6 L1059.5,515.6 L1061.5,515.6 L1063.5,515.6 L1065.5,515.6 L1067.5,515.6 L1069.5,515.6 L1071.5,515.6 L1073.5,515.6 L1075.5,515.6 L1077.5,515.6 L1079.5,515.6 L1081.5,515.6 L1083.5,515.6 L1085.5,515.7 L1087.5,515.7 L1089.5,515.7 L1091.5,515.7 L1093.5,515.7 L1095.5,515.7 L1097.5,515.7 L1099.5,515.7 L1101.5,515.7 L1103.5,515.7 L1105.5,515.7 L1107.5,515.7 L1109.5,515.7 L1111.5,515.7 L1113.5,515.8 L1115.5,515.8 L1117.5,515.8 L1119.5,515.8 L1121.5,515.8 L1123.5,515.8 L1125.5,515.8 L1127.5,515.8 L1129.5,515.9 L1131.5,515.9 L1133.5,515.9 L1135.5,515.9 L1137.5,515.9 L1139.5,515.9 L1141.5,515.9 L1143.5,516 L1145.5,516 L1147.5,516 L1149.5,516 L1151.5,516 L1153.5,516 L1155.5,516.1 L1157.5,516.1 L1159.5,516.1 L1161.5,516.1 L1163.5,516.1 L1165.5,516.1 L1167.5,516.1 L1169.5,516.1 L1171.5,516.2 L1173.5,516.2 L1175.5,516.2 L1177.5,516.2 L1179.5,516.2 L1181.5,516.2 L1183.5,516.2 L1185.5,516.2 L1187.5,516.2 L1189.5,516.2 L1191.5,516.2 L1193.5,516.2 L1195.5,516.2 L1197.5,516.2 L1199.5,516.2 L1201.5,516.2 L1203.5,516.1 L1205.5,516.1 L1207.5,516.1 L1209.5,516.1 L1211.5,516.1 L1213.5,516.1 L1215.5,516 L1217.5,516 L1219.5,516 L1221.5,515.9 L1223.5,515.9 L1225.5,515.9 L1227.5,515.8 L1229.5,515.8 L1231.5,515.8 L1233.5,515.7 L1235.5,515.7 L1237.5,515.6 L1239.5,515.6 L1241.5,515.5 L1243.5,515.5 L1245.5,515.4 L1247.5,515.3 L1249.5,515.3 L1251.5,515.2 L1253.5,515.1 L1255.5,515 L1257.5,515 L1259.5,514.9 L1261.5,514.8 L1263.5,514.7 L1265.5,514.6 L1267.5,514.5 L1269.5,514.4 L1271.5,514.2 L1273.5,514.1 L1275.5,514 L1277.5,513.8 L1279.5,513.6 L1281.5,513.4 L1283.5,513.2 L1285.5,512.9 L1287.5,512.7 L1289.5,512.4 L1291.5,512.1 L1293.5,511.7 L1295.5,511.4 L1297.5,511 L1299.5,510.6 L1301.5,510.1 L1303.5,509.6 L1305.5,509.1 L1307.5,508.6 L1309.5,508.1 L1311.5,507.5 L1313.5,506.9 L1315.5,506.3 L1317.5,505.7 L1319.5,505 L1321.5,504.3 L1323.5,503.6 L1325.5,502.9 L1327.5,502.2 L1329.5,501.4 L1331.5,500.6 L1333.5,499.8 L1335.5,499 L1337.5,498.2 L1339.5,497.3 L1341.5,496.5 L1343.5,495.6 L1345.5,494.8 L1347.5,493.9 L1349.5,493 L1351.5,492.2 L1353.5,491.3 L1355.5,490.4 L1357.5,489.6 L1359.5,488.7 L1361.5,487.9 L1363.5,487 L1365.5,486.2 L1367.5,485.4 L1369.5,484.6 L1371.5,483.9 L1373.5,483.1 L1375.5,482.4 L1375.7,482.3" fill="none" stroke="#2d4c29" stroke-width="8.2" stroke-linejoin="round"/>
<path d="M313.5,543.8 L315.5,543.8 L317.5,543.8 L319.5,543.8 L321.5,543.8 L323.5,543.8 L325.5,543.8 L327.5,543.8 L329.5,543.8 L331.5,543.8 L333.5,544 L335.5,544.3 L337.5,544.6 L339.5,544.9 L341.5,545.3 L343.5,545.7 L345.5,546.1 L347.5,546.5 L349.5,546.9 L351.5,547.4 L353.5,547.9 L355.5,548.4 L357.5,548.9 L359.5,549.5 L361.5,550.1 L363.5,550.7 L365.5,551.3 L367.5,552 L369.5,552.6 L371.5,553.3 L373.5,554.1 L375.5,554.8 L377.5,555.5 L379.5,556.3 L381.5,557.1 L383.5,557.9 L385.5,558.7 L387.5,559.6 L389.5,560.4 L391.5,561.3 L393.5,562.1 L395.5,563 L397.5,563.9 L399.5,564.8 L401.5,565.7 L403.5,566.6 L405.5,567.5 L407.5,568.4 L409.5,569.3 L411.5,570.2 L413.5,571.2 L415.5,572.1 L417.5,573 L419.5,573.9 L421.5,574.8 L423.5,575.7 L425.5,576.6 L427.5,577.5 L429.5,578.4 L431.5,579.3 L433.5,580.2 L435.5,581.1 L437.5,581.9 L439.5,582.8 L441.5,583.6 L443.5,584.5 L445.5,585.3 L447.5,586.1 L449.5,586.9 L451.5,587.8 L453.5,588.6 L455.5,589.3 L457.5,590.1 L459.5,590.9 L461.5,591.7 L463.5,592.4 L465.5,593.2 L467.5,593.9 L469.5,594.7 L471.5,595.4 L473.5,596.1 L475.5,596.8 L477.5,597.6 L479.5,598.2 L481.5,598.9 L483.5,599.6 L485.5,600.3 L487.5,601 L489.5,601.6 L491.5,602.3 L493.5,602.9 L495.5,603.6 L497.5,604.2 L499.5,604.8 L501.5,605.4 L503.5,606.1 L505.5,606.7 L507.5,607.3 L509.5,607.8 L511.5,608.4 L513.5,609 L515.5,609.6 L517.5,610.1 L519.5,610.7 L521.5,611.2 L523.5,611.8 L525.5,612.3 L527.5,612.8 L529.5,613.3 L531.5,613.8 L533.5,614.3 L535.5,614.8 L537.5,615.3 L539.5,615.8 L541.5,616.3 L543.5,616.7 L545.5,617.2 L547.5,617.6 L549.5,618.1 L551.5,618.5 L553.5,619 L555.5,619.4 L557.5,619.8 L559.5,620.2 L561.5,620.6 L563.5,621 L565.5,621.4 L567.5,621.8 L569.5,622.2 L571.5,622.5 L573.5,622.9 L575.5,623.3 L577.5,623.6 L579.5,624 L581.5,624.3 L583.5,624.6 L585.5,625 L587.5,625.3 L589.5,625.6 L591.5,625.9 L593.5,626.2 L595.5,626.6 L597.5,626.9 L599.5,627.2 L601.5,627.4 L603.5,627.7 L605.5,628 L607.5,628.3 L609.5,628.6 L611.5,628.9 L613.5,629.1 L615.5,629.4 L617.5,629.7 L619.5,630 L621.5,630.2 L623.5,630.5 L625.5,630.8 L627.5,631 L629.5,631.3 L631.5,631.5 L633.5,631.8 L635.5,632.1 L637.5,632.3 L639.5,632.6 L641.5,632.8 L643.5,633.1 L645.5,633.4 L647.5,633.6 L649.5,633.9 L651.5,634.2 L653.5,634.4 L655.5,634.7 L657.5,634.9 L659.5,635.2 L661.5,635.5 L663.5,635.7 L665.5,636 L667.5,636.3 L669.5,636.5 L671.5,636.8 L673.5,637 L675.5,637.3 L677.5,637.6 L679.5,637.8 L681.5,638.1 L683.5,638.4 L685.5,638.6 L687.5,638.9 L689.5,639.2 L691.5,639.5 L693.5,639.7 L695.5,640 L697.5,640.3 L699.5,640.5 L701.5,640.8 L703.5,641.1 L705.5,641.4 L707.5,641.6 L709.5,641.9 L711.5,642.2 L713.5,642.5 L715.5,642.7 L717.5,643 L719.5,643.3 L721.5,643.6 L723.5,643.9 L725.5,644.1 L727.5,644.4 L729.5,644.7 L731.5,645 L733.5,645.3 L735.5,645.5 L737.5,645.8 L739.5,646.1 L741.5,646.4 L743.5,646.7 L745.5,646.9 L747.5,647.2 L749.5,647.5 L751.5,647.8 L753.5,648 L755.5,648.3 L757.5,648.6 L759.5,648.8 L761.5,649.1 L763.5,649.4 L765.5,649.6 L767.5,649.9 L769.5,650.2 L771.5,650.4 L773.5,650.7 L775.5,650.9 L777.5,651.2 L779.5,651.4 L781.5,651.7 L783.5,651.9 L785.5,652.2 L787.5,652.4 L789.5,652.6 L791.5,652.9 L793.5,653.1 L795.5,653.3 L797.5,653.6 L799.5,653.8 L801.5,654 L803.5,654.2 L805.5,654.4 L807.5,654.6 L809.5,654.9 L811.5,655.1 L813.5,655.3 L815.5,655.4 L817.5,655.6 L819.5,655.8 L821.5,656 L823.5,656.2 L825.5,656.4 L827.5,656.5 L829.5,656.7 L831.5,656.9 L833.5,657 L835.5,657.2 L837.5,657.3 L839.5,657.5 L841.5,657.6 L843.5,657.7 L845.5,657.9 L847.5,658 L849.5,658.1 L851.5,658.2 L853.5,658.3 L855.5,658.4 L857.5,658.5 L859.5,658.6 L861.5,658.7 L863.5,658.8 L865.5,658.9 L867.5,658.9 L869.5,659 L871.5,659.1 L873.5,659.1 L875.5,659.2 L877.5,659.2 L879.5,659.3 L881.5,659.3 L883.5,659.4 L885.5,659.4 L887.5,659.5 L889.5,659.5 L891.5,659.5 L893.5,659.5 L895.5,659.6 L897.5,659.6 L899.5,659.6 L901.5,659.6 L903.5,659.6 L905.5,659.6 L907.5,659.6 L909.5,659.6 L911.5,659.6 L913.5,659.6 L915.5,659.6 L917.5,659.6 L919.5,659.6 L921.5,659.6 L923.5,659.6 L925.5,659.6 L927.5,659.6 L929.5,659.5 L931.5,659.5 L933.5,659.5 L935.5,659.5 L937.5,659.5 L939.5,659.4 L941.5,659.4 L943.5,659.4 L945.5,659.3 L947.5,659.3 L949.5,659.3 L951.5,659.2 L953.5,659.2 L955.5,659.2 L957.5,659.1 L959.5,659.1 L961.5,659.1 L963.5,659 L965.5,659 L967.5,658.9 L969.5,658.9 L971.5,658.9 L973.5,658.8 L975.5,658.8 L977.5,658.7 L979.5,658.7 L981.5,658.7 L983.5,658.6 L985.5,658.6 L987.5,658.6 L989.5,658.5 L991.5,658.5 L993.5,658.5 L995.5,658.4 L997.5,658.4 L999.5,658.4 L1001.5,658.3 L1003.5,658.3 L1005.5,658.3 L1007.5,658.2 L1009.5,658.2 L1011.5,658.2 L1013.5,658.1 L1015.5,658.1 L1017.5,658.1 L1019.5,658 L1021.5,658 L1023.5,658 L1025.5,658 L1027.5,657.9 L1029.5,657.9 L1031.5,657.9 L1033.5,657.8 L1035.5,657.8 L1037.5,657.8 L1039.5,657.8 L1041.5,657.7 L1043.5,657.7 L1045.5,657.7 L1047.5,657.7 L1049.5,657.7 L1051.5,657.6 L1053.5,657.6 L1055.5,657.6 L1057.5,657.6 L1059.5,657.5 L1061.5,657.5 L1063.5,657.5 L1065.5,657.5 L1067.5,657.5 L1069.5,657.5 L1071.5,657.4 L1073.5,657.4 L1075.5,657.4 L1077.5,657.4 L1079.5,657.4 L1081.5,657.4 L1083.5,657.3 L1085.5,657.3 L1087.5,657.3 L1089.5,657.3 L1091.5,657.3 L1093.5,657.3 L1095.5,657.3 L1097.5,657.3 L1099.5,657.2 L1101.5,657.2 L1103.5,657.2 L1105.5,657.2 L1107.5,657.2 L1109.5,657.2 L1111.5,657.2 L1113.5,657.2 L1115.5,657.2 L1117.5,657.2 L1119.5,657.2 L1121.5,657.1 L1123.5,657.1 L1125.5,657.1 L1127.5,657.1 L1129.5,657.1 L1131.5,657.1 L1133.5,657.1 L1135.5,657.1 L1137.5,657 L1139.5,657 L1141.5,657 L1143.5,656.9 L1145.5,656.9 L1147.5,656.8 L1149.5,656.7 L1151.5,656.7 L1153.5,656.6 L1155.5,656.5 L1157.5,656.3 L1159.5,656.2 L1161.5,656.1 L1163.5,655.9 L1165.5,655.7 L1167.5,655.5 L1169.5,655.3 L1171.5,655.1 L1173.5,654.8 L1175.5,654.6 L1177.5,654.3 L1179.5,653.9 L1181.5,653.6 L1183.5,653.3 L1185.5,652.9 L1187.5,652.5 L1189.5,652 L1191.5,651.6 L1193.5,651.1 L1195.5,650.6 L1197.5,650 L1199.5,649.4 L1201.5,648.8 L1203.5,648.1 L1205.5,647.4 L1207.5,646.7 L1209.5,645.8 L1211.5,645 L1213.5,644 L1215.5,643.1 L1217.5,642 L1219.5,641 L1221.5,639.9 L1223.5,638.7 L1225.5,637.6 L1227.5,636.4 L1229.5,635.1 L1231.5,633.9 L1233.5,632.6 L1235.5,631.3 L1237.5,630 L1239.5,628.6 L1241.5,627.2 L1243.5,625.8 L1245.5,624.4 L1247.5,622.9 L1249.5,621.4 L1251.5,619.9 L1253.5,618.4 L1255.5,616.9 L1257.5,615.3 L1259.5,613.7 L1261.5,612.1 L1263.5,610.5 L1265.5,608.9 L1267.5,607.2 L1269.5,605.6 L1271.5,603.9 L1273.5,602.2 L1275.5,600.6 L1277.5,598.9 L1279.5,597.2 L1281.5,595.5 L1283.5,593.8 L1285.5,592.1 L1287.5,590.5 L1289.5,588.8 L1291.5,587.2 L1293.5,585.5 L1295.5,583.9 L1297.5,582.3 L1299.5,580.7 L1301.5,579.1 L1303.5,577.5 L1305.5,576 L1307.5,574.5 L1309.5,573 L1311.5,571.5 L1313.5,570.1 L1315.5,568.7 L1317.5,567.3 L1319.5,566 L1321.5,564.7 L1323.5,563.4 L1325.5,562.2 L1327.5,561.1 L1329.5,559.9 L1331.5,558.9 L1333.5,557.8 L1335.5,556.8 L1337.5,555.9 L1339.5,555 L1341.5,554.1 L1343.5,553.3 L1345.5,552.5 L1347.5,551.7 L1349.5,551 L1351.5,550.3 L1353.5,549.7 L1355.5,549.1 L1357.5,548.5 L1359.5,548 L1361.5,547.5 L1363.5,547 L1365.5,546.6 L1367.5,546.2 L1369.5,545.8 L1371.5,545.4 L1373.5,545.1 L1375.5,544.9 L1375.7,544.8 L1375.7,589.7 L1375.5,589.7 L1373.5,589.8 L1371.5,589.8 L1369.5,589.9 L1367.5,590 L1365.5,590.1 L1363.5,590.3 L1361.5,590.4 L1359.5,590.6 L1357.5,590.8 L1355.5,591.1 L1353.5,591.3 L1351.5,591.6 L1349.5,592 L1347.5,592.3 L1345.5,592.7 L1343.5,593.1 L1341.5,593.5 L1339.5,594 L1337.5,594.5 L1335.5,595.1 L1333.5,595.7 L1331.5,596.3 L1329.5,596.9 L1327.5,597.6 L1325.5,598.4 L1323.5,599.1 L1321.5,600 L1319.5,600.8 L1317.5,601.7 L1315.5,602.6 L1313.5,603.6 L1311.5,604.5 L1309.5,605.5 L1307.5,606.6 L1305.5,607.6 L1303.5,608.7 L1301.5,609.8 L1299.5,610.9 L1297.5,612.1 L1295.5,613.2 L1293.5,614.4 L1291.5,615.6 L1289.5,616.8 L1287.5,618 L1285.5,619.3 L1283.5,620.5 L1281.5,621.7 L1279.5,623 L1277.5,624.2 L1275.5,625.5 L1273.5,626.7 L1271.5,628 L1269.5,629.3 L1267.5,630.5 L1265.5,631.7 L1263.5,633 L1261.5,634.2 L1259.5,635.4 L1257.5,636.6 L1255.5,637.8 L1253.5,639 L1251.5,640.2 L1249.5,641.3 L1247.5,642.4 L1245.5,643.6 L1243.5,644.7 L1241.5,645.8 L1239.5,646.8 L1237.5,647.9 L1235.5,648.9 L1233.5,649.9 L1231.5,650.9 L1229.5,651.9 L1227.5,652.8 L1225.5,653.8 L1223.5,654.7 L1221.5,655.6 L1219.5,656.4 L1217.5,657.2 L1215.5,658 L1213.5,658.7 L1211.5,659.4 L1209.5,660.1 L1207.5,660.7 L1205.5,661.3 L1203.5,661.8 L1201.5,662.2 L1199.5,662.7 L1197.5,663.1 L1195.5,663.4 L1193.5,663.8 L1191.5,664.1 L1189.5,664.4 L1187.5,664.7 L1185.5,664.9 L1183.5,665.1 L1181.5,665.3 L1179.5,665.5 L1177.5,665.7 L1175.5,665.9 L1173.5,666 L1171.5,666.1 L1169.5,666.2 L1167.5,666.3 L1165.5,666.4 L1163.5,666.5 L1161.5,666.5 L1159.5,666.6 L1157.5,666.6 L1155.5,666.7 L1153.5,666.7 L1151.5,666.7 L1149.5,666.7 L1147.5,666.7 L1145.5,666.6 L1143.5,666.6 L1141.5,666.6 L1139.5,666.5 L1137.5,666.5 L1135.5,666.5 L1133.5,666.4 L1131.5,666.4 L1129.5,666.3 L1127.5,666.3 L1125.5,666.2 L1123.5,666.2 L1121.5,666.1 L1119.5,666.1 L1117.5,666 L1115.5,666 L1113.5,665.9 L1111.5,665.9 L1109.5,665.8 L1107.5,665.8 L1105.5,665.8 L1103.5,665.7 L1101.5,665.7 L1099.5,665.7 L1097.5,665.6 L1095.5,665.6 L1093.5,665.6 L1091.5,665.5 L1089.5,665.5 L1087.5,665.5 L1085.5,665.5 L1083.5,665.4 L1081.5,665.4 L1079.5,665.4 L1077.5,665.4 L1075.5,665.4 L1073.5,665.3 L1071.5,665.3 L1069.5,665.3 L1067.5,665.3 L1065.5,665.3 L1063.5,665.3 L1061.5,665.3 L1059.5,665.3 L1057.5,665.3 L1055.5,665.3 L1053.5,665.2 L1051.5,665.2 L1049.5,665.2 L1047.5,665.2 L1045.5,665.2 L1043.5,665.2 L1041.5,665.2 L1039.5,665.2 L1037.5,665.3 L1035.5,665.3 L1033.5,665.3 L1031.5,665.3 L1029.5,665.3 L1027.5,665.3 L1025.5,665.3 L1023.5,665.3 L1021.5,665.3 L1019.5,665.3 L1017.5,665.3 L1015.5,665.4 L1013.5,665.4 L1011.5,665.4 L1009.5,665.4 L1007.5,665.4 L1005.5,665.4 L1003.5,665.4 L1001.5,665.5 L999.5,665.5 L997.5,665.5 L995.5,665.5 L993.5,665.5 L991.5,665.6 L989.5,665.6 L987.5,665.6 L985.5,665.6 L983.5,665.6 L981.5,665.7 L979.5,665.7 L977.5,665.7 L975.5,665.7 L973.5,665.8 L971.5,665.8 L969.5,665.8 L967.5,665.8 L965.5,665.9 L963.5,665.9 L961.5,665.9 L959.5,665.9 L957.5,666 L955.5,666 L953.5,666 L951.5,666 L949.5,666.1 L947.5,666.1 L945.5,666.1 L943.5,666.1 L941.5,666.2 L939.5,666.2 L937.5,666.2 L935.5,666.3 L933.5,666.3 L931.5,666.3 L929.5,666.3 L927.5,666.4 L925.5,666.4 L923.5,666.4 L921.5,666.4 L919.5,666.5 L917.5,666.5 L915.5,666.5 L913.5,666.6 L911.5,666.6 L909.5,666.6 L907.5,666.6 L905.5,666.7 L903.5,666.7 L901.5,666.7 L899.5,666.7 L897.5,666.7 L895.5,666.8 L893.5,666.8 L891.5,666.8 L889.5,666.8 L887.5,666.9 L885.5,666.9 L883.5,666.9 L881.5,666.9 L879.5,666.9 L877.5,667 L875.5,667 L873.5,667 L871.5,667 L869.5,667 L867.5,667 L865.5,667.1 L863.5,667.1 L861.5,667.1 L859.5,667.1 L857.5,667.1 L855.5,667.1 L853.5,667.1 L851.5,667.1 L849.5,667.2 L847.5,667.2 L845.5,667.2 L843.5,667.2 L841.5,667.2 L839.5,667.2 L837.5,667.2 L835.5,667.2 L833.5,667.2 L831.5,667.2 L829.5,667.2 L827.5,667.2 L825.5,667.2 L823.5,667.2 L821.5,667.2 L819.5,667.2 L817.5,667.3 L815.5,667.3 L813.5,667.3 L811.5,667.3 L809.5,667.3 L807.5,667.3 L805.5,667.3 L803.5,667.4 L801.5,667.4 L799.5,667.4 L797.5,667.4 L795.5,667.5 L793.5,667.5 L791.5,667.5 L789.5,667.6 L787.5,667.6 L785.5,667.7 L783.5,667.7 L781.5,667.8 L779.5,667.8 L777.5,667.9 L775.5,668 L773.5,668 L771.5,668.1 L769.5,668.2 L767.5,668.3 L765.5,668.3 L763.5,668.4 L761.5,668.5 L759.5,668.6 L757.5,668.7 L755.5,668.8 L753.5,668.9 L751.5,668.9 L749.5,669 L747.5,669.1 L745.5,669.2 L743.5,669.3 L741.5,669.3 L739.5,669.4 L737.5,669.5 L735.5,669.5 L733.5,669.6 L731.5,669.7 L729.5,669.7 L727.5,669.7 L725.5,669.8 L723.5,669.8 L721.5,669.8 L719.5,669.8 L717.5,669.9 L715.5,669.8 L713.5,669.8 L711.5,669.8 L709.5,669.8 L707.5,669.7 L705.5,669.7 L703.5,669.6 L701.5,669.6 L699.5,669.5 L697.5,669.4 L695.5,669.3 L693.5,669.2 L691.5,669 L689.5,668.9 L687.5,668.8 L685.5,668.6 L683.5,668.5 L681.5,668.3 L679.5,668.1 L677.5,667.9 L675.5,667.7 L673.5,667.5 L671.5,667.3 L669.5,667.1 L667.5,666.9 L665.5,666.6 L663.5,666.4 L661.5,666.1 L659.5,665.9 L657.5,665.6 L655.5,665.3 L653.5,665 L651.5,664.8 L649.5,664.5 L647.5,664.2 L645.5,663.8 L643.5,663.5 L641.5,663.2 L639.5,662.9 L637.5,662.6 L635.5,662.2 L633.5,661.9 L631.5,661.5 L629.5,661.2 L627.5,660.8 L625.5,660.5 L623.5,660.1 L621.5,659.7 L619.5,659.4 L617.5,659 L615.5,658.6 L613.5,658.2 L611.5,657.8 L609.5,657.4 L607.5,657 L605.5,656.6 L603.5,656.2 L601.5,655.8 L599.5,655.4 L597.5,655 L595.5,654.6 L593.5,654.2 L591.5,653.7 L589.5,653.3 L587.5,652.9 L585.5,652.5 L583.5,652 L581.5,651.6 L579.5,651.2 L577.5,650.7 L575.5,650.3 L573.5,649.9 L571.5,649.4 L569.5,649 L567.5,648.6 L565.5,648.1 L563.5,647.7 L561.5,647.3 L559.5,646.8 L557.5,646.4 L555.5,645.9 L553.5,645.5 L551.5,645.1 L549.5,644.6 L547.5,644.2 L545.5,643.8 L543.5,643.3 L541.5,642.9 L539.5,642.4 L537.5,642 L535.5,641.5 L533.5,641.1 L531.5,640.6 L529.5,640.2 L527.5,639.8 L525.5,639.3 L523.5,638.9 L521.5,638.4 L519.5,638 L517.5,637.5 L515.5,637 L513.5,636.6 L511.5,636.1 L509.5,635.7 L507.5,635.2 L505.5,634.8 L503.5,634.3 L501.5,633.9 L499.5,633.4 L497.5,632.9 L495.5,632.5 L493.5,632 L491.5,631.5 L489.5,631.1 L487.5,630.6 L485.5,630.1 L483.5,629.7 L481.5,629.2 L479.5,628.7 L477.5,628.2 L475.5,627.8 L473.5,627.3 L471.5,626.8 L469.5,626.3 L467.5,625.8 L465.5,625.4 L463.5,624.9 L461.5,624.4 L459.5,623.9 L457.5,623.4 L455.5,622.9 L453.5,622.4 L451.5,621.9 L449.5,621.4 L447.5,620.9 L445.5,620.4 L443.5,619.9 L441.5,619.4 L439.5,618.9 L437.5,618.4 L435.5,617.9 L433.5,617.4 L431.5,616.9 L429.5,616.4 L427.5,615.9 L425.5,615.4 L423.5,614.8 L421.5,614.3 L419.5,613.8 L417.5,613.3 L415.5,612.8 L413.5,612.3 L411.5,611.7 L409.5,611.2 L407.5,610.7 L405.5,610.2 L403.5,609.7 L401.5,609.2 L399.5,608.7 L397.5,608.2 L395.5,607.7 L393.5,607.2 L391.5,606.7 L389.5,606.2 L387.5,605.7 L385.5,605.2 L383.5,604.7 L381.5,604.3 L379.5,603.8 L377.5,603.3 L375.5,602.9 L373.5,602.4 L371.5,602 L369.5,601.6 L367.5,601.2 L365.5,600.7 L363.5,600.3 L361.5,599.9 L359.5,599.5 L357.5,599.1 L355.5,598.8 L353.5,598.4 L351.5,598 L349.5,597.7 L347.5,597.3 L345.5,597 L343.5,596.7 L341.5,596.4 L339.5,596.1 L337.5,595.8 L335.5,595.5 L333.5,595.2 L331.5,594.9 L329.5,594.7 L327.5,594.4 L325.5,594.2 L323.5,593.9 L321.5,593.7 L319.5,593.5 L317.5,593.3 L315.5,593.1 L313.5,592.9 Z" fill="#78a773"/>
<path d="M313.5,567.6 L315.5,567.8 L317.5,568 L319.5,568.2 L321.5,568.4 L323.5,568.7 L325.5,568.9 L327.5,569.1 L329.5,569.4 L331.5,569.7 L333.5,570 L335.5,570.2 L337.5,570.5 L339.5,570.9 L341.5,571.2 L343.5,571.5 L345.5,571.9 L347.5,572.2 L349.5,572.6 L351.5,573 L353.5,573.4 L355.5,573.8 L357.5,574.3 L359.5,574.7 L361.5,575.2 L363.5,575.7 L365.5,576.2 L367.5,576.7 L369.5,577.3 L371.5,577.8 L373.5,578.4 L375.5,579 L377.5,579.6 L379.5,580.2 L381.5,580.9 L383.5,581.5 L385.5,582.1 L387.5,582.8 L389.5,583.5 L391.5,584.2 L393.5,584.8 L395.5,585.5 L397.5,586.2 L399.5,586.9 L401.5,587.7 L403.5,588.4 L405.5,589.1 L407.5,589.8 L409.5,590.6 L411.5,591.3 L413.5,592 L415.5,592.7 L417.5,593.5 L419.5,594.2 L421.5,594.9 L423.5,595.7 L425.5,596.4 L427.5,597.1 L429.5,597.8 L431.5,598.5 L433.5,599.2 L435.5,599.9 L437.5,600.6 L439.5,601.3 L441.5,602 L443.5,602.7 L445.5,603.4 L447.5,604 L449.5,604.7 L451.5,605.4 L453.5,606 L455.5,606.7 L457.5,607.3 L459.5,607.9 L461.5,608.6 L463.5,609.2 L465.5,609.8 L467.5,610.4 L469.5,611 L471.5,611.7 L473.5,612.3 L475.5,612.9 L477.5,613.4 L479.5,614 L481.5,614.6 L483.5,615.2 L485.5,615.8 L487.5,616.3 L489.5,616.9 L491.5,617.5 L493.5,618 L495.5,618.6 L497.5,619.1 L499.5,619.7 L501.5,620.2 L503.5,620.7 L505.5,621.3 L507.5,621.8 L509.5,622.3 L511.5,622.8 L513.5,623.3 L515.5,623.8 L517.5,624.3 L519.5,624.8 L521.5,625.3 L523.5,625.8 L525.5,626.3 L527.5,626.8 L529.5,627.2 L531.5,627.7 L533.5,628.2 L535.5,628.6 L537.5,629.1 L539.5,629.6 L541.5,630 L543.5,630.5 L545.5,630.9 L547.5,631.3 L549.5,631.8 L551.5,632.2 L553.5,632.6 L555.5,633.1 L557.5,633.5 L559.5,633.9 L561.5,634.3 L563.5,634.7 L565.5,635.1 L567.5,635.5 L569.5,635.9 L571.5,636.3 L573.5,636.7 L575.5,637.1 L577.5,637.5 L579.5,637.9 L581.5,638.2 L583.5,638.6 L585.5,639 L587.5,639.3 L589.5,639.7 L591.5,640.1 L593.5,640.4 L595.5,640.8 L597.5,641.1 L599.5,641.5 L601.5,641.8 L603.5,642.1 L605.5,642.5 L607.5,642.8 L609.5,643.1 L611.5,643.5 L613.5,643.8 L615.5,644.1 L617.5,644.4 L619.5,644.7 L621.5,645 L623.5,645.4 L625.5,645.7 L627.5,646 L629.5,646.3 L631.5,646.5 L633.5,646.8 L635.5,647.1 L637.5,647.4 L639.5,647.7 L641.5,648 L643.5,648.2 L645.5,648.5 L647.5,648.8 L649.5,649 L651.5,649.3 L653.5,649.6 L655.5,649.8 L657.5,650.1 L659.5,650.3 L661.5,650.6 L663.5,650.8 L665.5,651.1 L667.5,651.3 L669.5,651.5 L671.5,651.8 L673.5,652 L675.5,652.2 L677.5,652.4 L679.5,652.7 L681.5,652.9 L683.5,653.1 L685.5,653.3 L687.5,653.5 L689.5,653.7 L691.5,653.9 L693.5,654.1 L695.5,654.3 L697.5,654.5 L699.5,654.7 L701.5,654.9 L703.5,655.1 L705.5,655.3 L707.5,655.5 L709.5,655.6 L711.5,655.8 L713.5,656 L715.5,656.2 L717.5,656.3 L719.5,656.5 L721.5,656.7 L723.5,656.8 L725.5,657 L727.5,657.2 L729.5,657.3 L731.5,657.5 L733.5,657.6 L735.5,657.8 L737.5,657.9 L739.5,658 L741.5,658.2 L743.5,658.3 L745.5,658.5 L747.5,658.6 L749.5,658.7 L751.5,658.8 L753.5,659 L755.5,659.1 L757.5,659.2 L759.5,659.3 L761.5,659.5 L763.5,659.6 L765.5,659.7 L767.5,659.8 L769.5,659.9 L771.5,660 L773.5,660.1 L775.5,660.2 L777.5,660.3 L779.5,660.4 L781.5,660.5 L783.5,660.6 L785.5,660.7 L787.5,660.8 L789.5,660.9 L791.5,660.9 L793.5,661 L795.5,661.1 L797.5,661.2 L799.5,661.3 L801.5,661.3 L803.5,661.4 L805.5,661.5 L807.5,661.6 L809.5,661.6 L811.5,661.7 L813.5,661.8 L815.5,661.8 L817.5,661.9 L819.5,661.9 L821.5,662 L823.5,662 L825.5,662.1 L827.5,662.1 L829.5,662.2 L831.5,662.2 L833.5,662.3 L835.5,662.3 L837.5,662.4 L839.5,662.4 L841.5,662.4 L843.5,662.5 L845.5,662.5 L847.5,662.6 L849.5,662.6 L851.5,662.6 L853.5,662.6 L855.5,662.7 L857.5,662.7 L859.5,662.7 L861.5,662.7 L863.5,662.8 L865.5,662.8 L867.5,662.8 L869.5,662.8 L871.5,662.8 L873.5,662.9 L875.5,662.9 L877.5,662.9 L879.5,662.9 L881.5,662.9 L883.5,662.9 L885.5,662.9 L887.5,662.9 L889.5,662.9 L891.5,662.9 L893.5,662.9 L895.5,662.9 L897.5,662.9 L899.5,662.9 L901.5,662.9 L903.5,662.9 L905.5,662.9 L907.5,662.9 L909.5,662.9 L911.5,662.9 L913.5,662.9 L915.5,662.9 L917.5,662.9 L919.5,662.9 L921.5,662.8 L923.5,662.8 L925.5,662.8 L927.5,662.8 L929.5,662.8 L931.5,662.8 L933.5,662.8 L935.5,662.7 L937.5,662.7 L939.5,662.7 L941.5,662.7 L943.5,662.7 L945.5,662.7 L947.5,662.6 L949.5,662.6 L951.5,662.6 L953.5,662.6 L955.5,662.6 L957.5,662.5 L959.5,662.5 L961.5,662.5 L963.5,662.5 L965.5,662.4 L967.5,662.4 L969.5,662.4 L971.5,662.4 L973.5,662.3 L975.5,662.3 L977.5,662.3 L979.5,662.3 L981.5,662.2 L983.5,662.2 L985.5,662.2 L987.5,662.2 L989.5,662.1 L991.5,662.1 L993.5,662.1 L995.5,662.1 L997.5,662 L999.5,662 L1001.5,662 L1003.5,662 L1005.5,661.9 L1007.5,661.9 L1009.5,661.9 L1011.5,661.9 L1013.5,661.8 L1015.5,661.8 L1017.5,661.8 L1019.5,661.8 L1021.5,661.8 L1023.5,661.7 L1025.5,661.7 L1027.5,661.7 L1029.5,661.7 L1031.5,661.6 L1033.5,661.6 L1035.5,661.6 L1037.5,661.6 L1039.5,661.6 L1041.5,661.6 L1043.5,661.5 L1045.5,661.5 L1047.5,661.5 L1049.5,661.5 L1051.5,661.5 L1053.5,661.5 L1055.5,661.4 L1057.5,661.4 L1059.5,661.4 L1061.5,661.4 L1063.5,661.4 L1065.5,661.4 L1067.5,661.4 L1069.5,661.4 L1071.5,661.4 L1073.5,661.4 L1075.5,661.3 L1077.5,661.3 L1079.5,661.3 L1081.5,661.3 L1083.5,661.3 L1085.5,661.3 L1087.5,661.3 L1089.5,661.3 L1091.5,661.3 L1093.5,661.3 L1095.5,661.3 L1097.5,661.4 L1099.5,661.4 L1101.5,661.4 L1103.5,661.4 L1105.5,661.4 L1107.5,661.4 L1109.5,661.4 L1111.5,661.4 L1113.5,661.5 L1115.5,661.5 L1117.5,661.5 L1119.5,661.5 L1121.5,661.5 L1123.5,661.6 L1125.5,661.6 L1127.5,661.6 L1129.5,661.6 L1131.5,661.6 L1133.5,661.7 L1135.5,661.7 L1137.5,661.7 L1139.5,661.7 L1141.5,661.7 L1143.5,661.7 L1145.5,661.7 L1147.5,661.7 L1149.5,661.6 L1151.5,661.6 L1153.5,661.6 L1155.5,661.5 L1157.5,661.4 L1159.5,661.4 L1161.5,661.3 L1163.5,661.2 L1165.5,661 L1167.5,660.9 L1169.5,660.8 L1171.5,660.6 L1173.5,660.4 L1175.5,660.2 L1177.5,660 L1179.5,659.8 L1181.5,659.5 L1183.5,659.2 L1185.5,658.9 L1187.5,658.6 L1189.5,658.2 L1191.5,657.9 L1193.5,657.5 L1195.5,657.1 L1197.5,656.6 L1199.5,656.1 L1201.5,655.6 L1203.5,655 L1205.5,654.4 L1207.5,653.7 L1209.5,653 L1211.5,652.3 L1213.5,651.4 L1215.5,650.6 L1217.5,649.7 L1219.5,648.7 L1221.5,647.8 L1223.5,646.7 L1225.5,645.7 L1227.5,644.6 L1229.5,643.5 L1231.5,642.4 L1233.5,641.3 L1235.5,640.1 L1237.5,638.9 L1239.5,637.7 L1241.5,636.4 L1243.5,635.2 L1245.5,633.9 L1247.5,632.6 L1249.5,631.3 L1251.5,629.9 L1253.5,628.5 L1255.5,627.2 L1257.5,625.7 L1259.5,624.3 L1261.5,622.9 L1263.5,621.4 L1265.5,620 L1267.5,618.5 L1269.5,617 L1271.5,615.5 L1273.5,614 L1275.5,612.5 L1277.5,611 L1279.5,609.5 L1281.5,608 L1283.5,606.5 L1285.5,605 L1287.5,603.5 L1289.5,602 L1291.5,600.6 L1293.5,599.1 L1295.5,597.7 L1297.5,596.2 L1299.5,594.8 L1301.5,593.4 L1303.5,592.1 L1305.5,590.7 L1307.5,589.4 L1309.5,588.1 L1311.5,586.9 L1313.5,585.6 L1315.5,584.4 L1317.5,583.3 L1319.5,582.2 L1321.5,581.1 L1323.5,580 L1325.5,579 L1327.5,578.1 L1329.5,577.2 L1331.5,576.3 L1333.5,575.5 L1335.5,574.7 L1337.5,573.9 L1339.5,573.2 L1341.5,572.6 L1343.5,572 L1345.5,571.4 L1347.5,570.9 L1349.5,570.4 L1351.5,569.9 L1353.5,569.5 L1355.5,569.1 L1357.5,568.8 L1359.5,568.4 L1361.5,568.2 L1363.5,567.9 L1365.5,567.7 L1367.5,567.5 L1369.5,567.4 L1371.5,567.3 L1373.5,567.2 L1375.5,567.2 L1375.7,567.2" fill="none" stroke="#2d4c29" stroke-width="8.2" stroke-linejoin="round"/>
<path d="M313.5,695.9 L315.5,695.9 L317.5,696 L319.5,696 L321.5,696.1 L323.5,696.2 L325.5,696.3 L327.5,696.4 L329.5,696.6 L331.5,696.7 L333.5,696.9 L335.5,697.1 L337.5,697.4 L339.5,697.6 L341.5,697.9 L343.5,698.2 L345.5,698.6 L347.5,698.9 L349.5,699.3 L351.5,699.7 L353.5,700.2 L355.5,700.6 L357.5,701.1 L359.5,701.7 L361.5,702.2 L363.5,702.8 L365.5,703.4 L367.5,704.1 L369.5,704.7 L371.5,705.4 L373.5,706.2 L375.5,706.9 L377.5,707.7 L379.5,708.5 L381.5,709.3 L383.5,710.1 L385.5,711 L387.5,711.9 L389.5,712.7 L391.5,713.6 L393.5,714.6 L395.5,715.5 L397.5,716.4 L399.5,717.4 L401.5,718.3 L403.5,719.3 L405.5,720.2 L407.5,721.2 L409.5,722.2 L411.5,723.2 L413.5,724.1 L415.5,725.1 L417.5,726.1 L419.5,727 L421.5,728 L423.5,729 L425.5,729.9 L427.5,730.9 L429.5,731.8 L431.5,732.7 L433.5,733.6 L435.5,734.5 L437.5,735.4 L439.5,736.3 L441.5,737.2 L443.5,738 L445.5,738.9 L447.5,739.7 L449.5,740.6 L451.5,741.4 L453.5,742.2 L455.5,743.1 L457.5,743.9 L459.5,744.7 L461.5,745.6 L463.5,746.4 L465.5,747.2 L467.5,748 L469.5,748.9 L471.5,749.7 L473.5,750.5 L475.5,751.3 L477.5,752.2 L479.5,753 L481.5,753.8 L483.5,754.6 L485.5,755.4 L487.5,756.2 L489.5,757 L491.5,757.8 L493.5,758.5 L495.5,759.3 L497.5,760 L499.5,760.8 L501.5,761.5 L503.5,762.2 L505.5,762.9 L507.5,763.6 L509.5,764.2 L511.5,764.9 L513.5,765.5 L515.5,766.2 L517.5,766.8 L519.5,767.4 L521.5,768 L523.5,768.5 L525.5,769.1 L527.5,769.6 L529.5,770.2 L531.5,770.7 L533.5,771.2 L535.5,771.7 L537.5,772.2 L539.5,772.7 L541.5,773.2 L543.5,773.7 L545.5,774.1 L547.5,774.6 L549.5,775 L551.5,775.4 L553.5,775.9 L555.5,776.3 L557.5,776.7 L559.5,777.1 L561.5,777.5 L563.5,777.9 L565.5,778.2 L567.5,778.6 L569.5,779 L571.5,779.3 L573.5,779.7 L575.5,780 L577.5,780.4 L579.5,780.7 L581.5,781 L583.5,781.3 L585.5,781.7 L587.5,782 L589.5,782.3 L591.5,782.6 L593.5,782.9 L595.5,783.2 L597.5,783.4 L599.5,783.7 L601.5,784 L603.5,784.3 L605.5,784.5 L607.5,784.8 L609.5,785.1 L611.5,785.3 L613.5,785.6 L615.5,785.8 L617.5,786.1 L619.5,786.3 L621.5,786.6 L623.5,786.8 L625.5,787 L627.5,787.3 L629.5,787.5 L631.5,787.7 L633.5,787.9 L635.5,788.2 L637.5,788.4 L639.5,788.6 L641.5,788.8 L643.5,789 L645.5,789.3 L647.5,789.5 L649.5,789.7 L651.5,789.9 L653.5,790.1 L655.5,790.3 L657.5,790.5 L659.5,790.7 L661.5,790.9 L663.5,791.1 L665.5,791.3 L667.5,791.5 L669.5,791.6 L671.5,791.8 L673.5,792 L675.5,792.2 L677.5,792.3 L679.5,792.5 L681.5,792.7 L683.5,792.8 L685.5,793 L687.5,793.1 L689.5,793.3 L691.5,793.4 L693.5,793.5 L695.5,793.7 L697.5,793.8 L699.5,793.9 L701.5,794.1 L703.5,794.2 L705.5,794.3 L707.5,794.4 L709.5,794.5 L711.5,794.6 L713.5,794.7 L715.5,794.7 L717.5,794.8 L719.5,794.9 L721.5,795 L723.5,795 L725.5,795.1 L727.5,795.1 L729.5,795.2 L731.5,795.2 L733.5,795.3 L735.5,795.3 L737.5,795.4 L739.5,795.4 L741.5,795.4 L743.5,795.4 L745.5,795.5 L747.5,795.5 L749.5,795.5 L751.5,795.5 L753.5,795.5 L755.5,795.5 L757.5,795.5 L759.5,795.5 L761.5,795.5 L763.5,795.5 L765.5,795.5 L767.5,795.5 L769.5,795.5 L771.5,795.5 L773.5,795.5 L775.5,795.4 L777.5,795.4 L779.5,795.4 L781.5,795.4 L783.5,795.4 L785.5,795.3 L787.5,795.3 L789.5,795.3 L791.5,795.2 L793.5,795.2 L795.5,795.2 L797.5,795.1 L799.5,795.1 L801.5,795.1 L803.5,795 L805.5,795 L807.5,795 L809.5,794.9 L811.5,794.9 L813.5,794.9 L815.5,794.8 L817.5,794.8 L819.5,794.8 L821.5,794.7 L823.5,794.7 L825.5,794.7 L827.5,794.6 L829.5,794.6 L831.5,794.6 L833.5,794.5 L835.5,794.5 L837.5,794.5 L839.5,794.4 L841.5,794.4 L843.5,794.4 L845.5,794.4 L847.5,794.3 L849.5,794.3 L851.5,794.3 L853.5,794.3 L855.5,794.3 L857.5,794.2 L859.5,794.2 L861.5,794.2 L863.5,794.2 L865.5,794.2 L867.5,794.2 L869.5,794.2 L871.5,794.2 L873.5,794.2 L875.5,794.2 L877.5,794.2 L879.5,794.2 L881.5,794.2 L883.5,794.2 L885.5,794.2 L887.5,794.2 L889.5,794.2 L891.5,794.2 L893.5,794.2 L895.5,794.2 L897.5,794.2 L899.5,794.2 L901.5,794.2 L903.5,794.2 L905.5,794.2 L907.5,794.2 L909.5,794.2 L911.5,794.2 L913.5,794.2 L915.5,794.2 L917.5,794.3 L919.5,794.3 L921.5,794.3 L923.5,794.3 L925.5,794.3 L927.5,794.3 L929.5,794.3 L931.5,794.3 L933.5,794.3 L935.5,794.3 L937.5,794.3 L939.5,794.4 L941.5,794.4 L943.5,794.4 L945.5,794.4 L947.5,794.4 L949.5,794.4 L951.5,794.4 L953.5,794.4 L955.5,794.4 L957.5,794.4 L959.5,794.4 L961.5,794.4 L963.5,794.4 L965.5,794.4 L967.5,794.4 L969.5,794.4 L971.5,794.4 L973.5,794.4 L975.5,794.4 L977.5,794.4 L979.5,794.4 L981.5,794.4 L983.5,794.4 L985.5,794.4 L987.5,794.4 L989.5,794.4 L991.5,794.4 L993.5,794.4 L995.5,794.3 L997.5,794.3 L999.5,794.3 L1001.5,794.3 L1003.5,794.3 L1005.5,794.3 L1007.5,794.3 L1009.5,794.2 L1011.5,794.2 L1013.5,794.2 L1015.5,794.2 L1017.5,794.2 L1019.5,794.2 L1021.5,794.1 L1023.5,794.1 L1025.5,794.1 L1027.5,794.1 L1029.5,794.1 L1031.5,794 L1033.5,794 L1035.5,794 L1037.5,794 L1039.5,794 L1041.5,793.9 L1043.5,793.9 L1045.5,793.9 L1047.5,793.9 L1049.5,793.9 L1051.5,793.9 L1053.5,793.8 L1055.5,793.8 L1057.5,793.8 L1059.5,793.8 L1061.5,793.8 L1063.5,793.8 L1065.5,793.8 L1067.5,793.7 L1069.5,793.7 L1071.5,793.7 L1073.5,793.7 L1075.5,793.7 L1077.5,793.7 L1079.5,793.7 L1081.5,793.7 L1083.5,793.7 L1085.5,793.7 L1087.5,793.7 L1089.5,793.7 L1091.5,793.7 L1093.5,793.7 L1095.5,793.7 L1097.5,793.7 L1099.5,793.7 L1101.5,793.7 L1103.5,793.7 L1105.5,793.7 L1107.5,793.7 L1109.5,793.8 L1111.5,793.8 L1113.5,793.8 L1115.5,793.8 L1117.5,793.8 L1119.5,793.9 L1121.5,793.9 L1123.5,793.9 L1125.5,794 L1127.5,794 L1129.5,794 L1131.5,794 L1133.5,794.1 L1135.5,794.1 L1137.5,794.1 L1139.5,794.2 L1141.5,794.2 L1143.5,794.2 L1145.5,794.3 L1147.5,794.3 L1149.5,794.3 L1151.5,794.3 L1153.5,794.3 L1155.5,794.3 L1157.5,794.3 L1159.5,794.3 L1161.5,794.3 L1163.5,794.3 L1165.5,794.2 L1167.5,794.2 L1169.5,794.2 L1171.5,794.1 L1173.5,794.1 L1175.5,794 L1177.5,793.9 L1179.5,793.8 L1181.5,793.7 L1183.5,793.6 L1185.5,793.5 L1187.5,793.4 L1189.5,793.3 L1191.5,793.1 L1193.5,792.9 L1195.5,792.8 L1197.5,792.6 L1199.5,792.3 L1201.5,792.1 L1203.5,791.8 L1205.5,791.5 L1207.5,791.2 L1209.5,790.9 L1211.5,790.5 L1213.5,790.1 L1215.5,789.6 L1217.5,789.1 L1219.5,788.6 L1221.5,788 L1223.5,787.4 L1225.5,786.7 L1227.5,786 L1229.5,785.2 L1231.5,784.4 L1233.5,783.5 L1235.5,782.6 L1237.5,781.7 L1239.5,780.7 L1241.5,779.6 L1243.5,778.5 L1245.5,777.4 L1247.5,776.2 L1249.5,775 L1251.5,773.8 L1253.5,772.5 L1255.5,771.2 L1257.5,769.8 L1259.5,768.4 L1261.5,767 L1263.5,765.5 L1265.5,764 L1267.5,762.5 L1269.5,760.9 L1271.5,759.4 L1273.5,757.8 L1275.5,756.1 L1277.5,754.5 L1279.5,752.8 L1281.5,751.2 L1283.5,749.5 L1285.5,747.8 L1287.5,746.1 L1289.5,744.3 L1291.5,742.6 L1293.5,740.9 L1295.5,739.2 L1297.5,737.4 L1299.5,735.7 L1301.5,734 L1303.5,732.3 L1305.5,730.6 L1307.5,728.9 L1309.5,727.3 L1311.5,725.7 L1313.5,724.1 L1315.5,722.5 L1317.5,721 L1319.5,719.5 L1321.5,718 L1323.5,716.6 L1325.5,715.3 L1327.5,713.9 L1329.5,712.7 L1331.5,711.5 L1333.5,710.3 L1335.5,709.2 L1337.5,708.1 L1339.5,707.1 L1341.5,706.2 L1343.5,705.2 L1345.5,704.4 L1347.5,703.5 L1349.5,702.7 L1351.5,702 L1353.5,701.3 L1355.5,700.6 L1357.5,700 L1359.5,699.4 L1361.5,698.8 L1363.5,698.3 L1365.5,697.8 L1367.5,697.3 L1369.5,696.9 L1371.5,696.5 L1373.5,696.1 L1375.5,695.8 L1375.7,695.8 L1375.7,723.8 L1375.5,723.8 L1373.5,723.7 L1371.5,723.7 L1369.5,723.7 L1367.5,723.7 L1365.5,723.8 L1363.5,723.9 L1361.5,724 L1359.5,724.2 L1357.5,724.4 L1355.5,724.7 L1353.5,725 L1351.5,725.3 L1349.5,725.7 L1347.5,726.1 L1345.5,726.6 L1343.5,727.1 L1341.5,727.6 L1339.5,728.3 L1337.5,728.9 L1335.5,729.6 L1333.5,730.4 L1331.5,731.2 L1329.5,732.1 L1327.5,733 L1325.5,734 L1323.5,735 L1321.5,736.1 L1319.5,737.2 L1317.5,738.4 L1315.5,739.6 L1313.5,740.8 L1311.5,742.1 L1309.5,743.4 L1307.5,744.8 L1305.5,746.1 L1303.5,747.5 L1301.5,748.9 L1299.5,750.4 L1297.5,751.8 L1295.5,753.3 L1293.5,754.7 L1291.5,756.2 L1289.5,757.6 L1287.5,759.1 L1285.5,760.5 L1283.5,762 L1281.5,763.4 L1279.5,764.9 L1277.5,766.3 L1275.5,767.7 L1273.5,769.1 L1271.5,770.5 L1269.5,771.8 L1267.5,773.2 L1265.5,774.5 L1263.5,775.8 L1261.5,777.1 L1259.5,778.3 L1257.5,779.5 L1255.5,780.7 L1253.5,781.8 L1251.5,783 L1249.5,784 L1247.5,785.1 L1245.5,786.1 L1243.5,787.1 L1241.5,788 L1239.5,788.9 L1237.5,789.8 L1235.5,790.6 L1233.5,791.4 L1231.5,792.2 L1229.5,792.9 L1227.5,793.5 L1225.5,794.1 L1223.5,794.7 L1221.5,795.2 L1219.5,795.7 L1217.5,796.1 L1215.5,796.6 L1213.5,796.9 L1211.5,797.3 L1209.5,797.6 L1207.5,797.8 L1205.5,798.1 L1203.5,798.3 L1201.5,798.5 L1199.5,798.7 L1197.5,798.9 L1195.5,799 L1193.5,799.1 L1191.5,799.2 L1189.5,799.3 L1187.5,799.4 L1185.5,799.5 L1183.5,799.6 L1181.5,799.7 L1179.5,799.7 L1177.5,799.8 L1175.5,799.9 L1173.5,799.9 L1171.5,799.9 L1169.5,800 L1167.5,800 L1165.5,800 L1163.5,800 L1161.5,800 L1159.5,800 L1157.5,800 L1155.5,800 L1153.5,800 L1151.5,800 L1149.5,800 L1147.5,799.9 L1145.5,799.9 L1143.5,799.9 L1141.5,799.9 L1139.5,799.8 L1137.5,799.8 L1135.5,799.8 L1133.5,799.7 L1131.5,799.7 L1129.5,799.7 L1127.5,799.7 L1125.5,799.6 L1123.5,799.6 L1121.5,799.6 L1119.5,799.6 L1117.5,799.5 L1115.5,799.5 L1113.5,799.5 L1111.5,799.5 L1109.5,799.5 L1107.5,799.5 L1105.5,799.5 L1103.5,799.4 L1101.5,799.4 L1099.5,799.4 L1097.5,799.4 L1095.5,799.4 L1093.5,799.4 L1091.5,799.4 L1089.5,799.4 L1087.5,799.5 L1085.5,799.5 L1083.5,799.5 L1081.5,799.5 L1079.5,799.5 L1077.5,799.5 L1075.5,799.5 L1073.5,799.5 L1071.5,799.5 L1069.5,799.6 L1067.5,799.6 L1065.5,799.6 L1063.5,799.6 L1061.5,799.6 L1059.5,799.7 L1057.5,799.7 L1055.5,799.7 L1053.5,799.7 L1051.5,799.7 L1049.5,799.8 L1047.5,799.8 L1045.5,799.8 L1043.5,799.8 L1041.5,799.9 L1039.5,799.9 L1037.5,799.9 L1035.5,799.9 L1033.5,800 L1031.5,800 L1029.5,800 L1027.5,800 L1025.5,800.1 L1023.5,800.1 L1021.5,800.1 L1019.5,800.1 L1017.5,800.2 L1015.5,800.2 L1013.5,800.2 L1011.5,800.2 L1009.5,800.3 L1007.5,800.3 L1005.5,800.3 L1003.5,800.3 L1001.5,800.3 L999.5,800.4 L997.5,800.4 L995.5,800.4 L993.5,800.4 L991.5,800.4 L989.5,800.4 L987.5,800.5 L985.5,800.5 L983.5,800.5 L981.5,800.5 L979.5,800.5 L977.5,800.5 L975.5,800.5 L973.5,800.5 L971.5,800.5 L969.5,800.5 L967.5,800.5 L965.5,800.5 L963.5,800.5 L961.5,800.5 L959.5,800.5 L957.5,800.5 L955.5,800.5 L953.5,800.5 L951.5,800.5 L949.5,800.5 L947.5,800.5 L945.5,800.5 L943.5,800.5 L941.5,800.5 L939.5,800.5 L937.5,800.5 L935.5,800.5 L933.5,800.5 L931.5,800.4 L929.5,800.4 L927.5,800.4 L925.5,800.4 L923.5,800.4 L921.5,800.4 L919.5,800.4 L917.5,800.4 L915.5,800.4 L913.5,800.4 L911.5,800.4 L909.5,800.3 L907.5,800.3 L905.5,800.3 L903.5,800.3 L901.5,800.3 L899.5,800.3 L897.5,800.3 L895.5,800.3 L893.5,800.3 L891.5,800.3 L889.5,800.3 L887.5,800.3 L885.5,800.2 L883.5,800.2 L881.5,800.2 L879.5,800.2 L877.5,800.2 L875.5,800.2 L873.5,800.2 L871.5,800.2 L869.5,800.2 L867.5,800.2 L865.5,800.2 L863.5,800.2 L861.5,800.2 L859.5,800.2 L857.5,800.2 L855.5,800.2 L853.5,800.3 L851.5,800.3 L849.5,800.3 L847.5,800.3 L845.5,800.3 L843.5,800.3 L841.5,800.3 L839.5,800.3 L837.5,800.4 L835.5,800.4 L833.5,800.4 L831.5,800.4 L829.5,800.4 L827.5,800.5 L825.5,800.5 L823.5,800.5 L821.5,800.5 L819.5,800.5 L817.5,800.6 L815.5,800.6 L813.5,800.6 L811.5,800.7 L809.5,800.7 L807.5,800.7 L805.5,800.7 L803.5,800.8 L801.5,800.8 L799.5,800.8 L797.5,800.8 L795.5,800.9 L793.5,800.9 L791.5,800.9 L789.5,801 L787.5,801 L785.5,801 L783.5,801 L781.5,801.1 L779.5,801.1 L777.5,801.1 L775.5,801.2 L773.5,801.2 L771.5,801.2 L769.5,801.2 L767.5,801.3 L765.5,801.3 L763.5,801.3 L761.5,801.3 L759.5,801.3 L757.5,801.4 L755.5,801.4 L753.5,801.4 L751.5,801.4 L749.5,801.4 L747.5,801.4 L745.5,801.5 L743.5,801.5 L741.5,801.5 L739.5,801.5 L737.5,801.5 L735.5,801.5 L733.5,801.5 L731.5,801.5 L729.5,801.5 L727.5,801.5 L725.5,801.5 L723.5,801.5 L721.5,801.5 L719.5,801.5 L717.5,801.5 L715.5,801.5 L713.5,801.5 L711.5,801.4 L709.5,801.4 L707.5,801.4 L705.5,801.4 L703.5,801.3 L701.5,801.3 L699.5,801.3 L697.5,801.3 L695.5,801.2 L693.5,801.2 L691.5,801.1 L689.5,801.1 L687.5,801.1 L685.5,801 L683.5,801 L681.5,800.9 L679.5,800.8 L677.5,800.8 L675.5,800.7 L673.5,800.6 L671.5,800.6 L669.5,800.5 L667.5,800.4 L665.5,800.3 L663.5,800.2 L661.5,800.2 L659.5,800.1 L657.5,800 L655.5,799.9 L653.5,799.7 L651.5,799.6 L649.5,799.5 L647.5,799.4 L645.5,799.3 L643.5,799.1 L641.5,799 L639.5,798.9 L637.5,798.7 L635.5,798.6 L633.5,798.4 L631.5,798.3 L629.5,798.1 L627.5,797.9 L625.5,797.8 L623.5,797.6 L621.5,797.4 L619.5,797.2 L617.5,797 L615.5,796.8 L613.5,796.6 L611.5,796.4 L609.5,796.2 L607.5,796 L605.5,795.7 L603.5,795.5 L601.5,795.3 L599.5,795 L597.5,794.8 L595.5,794.5 L593.5,794.3 L591.5,794 L589.5,793.7 L587.5,793.4 L585.5,793.1 L583.5,792.8 L581.5,792.5 L579.5,792.2 L577.5,791.9 L575.5,791.6 L573.5,791.2 L571.5,790.9 L569.5,790.6 L567.5,790.2 L565.5,789.8 L563.5,789.5 L561.5,789.1 L559.5,788.7 L557.5,788.3 L555.5,787.9 L553.5,787.5 L551.5,787.1 L549.5,786.7 L547.5,786.3 L545.5,785.8 L543.5,785.4 L541.5,784.9 L539.5,784.4 L537.5,784 L535.5,783.5 L533.5,783 L531.5,782.5 L529.5,782 L527.5,781.4 L525.5,780.9 L523.5,780.3 L521.5,779.8 L519.5,779.2 L517.5,778.6 L515.5,778.1 L513.5,777.5 L511.5,776.8 L509.5,776.2 L507.5,775.6 L505.5,774.9 L503.5,774.3 L501.5,773.6 L499.5,772.9 L497.5,772.3 L495.5,771.5 L493.5,770.8 L491.5,770.1 L489.5,769.4 L487.5,768.7 L485.5,767.9 L483.5,767.2 L481.5,766.4 L479.5,765.7 L477.5,765 L475.5,764.2 L473.5,763.5 L471.5,762.7 L469.5,762 L467.5,761.3 L465.5,760.5 L463.5,759.8 L461.5,759.1 L459.5,758.4 L457.5,757.7 L455.5,757 L453.5,756.2 L451.5,755.5 L449.5,754.8 L447.5,754.1 L445.5,753.4 L443.5,752.7 L441.5,752 L439.5,751.3 L437.5,750.6 L435.5,749.9 L433.5,749.2 L431.5,748.4 L429.5,747.7 L427.5,747 L425.5,746.2 L423.5,745.5 L421.5,744.7 L419.5,744 L417.5,743.2 L415.5,742.5 L413.5,741.7 L411.5,741 L409.5,740.2 L407.5,739.5 L405.5,738.8 L403.5,738.1 L401.5,737.3 L399.5,736.6 L397.5,735.9 L395.5,735.2 L393.5,734.6 L391.5,733.9 L389.5,733.2 L387.5,732.6 L385.5,732 L383.5,731.4 L381.5,730.8 L379.5,730.2 L377.5,729.6 L375.5,729.1 L373.5,728.6 L371.5,728.1 L369.5,727.6 L367.5,727.2 L365.5,726.8 L363.5,726.4 L361.5,726 L359.5,725.7 L357.5,725.4 L355.5,725.1 L353.5,724.8 L351.5,724.6 L349.5,724.3 L347.5,724.1 L345.5,723.9 L343.5,723.8 L341.5,723.6 L339.5,723.5 L337.5,723.4 L335.5,723.3 L333.5,723.2 L331.5,723.2 L329.5,723.1 L327.5,723.1 L325.5,723 L323.5,723 L321.5,723 L319.5,723 L317.5,723 L315.5,723 L313.5,723 Z" fill="#78a773"/>
<path d="M313.5,709.9 L315.5,709.9 L317.5,709.9 L319.5,709.9 L321.5,710 L323.5,710 L325.5,710.1 L327.5,710.2 L329.5,710.2 L331.5,710.3 L333.5,710.5 L335.5,710.6 L337.5,710.8 L339.5,711 L341.5,711.2 L343.5,711.4 L345.5,711.6 L347.5,711.9 L349.5,712.2 L351.5,712.5 L353.5,712.8 L355.5,713.2 L357.5,713.5 L359.5,714 L361.5,714.4 L363.5,714.9 L365.5,715.4 L367.5,715.9 L369.5,716.4 L371.5,717 L373.5,717.6 L375.5,718.2 L377.5,718.9 L379.5,719.5 L381.5,720.2 L383.5,720.9 L385.5,721.6 L387.5,722.4 L389.5,723.1 L391.5,723.9 L393.5,724.7 L395.5,725.5 L397.5,726.3 L399.5,727.1 L401.5,727.9 L403.5,728.7 L405.5,729.5 L407.5,730.4 L409.5,731.2 L411.5,732.1 L413.5,732.9 L415.5,733.7 L417.5,734.6 L419.5,735.4 L421.5,736.3 L423.5,737.1 L425.5,738 L427.5,738.8 L429.5,739.6 L431.5,740.4 L433.5,741.2 L435.5,742 L437.5,742.8 L439.5,743.6 L441.5,744.4 L443.5,745.1 L445.5,745.9 L447.5,746.7 L449.5,747.4 L451.5,748.2 L453.5,748.9 L455.5,749.7 L457.5,750.4 L459.5,751.2 L461.5,751.9 L463.5,752.7 L465.5,753.5 L467.5,754.2 L469.5,755 L471.5,755.8 L473.5,756.5 L475.5,757.3 L477.5,758.1 L479.5,758.8 L481.5,759.6 L483.5,760.4 L485.5,761.1 L487.5,761.9 L489.5,762.6 L491.5,763.4 L493.5,764.1 L495.5,764.8 L497.5,765.6 L499.5,766.3 L501.5,767 L503.5,767.6 L505.5,768.3 L507.5,769 L509.5,769.6 L511.5,770.2 L513.5,770.8 L515.5,771.5 L517.5,772 L519.5,772.6 L521.5,773.2 L523.5,773.8 L525.5,774.3 L527.5,774.9 L529.5,775.4 L531.5,775.9 L533.5,776.4 L535.5,776.9 L537.5,777.4 L539.5,777.9 L541.5,778.4 L543.5,778.9 L545.5,779.3 L547.5,779.8 L549.5,780.2 L551.5,780.6 L553.5,781.1 L555.5,781.5 L557.5,781.9 L559.5,782.3 L561.5,782.7 L563.5,783.1 L565.5,783.5 L567.5,783.9 L569.5,784.2 L571.5,784.6 L573.5,785 L575.5,785.3 L577.5,785.7 L579.5,786 L581.5,786.3 L583.5,786.7 L585.5,787 L587.5,787.3 L589.5,787.6 L591.5,787.9 L593.5,788.3 L595.5,788.6 L597.5,788.8 L599.5,789.1 L601.5,789.4 L603.5,789.7 L605.5,790 L607.5,790.2 L609.5,790.5 L611.5,790.7 L613.5,791 L615.5,791.2 L617.5,791.5 L619.5,791.7 L621.5,792 L623.5,792.2 L625.5,792.4 L627.5,792.6 L629.5,792.8 L631.5,793 L633.5,793.2 L635.5,793.4 L637.5,793.6 L639.5,793.8 L641.5,794 L643.5,794.2 L645.5,794.4 L647.5,794.5 L649.5,794.7 L651.5,794.9 L653.5,795 L655.5,795.2 L657.5,795.3 L659.5,795.5 L661.5,795.6 L663.5,795.7 L665.5,795.9 L667.5,796 L669.5,796.1 L671.5,796.3 L673.5,796.4 L675.5,796.5 L677.5,796.6 L679.5,796.7 L681.5,796.8 L683.5,796.9 L685.5,797 L687.5,797.1 L689.5,797.2 L691.5,797.3 L693.5,797.3 L695.5,797.4 L697.5,797.5 L699.5,797.5 L701.5,797.6 L703.5,797.7 L705.5,797.7 L707.5,797.8 L709.5,797.8 L711.5,797.9 L713.5,797.9 L715.5,798 L717.5,798 L719.5,798.1 L721.5,798.1 L723.5,798.1 L725.5,798.2 L727.5,798.2 L729.5,798.2 L731.5,798.2 L733.5,798.2 L735.5,798.3 L737.5,798.3 L739.5,798.3 L741.5,798.3 L743.5,798.3 L745.5,798.3 L747.5,798.3 L749.5,798.3 L751.5,798.3 L753.5,798.3 L755.5,798.3 L757.5,798.3 L759.5,798.3 L761.5,798.3 L763.5,798.3 L765.5,798.3 L767.5,798.3 L769.5,798.2 L771.5,798.2 L773.5,798.2 L775.5,798.2 L777.5,798.2 L779.5,798.2 L781.5,798.1 L783.5,798.1 L785.5,798.1 L787.5,798.1 L789.5,798 L791.5,798 L793.5,798 L795.5,798 L797.5,797.9 L799.5,797.9 L801.5,797.9 L803.5,797.9 L805.5,797.8 L807.5,797.8 L809.5,797.8 L811.5,797.8 L813.5,797.7 L815.5,797.7 L817.5,797.7 L819.5,797.7 L821.5,797.6 L823.5,797.6 L825.5,797.6 L827.5,797.6 L829.5,797.5 L831.5,797.5 L833.5,797.5 L835.5,797.5 L837.5,797.5 L839.5,797.4 L841.5,797.4 L843.5,797.4 L845.5,797.4 L847.5,797.4 L849.5,797.4 L851.5,797.4 L853.5,797.3 L855.5,797.3 L857.5,797.3 L859.5,797.3 L861.5,797.3 L863.5,797.3 L865.5,797.3 L867.5,797.3 L869.5,797.3 L871.5,797.3 L873.5,797.3 L875.5,797.3 L877.5,797.3 L879.5,797.3 L881.5,797.3 L883.5,797.3 L885.5,797.3 L887.5,797.3 L889.5,797.3 L891.5,797.3 L893.5,797.3 L895.5,797.3 L897.5,797.3 L899.5,797.3 L901.5,797.3 L903.5,797.3 L905.5,797.4 L907.5,797.4 L909.5,797.4 L911.5,797.4 L913.5,797.4 L915.5,797.4 L917.5,797.4 L919.5,797.4 L921.5,797.4 L923.5,797.4 L925.5,797.4 L927.5,797.4 L929.5,797.4 L931.5,797.4 L933.5,797.5 L935.5,797.5 L937.5,797.5 L939.5,797.5 L941.5,797.5 L943.5,797.5 L945.5,797.5 L947.5,797.5 L949.5,797.5 L951.5,797.5 L953.5,797.5 L955.5,797.5 L957.5,797.5 L959.5,797.5 L961.5,797.5 L963.5,797.5 L965.5,797.5 L967.5,797.5 L969.5,797.5 L971.5,797.5 L973.5,797.5 L975.5,797.5 L977.5,797.5 L979.5,797.5 L981.5,797.4 L983.5,797.4 L985.5,797.4 L987.5,797.4 L989.5,797.4 L991.5,797.4 L993.5,797.4 L995.5,797.3 L997.5,797.3 L999.5,797.3 L1001.5,797.3 L1003.5,797.3 L1005.5,797.2 L1007.5,797.2 L1009.5,797.2 L1011.5,797.2 L1013.5,797.2 L1015.5,797.1 L1017.5,797.1 L1019.5,797.1 L1021.5,797.1 L1023.5,797 L1025.5,797 L1027.5,797 L1029.5,797 L1031.5,796.9 L1033.5,796.9 L1035.5,796.9 L1037.5,796.9 L1039.5,796.8 L1041.5,796.8 L1043.5,796.8 L1045.5,796.8 L1047.5,796.7 L1049.5,796.7 L1051.5,796.7 L1053.5,796.7 L1055.5,796.7 L1057.5,796.6 L1059.5,796.6 L1061.5,796.6 L1063.5,796.6 L1065.5,796.6 L1067.5,796.6 L1069.5,796.5 L1071.5,796.5 L1073.5,796.5 L1075.5,796.5 L1077.5,796.5 L1079.5,796.5 L1081.5,796.5 L1083.5,796.5 L1085.5,796.5 L1087.5,796.5 L1089.5,796.5 L1091.5,796.5 L1093.5,796.5 L1095.5,796.5 L1097.5,796.5 L1099.5,796.5 L1101.5,796.5 L1103.5,796.5 L1105.5,796.5 L1107.5,796.5 L1109.5,796.5 L1111.5,796.6 L1113.5,796.6 L1115.5,796.6 L1117.5,796.6 L1119.5,796.7 L1121.5,796.7 L1123.5,796.7 L1125.5,796.8 L1127.5,796.8 L1129.5,796.8 L1131.5,796.9 L1133.5,796.9 L1135.5,796.9 L1137.5,797 L1139.5,797 L1141.5,797 L1143.5,797.1 L1145.5,797.1 L1147.5,797.1 L1149.5,797.2 L1151.5,797.2 L1153.5,797.2 L1155.5,797.2 L1157.5,797.2 L1159.5,797.2 L1161.5,797.2 L1163.5,797.2 L1165.5,797.2 L1167.5,797.2 L1169.5,797.2 L1171.5,797.1 L1173.5,797.1 L1175.5,797 L1177.5,797 L1179.5,796.9 L1181.5,796.8 L1183.5,796.8 L1185.5,796.7 L1187.5,796.6 L1189.5,796.4 L1191.5,796.3 L1193.5,796.2 L1195.5,796 L1197.5,795.9 L1199.5,795.7 L1201.5,795.5 L1203.5,795.2 L1205.5,795 L1207.5,794.7 L1209.5,794.4 L1211.5,794.1 L1213.5,793.7 L1215.5,793.3 L1217.5,792.8 L1219.5,792.3 L1221.5,791.8 L1223.5,791.2 L1225.5,790.6 L1227.5,789.9 L1229.5,789.2 L1231.5,788.5 L1233.5,787.6 L1235.5,786.8 L1237.5,785.9 L1239.5,785 L1241.5,784 L1243.5,783 L1245.5,781.9 L1247.5,780.8 L1249.5,779.7 L1251.5,778.5 L1253.5,777.3 L1255.5,776 L1257.5,774.7 L1259.5,773.4 L1261.5,772.1 L1263.5,770.7 L1265.5,769.3 L1267.5,767.8 L1269.5,766.4 L1271.5,764.9 L1273.5,763.4 L1275.5,761.9 L1277.5,760.3 L1279.5,758.8 L1281.5,757.2 L1283.5,755.6 L1285.5,754 L1287.5,752.4 L1289.5,750.8 L1291.5,749.2 L1293.5,747.6 L1295.5,746 L1297.5,744.4 L1299.5,742.8 L1301.5,741.2 L1303.5,739.7 L1305.5,738.1 L1307.5,736.6 L1309.5,735.1 L1311.5,733.6 L1313.5,732.2 L1315.5,730.7 L1317.5,729.4 L1319.5,728 L1321.5,726.7 L1323.5,725.5 L1325.5,724.3 L1327.5,723.1 L1329.5,722 L1331.5,721 L1333.5,720 L1335.5,719.1 L1337.5,718.2 L1339.5,717.4 L1341.5,716.6 L1343.5,715.9 L1345.5,715.2 L1347.5,714.5 L1349.5,714 L1351.5,713.4 L1353.5,712.9 L1355.5,712.4 L1357.5,712 L1359.5,711.6 L1361.5,711.3 L1363.5,711 L1365.5,710.7 L1367.5,710.5 L1369.5,710.3 L1371.5,710.2 L1373.5,710 L1375.5,709.9 L1375.7,709.9" fill="none" stroke="#2d4c29" stroke-width="8.2" stroke-linejoin="round"/>
<path d="M313.5,912.3 L315.5,912.3 L317.5,912.2 L319.5,912.1 L321.5,912.1 L323.5,912 L325.5,911.9 L327.5,911.9 L329.5,911.8 L331.5,911.7 L333.5,911.6 L335.5,911.6 L337.5,911.5 L339.5,911.4 L341.5,911.3 L343.5,911.3 L345.5,911.2 L347.5,911.1 L349.5,911 L351.5,910.9 L353.5,910.8 L355.5,910.8 L357.5,910.7 L359.5,910.6 L361.5,910.5 L363.5,910.4 L365.5,910.3 L367.5,910.2 L369.5,910.1 L371.5,910 L373.5,909.9 L375.5,909.8 L377.5,909.7 L379.5,909.7 L381.5,909.6 L383.5,909.4 L385.5,909.3 L387.5,909.2 L389.5,909.1 L391.5,909 L393.5,908.9 L395.5,908.8 L397.5,908.7 L399.5,908.6 L401.5,908.5 L403.5,908.4 L405.5,908.3 L407.5,908.1 L409.5,908 L411.5,907.9 L413.5,907.8 L415.5,907.7 L417.5,907.5 L419.5,907.4 L421.5,907.3 L423.5,907.2 L425.5,907 L427.5,906.9 L429.5,906.8 L431.5,906.6 L433.5,906.5 L435.5,906.4 L437.5,906.2 L439.5,906.1 L441.5,906 L443.5,905.8 L445.5,905.7 L447.5,905.5 L449.5,905.4 L451.5,905.3 L453.5,905.1 L455.5,905 L457.5,904.8 L459.5,904.7 L461.5,904.5 L463.5,904.4 L465.5,904.2 L467.5,904.1 L469.5,903.9 L471.5,903.8 L473.5,903.6 L475.5,903.4 L477.5,903.3 L479.5,903.1 L481.5,903 L483.5,902.8 L485.5,902.6 L487.5,902.5 L489.5,902.3 L491.5,902.2 L493.5,902 L495.5,901.8 L497.5,901.7 L499.5,901.5 L501.5,901.3 L503.5,901.2 L505.5,901 L507.5,900.8 L509.5,900.6 L511.5,900.5 L513.5,900.3 L515.5,900.1 L517.5,900 L519.5,899.8 L521.5,899.6 L523.5,899.4 L525.5,899.3 L527.5,899.1 L529.5,898.9 L531.5,898.7 L533.5,898.6 L535.5,898.4 L537.5,898.2 L539.5,898 L541.5,897.8 L543.5,897.7 L545.5,897.5 L547.5,897.3 L549.5,897.1 L551.5,897 L553.5,896.8 L555.5,896.6 L557.5,896.4 L559.5,896.2 L561.5,896.1 L563.5,895.9 L565.5,895.7 L567.5,895.5 L569.5,895.3 L571.5,895.1 L573.5,895 L575.5,894.8 L577.5,894.6 L579.5,894.4 L581.5,894.2 L583.5,894 L585.5,893.8 L587.5,893.6 L589.5,893.4 L591.5,893.2 L593.5,893 L595.5,892.8 L597.5,892.6 L599.5,892.3 L601.5,892.1 L603.5,891.9 L605.5,891.6 L607.5,891.4 L609.5,891.1 L611.5,890.8 L613.5,890.5 L615.5,890.2 L617.5,889.9 L619.5,889.6 L621.5,889.3 L623.5,888.9 L625.5,888.6 L627.5,888.2 L629.5,887.8 L631.5,887.5 L633.5,887.1 L635.5,886.6 L637.5,886.2 L639.5,885.8 L641.5,885.3 L643.5,884.8 L645.5,884.3 L647.5,883.8 L649.5,883.3 L651.5,882.7 L653.5,882.2 L655.5,881.6 L657.5,881 L659.5,880.5 L661.5,879.8 L663.5,879.2 L665.5,878.6 L667.5,877.9 L669.5,877.3 L671.5,876.6 L673.5,875.9 L675.5,875.2 L677.5,874.5 L679.5,873.7 L681.5,873 L683.5,872.2 L685.5,871.5 L687.5,870.7 L689.5,869.9 L691.5,869.1 L693.5,868.3 L695.5,867.4 L697.5,866.6 L699.5,865.7 L701.5,864.9 L703.5,864 L705.5,863.1 L707.5,862.2 L709.5,861.3 L711.5,860.4 L713.5,859.5 L715.5,858.5 L717.5,857.6 L719.5,856.6 L721.5,855.7 L723.5,854.7 L725.5,853.7 L727.5,852.7 L729.5,851.7 L731.5,850.8 L733.5,849.8 L735.5,848.8 L737.5,847.8 L739.5,846.8 L741.5,845.8 L743.5,844.8 L745.5,843.7 L747.5,842.7 L749.5,841.7 L751.5,840.7 L753.5,839.7 L755.5,838.7 L757.5,837.7 L759.5,836.7 L761.5,835.8 L763.5,834.8 L765.5,833.8 L767.5,832.8 L769.5,831.9 L771.5,830.9 L773.5,830 L775.5,829 L777.5,828.1 L779.5,827.2 L781.5,826.3 L783.5,825.4 L785.5,824.5 L787.5,823.6 L789.5,822.7 L791.5,821.9 L793.5,821.1 L795.5,820.3 L797.5,819.5 L799.5,818.8 L801.5,818 L803.5,817.3 L805.5,816.6 L807.5,816 L809.5,815.3 L811.5,814.7 L813.5,814.2 L815.5,813.6 L817.5,813.1 L819.5,812.7 L821.5,812.2 L823.5,811.8 L825.5,811.5 L827.5,811.2 L829.5,810.9 L831.5,810.6 L833.5,810.4 L835.5,810.3 L837.5,810.2 L839.5,810.1 L841.5,810.1 L843.5,810.1 L845.5,810.2 L847.5,810.4 L849.5,810.6 L851.5,810.8 L853.5,811.1 L855.5,811.4 L857.5,811.8 L859.5,812.2 L861.5,812.6 L863.5,813.1 L865.5,813.6 L867.5,814.2 L869.5,814.8 L871.5,815.4 L873.5,816.1 L875.5,816.8 L877.5,817.5 L879.5,818.2 L881.5,819 L883.5,819.8 L885.5,820.6 L887.5,821.5 L889.5,822.3 L891.5,823.2 L893.5,824.1 L895.5,825.1 L897.5,826.1 L899.5,827.1 L901.5,828.1 L903.5,829.2 L905.5,830.2 L907.5,831.3 L909.5,832.5 L911.5,833.6 L913.5,834.7 L915.5,835.8 L917.5,836.9 L919.5,838.1 L921.5,839.2 L923.5,840.3 L925.5,841.4 L927.5,842.6 L929.5,843.7 L931.5,844.8 L933.5,845.9 L935.5,847 L937.5,848.1 L939.5,849.2 L941.5,850.3 L943.5,851.4 L945.5,852.5 L947.5,853.6 L949.5,854.7 L951.5,855.8 L953.5,856.9 L955.5,857.9 L957.5,859 L959.5,860.1 L961.5,861.1 L963.5,862.2 L965.5,863.2 L967.5,864.2 L969.5,865.3 L971.5,866.3 L973.5,867.3 L975.5,868.3 L977.5,869.3 L979.5,870.3 L981.5,871.3 L983.5,872.2 L985.5,873.2 L987.5,874.2 L989.5,875.1 L991.5,876 L993.5,877 L995.5,877.9 L997.5,878.8 L999.5,879.7 L1001.5,880.6 L1003.5,881.4 L1005.5,882.3 L1007.5,883.2 L1009.5,884 L1011.5,884.8 L1013.5,885.7 L1015.5,886.5 L1017.5,887.3 L1019.5,888.1 L1021.5,888.9 L1023.5,889.6 L1025.5,890.4 L1027.5,891.1 L1029.5,891.8 L1031.5,892.6 L1033.5,893.3 L1035.5,894 L1037.5,894.6 L1039.5,895.3 L1041.5,896 L1043.5,896.6 L1045.5,897.2 L1047.5,897.9 L1049.5,898.5 L1051.5,899 L1053.5,899.6 L1055.5,900.2 L1057.5,900.7 L1059.5,901.3 L1061.5,901.8 L1063.5,902.3 L1065.5,902.8 L1067.5,903.3 L1069.5,903.7 L1071.5,904.2 L1073.5,904.7 L1075.5,905.1 L1077.5,905.5 L1079.5,905.9 L1081.5,906.3 L1083.5,906.7 L1085.5,907.1 L1087.5,907.5 L1089.5,907.8 L1091.5,908.2 L1093.5,908.5 L1095.5,908.9 L1097.5,909.2 L1099.5,909.5 L1101.5,909.8 L1103.5,910.1 L1105.5,910.4 L1107.5,910.6 L1109.5,910.9 L1111.5,911.2 L1113.5,911.4 L1115.5,911.7 L1117.5,911.9 L1119.5,912.2 L1121.5,912.4 L1123.5,912.6 L1125.5,912.8 L1127.5,913 L1129.5,913.2 L1131.5,913.4 L1133.5,913.6 L1135.5,913.8 L1137.5,914 L1139.5,914.1 L1141.5,914.3 L1143.5,914.5 L1145.5,914.6 L1147.5,914.8 L1149.5,914.9 L1151.5,915 L1153.5,915.2 L1155.5,915.3 L1157.5,915.4 L1159.5,915.5 L1161.5,915.6 L1163.5,915.7 L1165.5,915.8 L1167.5,915.9 L1169.5,916 L1171.5,916.1 L1173.5,916.2 L1175.5,916.2 L1177.5,916.3 L1179.5,916.4 L1181.5,916.4 L1183.5,916.5 L1185.5,916.5 L1187.5,916.6 L1189.5,916.6 L1191.5,916.7 L1193.5,916.7 L1195.5,916.7 L1197.5,916.8 L1199.5,916.8 L1201.5,916.8 L1203.5,916.8 L1205.5,916.8 L1207.5,916.8 L1209.5,916.8 L1211.5,916.8 L1213.5,916.8 L1215.5,916.8 L1217.5,916.8 L1219.5,916.8 L1221.5,916.8 L1223.5,916.8 L1225.5,916.7 L1227.5,916.7 L1229.5,916.7 L1231.5,916.7 L1233.5,916.6 L1235.5,916.6 L1237.5,916.5 L1239.5,916.5 L1241.5,916.4 L1243.5,916.4 L1245.5,916.4 L1247.5,916.3 L1249.5,916.2 L1251.5,916.2 L1253.5,916.1 L1255.5,916.1 L1257.5,916 L1259.5,915.9 L1261.5,915.9 L1263.5,915.8 L1265.5,915.7 L1267.5,915.7 L1269.5,915.6 L1271.5,915.5 L1273.5,915.4 L1275.5,915.4 L1277.5,915.3 L1279.5,915.2 L1281.5,915.1 L1283.5,915 L1285.5,915 L1287.5,914.9 L1289.5,914.8 L1291.5,914.7 L1293.5,914.6 L1295.5,914.5 L1297.5,914.4 L1299.5,914.4 L1301.5,914.3 L1303.5,914.2 L1305.5,914.1 L1307.5,914 L1309.5,913.9 L1311.5,913.8 L1313.5,913.7 L1315.5,913.6 L1317.5,913.5 L1319.5,913.5 L1321.5,913.4 L1323.5,913.3 L1325.5,913.2 L1327.5,913.1 L1329.5,913 L1331.5,912.9 L1333.5,912.8 L1335.5,912.8 L1337.5,912.7 L1339.5,912.6 L1341.5,912.5 L1343.5,912.4 L1345.5,912.3 L1347.5,912.3 L1349.5,912.2 L1351.5,912.1 L1353.5,912 L1355.5,912 L1357.5,911.9 L1359.5,911.8 L1361.5,911.7 L1363.5,911.7 L1365.5,911.6 L1367.5,911.5 L1369.5,911.5 L1371.5,911.4 L1373.5,911.4 L1375.5,911.3 L1375.7,911.3 L1375.7,917.1 L1375.5,917.1 L1373.5,917.2 L1371.5,917.3 L1369.5,917.4 L1367.5,917.5 L1365.5,917.6 L1363.5,917.7 L1361.5,917.8 L1359.5,917.9 L1357.5,918 L1355.5,918.1 L1353.5,918.2 L1351.5,918.3 L1349.5,918.4 L1347.5,918.5 L1345.5,918.6 L1343.5,918.7 L1341.5,918.8 L1339.5,918.9 L1337.5,919 L1335.5,919.1 L1333.5,919.2 L1331.5,919.3 L1329.5,919.4 L1327.5,919.5 L1325.5,919.6 L1323.5,919.7 L1321.5,919.8 L1319.5,919.9 L1317.5,920 L1315.5,920.1 L1313.5,920.2 L1311.5,920.3 L1309.5,920.3 L1307.5,920.4 L1305.5,920.5 L1303.5,920.6 L1301.5,920.7 L1299.5,920.8 L1297.5,920.8 L1295.5,920.9 L1293.5,921 L1291.5,921.1 L1289.5,921.2 L1287.5,921.2 L1285.5,921.3 L1283.5,921.4 L1281.5,921.4 L1279.5,921.5 L1277.5,921.6 L1275.5,921.6 L1273.5,921.7 L1271.5,921.7 L1269.5,921.8 L1267.5,921.9 L1265.5,921.9 L1263.5,922 L1261.5,922 L1259.5,922 L1257.5,922.1 L1255.5,922.1 L1253.5,922.2 L1251.5,922.2 L1249.5,922.2 L1247.5,922.3 L1245.5,922.3 L1243.5,922.3 L1241.5,922.4 L1239.5,922.4 L1237.5,922.4 L1235.5,922.4 L1233.5,922.4 L1231.5,922.5 L1229.5,922.5 L1227.5,922.5 L1225.5,922.5 L1223.5,922.5 L1221.5,922.5 L1219.5,922.5 L1217.5,922.5 L1215.5,922.5 L1213.5,922.5 L1211.5,922.4 L1209.5,922.4 L1207.5,922.4 L1205.5,922.4 L1203.5,922.4 L1201.5,922.3 L1199.5,922.3 L1197.5,922.2 L1195.5,922.2 L1193.5,922.2 L1191.5,922.1 L1189.5,922.1 L1187.5,922 L1185.5,922 L1183.5,921.9 L1181.5,921.8 L1179.5,921.8 L1177.5,921.7 L1175.5,921.6 L1173.5,921.5 L1171.5,921.5 L1169.5,921.4 L1167.5,921.3 L1165.5,921.2 L1163.5,921.1 L1161.5,921 L1159.5,920.9 L1157.5,920.8 L1155.5,920.7 L1153.5,920.6 L1151.5,920.4 L1149.5,920.3 L1147.5,920.2 L1145.5,920 L1143.5,919.9 L1141.5,919.8 L1139.5,919.6 L1137.5,919.5 L1135.5,919.3 L1133.5,919.1 L1131.5,919 L1129.5,918.8 L1127.5,918.6 L1125.5,918.5 L1123.5,918.3 L1121.5,918.1 L1119.5,917.9 L1117.5,917.7 L1115.5,917.5 L1113.5,917.3 L1111.5,917.1 L1109.5,916.9 L1107.5,916.6 L1105.5,916.4 L1103.5,916.2 L1101.5,915.9 L1099.5,915.7 L1097.5,915.4 L1095.5,915.2 L1093.5,914.9 L1091.5,914.6 L1089.5,914.3 L1087.5,914 L1085.5,913.7 L1083.5,913.4 L1081.5,913.1 L1079.5,912.8 L1077.5,912.5 L1075.5,912.1 L1073.5,911.8 L1071.5,911.4 L1069.5,911.1 L1067.5,910.7 L1065.5,910.3 L1063.5,909.9 L1061.5,909.5 L1059.5,909.1 L1057.5,908.6 L1055.5,908.2 L1053.5,907.7 L1051.5,907.3 L1049.5,906.8 L1047.5,906.3 L1045.5,905.8 L1043.5,905.3 L1041.5,904.8 L1039.5,904.3 L1037.5,903.8 L1035.5,903.2 L1033.5,902.7 L1031.5,902.1 L1029.5,901.5 L1027.5,901 L1025.5,900.4 L1023.5,899.8 L1021.5,899.2 L1019.5,898.6 L1017.5,897.9 L1015.5,897.3 L1013.5,896.7 L1011.5,896 L1009.5,895.4 L1007.5,894.7 L1005.5,894 L1003.5,893.4 L1001.5,892.7 L999.5,892 L997.5,891.3 L995.5,890.6 L993.5,889.9 L991.5,889.2 L989.5,888.5 L987.5,887.7 L985.5,887 L983.5,886.3 L981.5,885.5 L979.5,884.8 L977.5,884 L975.5,883.3 L973.5,882.5 L971.5,881.8 L969.5,881 L967.5,880.3 L965.5,879.5 L963.5,878.8 L961.5,878 L959.5,877.3 L957.5,876.5 L955.5,875.8 L953.5,875.1 L951.5,874.3 L949.5,873.6 L947.5,872.9 L945.5,872.2 L943.5,871.5 L941.5,870.8 L939.5,870.2 L937.5,869.5 L935.5,868.8 L933.5,868.1 L931.5,867.5 L929.5,866.8 L927.5,866.1 L925.5,865.5 L923.5,864.8 L921.5,864.1 L919.5,863.4 L917.5,862.6 L915.5,861.9 L913.5,861.1 L911.5,860.3 L909.5,859.5 L907.5,858.7 L905.5,857.8 L903.5,857 L901.5,856.1 L899.5,855.3 L897.5,854.5 L895.5,853.7 L893.5,852.9 L891.5,852.1 L889.5,851.3 L887.5,850.5 L885.5,849.7 L883.5,849 L881.5,848.2 L879.5,847.5 L877.5,846.8 L875.5,846 L873.5,845.4 L871.5,844.7 L869.5,844 L867.5,843.4 L865.5,842.8 L863.5,842.2 L861.5,841.6 L859.5,841.1 L857.5,840.6 L855.5,840.1 L853.5,839.7 L851.5,839.3 L849.5,838.9 L847.5,838.6 L845.5,838.4 L843.5,838.1 L841.5,838 L839.5,837.8 L837.5,837.8 L835.5,837.7 L833.5,837.7 L831.5,837.8 L829.5,837.8 L827.5,838 L825.5,838.1 L823.5,838.3 L821.5,838.5 L819.5,838.8 L817.5,839.1 L815.5,839.4 L813.5,839.8 L811.5,840.2 L809.5,840.6 L807.5,841 L805.5,841.5 L803.5,842 L801.5,842.5 L799.5,843 L797.5,843.6 L795.5,844.2 L793.5,844.8 L791.5,845.4 L789.5,846 L787.5,846.7 L785.5,847.3 L783.5,848 L781.5,848.7 L779.5,849.4 L777.5,850.1 L775.5,850.8 L773.5,851.5 L771.5,852.3 L769.5,853 L767.5,853.8 L765.5,854.5 L763.5,855.3 L761.5,856 L759.5,856.8 L757.5,857.6 L755.5,858.3 L753.5,859.1 L751.5,859.9 L749.5,860.7 L747.5,861.5 L745.5,862.3 L743.5,863 L741.5,863.8 L739.5,864.6 L737.5,865.4 L735.5,866.2 L733.5,867 L731.5,867.8 L729.5,868.5 L727.5,869.3 L725.5,870.1 L723.5,870.8 L721.5,871.6 L719.5,872.4 L717.5,873.1 L715.5,873.9 L713.5,874.6 L711.5,875.3 L709.5,876 L707.5,876.8 L705.5,877.5 L703.5,878.2 L701.5,878.8 L699.5,879.5 L697.5,880.2 L695.5,880.8 L693.5,881.5 L691.5,882.1 L689.5,882.8 L687.5,883.4 L685.5,884 L683.5,884.6 L681.5,885.2 L679.5,885.8 L677.5,886.3 L675.5,886.9 L673.5,887.4 L671.5,888 L669.5,888.5 L667.5,889 L665.5,889.5 L663.5,890 L661.5,890.5 L659.5,890.9 L657.5,891.4 L655.5,891.8 L653.5,892.2 L651.5,892.7 L649.5,893.1 L647.5,893.4 L645.5,893.8 L643.5,894.2 L641.5,894.5 L639.5,894.9 L637.5,895.2 L635.5,895.5 L633.5,895.8 L631.5,896.1 L629.5,896.4 L627.5,896.7 L625.5,896.9 L623.5,897.2 L621.5,897.4 L619.5,897.6 L617.5,897.8 L615.5,898 L613.5,898.2 L611.5,898.4 L609.5,898.6 L607.5,898.8 L605.5,899 L603.5,899.1 L601.5,899.3 L599.5,899.5 L597.5,899.6 L595.5,899.7 L593.5,899.9 L591.5,900 L589.5,900.2 L587.5,900.3 L585.5,900.4 L583.5,900.6 L581.5,900.7 L579.5,900.8 L577.5,900.9 L575.5,901.1 L573.5,901.2 L571.5,901.3 L569.5,901.5 L567.5,901.6 L565.5,901.7 L563.5,901.9 L561.5,902 L559.5,902.2 L557.5,902.3 L555.5,902.4 L553.5,902.6 L551.5,902.7 L549.5,902.9 L547.5,903 L545.5,903.2 L543.5,903.3 L541.5,903.5 L539.5,903.7 L537.5,903.8 L535.5,904 L533.5,904.1 L531.5,904.3 L529.5,904.5 L527.5,904.6 L525.5,904.8 L523.5,905 L521.5,905.1 L519.5,905.3 L517.5,905.5 L515.5,905.6 L513.5,905.8 L511.5,906 L509.5,906.1 L507.5,906.3 L505.5,906.5 L503.5,906.7 L501.5,906.8 L499.5,907 L497.5,907.2 L495.5,907.4 L493.5,907.5 L491.5,907.7 L489.5,907.9 L487.5,908.1 L485.5,908.2 L483.5,908.4 L481.5,908.6 L479.5,908.7 L477.5,908.9 L475.5,909.1 L473.5,909.3 L471.5,909.4 L469.5,909.6 L467.5,909.8 L465.5,909.9 L463.5,910.1 L461.5,910.3 L459.5,910.5 L457.5,910.6 L455.5,910.8 L453.5,911 L451.5,911.1 L449.5,911.3 L447.5,911.5 L445.5,911.6 L443.5,911.8 L441.5,911.9 L439.5,912.1 L437.5,912.2 L435.5,912.4 L433.5,912.6 L431.5,912.7 L429.5,912.9 L427.5,913 L425.5,913.2 L423.5,913.3 L421.5,913.5 L419.5,913.6 L417.5,913.7 L415.5,913.9 L413.5,914 L411.5,914.2 L409.5,914.3 L407.5,914.4 L405.5,914.6 L403.5,914.7 L401.5,914.8 L399.5,914.9 L397.5,915.1 L395.5,915.2 L393.5,915.3 L391.5,915.4 L389.5,915.5 L387.5,915.6 L385.5,915.8 L383.5,915.9 L381.5,916 L379.5,916.1 L377.5,916.2 L375.5,916.3 L373.5,916.4 L371.5,916.5 L369.5,916.6 L367.5,916.7 L365.5,916.7 L363.5,916.8 L361.5,916.9 L359.5,917 L357.5,917.1 L355.5,917.2 L353.5,917.2 L351.5,917.3 L349.5,917.4 L347.5,917.4 L345.5,917.5 L343.5,917.6 L341.5,917.6 L339.5,917.7 L337.5,917.7 L335.5,917.8 L333.5,917.8 L331.5,917.9 L329.5,917.9 L327.5,917.9 L325.5,918 L323.5,918 L321.5,918 L319.5,918.1 L317.5,918.1 L315.5,918.1 L313.5,918.1 Z" fill="#78a773"/>
<path d="M313.5,915.2 L315.5,915.2 L317.5,915.1 L319.5,915.1 L321.5,915.1 L323.5,915 L325.5,915 L327.5,914.9 L329.5,914.9 L331.5,914.8 L333.5,914.7 L335.5,914.7 L337.5,914.6 L339.5,914.6 L341.5,914.5 L343.5,914.4 L345.5,914.4 L347.5,914.3 L349.5,914.2 L351.5,914.1 L353.5,914.1 L355.5,914 L357.5,913.9 L359.5,913.8 L361.5,913.7 L363.5,913.6 L365.5,913.6 L367.5,913.5 L369.5,913.4 L371.5,913.3 L373.5,913.2 L375.5,913.1 L377.5,913 L379.5,912.9 L381.5,912.8 L383.5,912.7 L385.5,912.6 L387.5,912.5 L389.5,912.4 L391.5,912.2 L393.5,912.1 L395.5,912 L397.5,911.9 L399.5,911.8 L401.5,911.7 L403.5,911.5 L405.5,911.4 L407.5,911.3 L409.5,911.2 L411.5,911 L413.5,910.9 L415.5,910.8 L417.5,910.6 L419.5,910.5 L421.5,910.4 L423.5,910.2 L425.5,910.1 L427.5,910 L429.5,909.8 L431.5,909.7 L433.5,909.5 L435.5,909.4 L437.5,909.2 L439.5,909.1 L441.5,908.9 L443.5,908.8 L445.5,908.6 L447.5,908.5 L449.5,908.3 L451.5,908.2 L453.5,908 L455.5,907.9 L457.5,907.7 L459.5,907.5 L461.5,907.4 L463.5,907.2 L465.5,907 L467.5,906.9 L469.5,906.7 L471.5,906.6 L473.5,906.4 L475.5,906.2 L477.5,906.1 L479.5,905.9 L481.5,905.7 L483.5,905.6 L485.5,905.4 L487.5,905.2 L489.5,905 L491.5,904.9 L493.5,904.7 L495.5,904.5 L497.5,904.4 L499.5,904.2 L501.5,904 L503.5,903.8 L505.5,903.7 L507.5,903.5 L509.5,903.3 L511.5,903.2 L513.5,903 L515.5,902.8 L517.5,902.6 L519.5,902.5 L521.5,902.3 L523.5,902.1 L525.5,902 L527.5,901.8 L529.5,901.6 L531.5,901.5 L533.5,901.3 L535.5,901.1 L537.5,900.9 L539.5,900.8 L541.5,900.6 L543.5,900.4 L545.5,900.3 L547.5,900.1 L549.5,899.9 L551.5,899.8 L553.5,899.6 L555.5,899.5 L557.5,899.3 L559.5,899.1 L561.5,899 L563.5,898.8 L565.5,898.7 L567.5,898.5 L569.5,898.3 L571.5,898.2 L573.5,898 L575.5,897.9 L577.5,897.7 L579.5,897.6 L581.5,897.4 L583.5,897.3 L585.5,897.1 L587.5,896.9 L589.5,896.8 L591.5,896.6 L593.5,896.4 L595.5,896.2 L597.5,896.1 L599.5,895.9 L601.5,895.7 L603.5,895.5 L605.5,895.3 L607.5,895.1 L609.5,894.9 L611.5,894.6 L613.5,894.4 L615.5,894.1 L617.5,893.9 L619.5,893.6 L621.5,893.4 L623.5,893.1 L625.5,892.8 L627.5,892.5 L629.5,892.2 L631.5,891.8 L633.5,891.5 L635.5,891.1 L637.5,890.8 L639.5,890.4 L641.5,890 L643.5,889.6 L645.5,889.2 L647.5,888.7 L649.5,888.3 L651.5,887.8 L653.5,887.4 L655.5,886.9 L657.5,886.4 L659.5,885.8 L661.5,885.3 L663.5,884.8 L665.5,884.2 L667.5,883.7 L669.5,883.1 L671.5,882.5 L673.5,881.9 L675.5,881.3 L677.5,880.7 L679.5,880 L681.5,879.4 L683.5,878.7 L685.5,878 L687.5,877.4 L689.5,876.7 L691.5,876 L693.5,875.2 L695.5,874.5 L697.5,873.8 L699.5,873 L701.5,872.3 L703.5,871.5 L705.5,870.7 L707.5,870 L709.5,869.2 L711.5,868.4 L713.5,867.5 L715.5,866.7 L717.5,865.9 L719.5,865.1 L721.5,864.2 L723.5,863.4 L725.5,862.5 L727.5,861.7 L729.5,860.8 L731.5,859.9 L733.5,859.1 L735.5,858.2 L737.5,857.3 L739.5,856.4 L741.5,855.5 L743.5,854.7 L745.5,853.8 L747.5,852.9 L749.5,852 L751.5,851.1 L753.5,850.3 L755.5,849.4 L757.5,848.5 L759.5,847.6 L761.5,846.8 L763.5,845.9 L765.5,845 L767.5,844.2 L769.5,843.3 L771.5,842.5 L773.5,841.7 L775.5,840.8 L777.5,840 L779.5,839.2 L781.5,838.4 L783.5,837.6 L785.5,836.8 L787.5,836 L789.5,835.3 L791.5,834.6 L793.5,833.8 L795.5,833.1 L797.5,832.4 L799.5,831.8 L801.5,831.1 L803.5,830.5 L805.5,829.9 L807.5,829.3 L809.5,828.7 L811.5,828.2 L813.5,827.7 L815.5,827.2 L817.5,826.8 L819.5,826.4 L821.5,826 L823.5,825.7 L825.5,825.3 L827.5,825.1 L829.5,824.8 L831.5,824.6 L833.5,824.5 L835.5,824.3 L837.5,824.3 L839.5,824.2 L841.5,824.2 L843.5,824.3 L845.5,824.4 L847.5,824.5 L849.5,824.7 L851.5,824.9 L853.5,825.2 L855.5,825.5 L857.5,825.8 L859.5,826.2 L861.5,826.6 L863.5,827.1 L865.5,827.6 L867.5,828.1 L869.5,828.7 L871.5,829.2 L873.5,829.9 L875.5,830.5 L877.5,831.1 L879.5,831.8 L881.5,832.5 L883.5,833.3 L885.5,834 L887.5,834.8 L889.5,835.6 L891.5,836.4 L893.5,837.2 L895.5,838.1 L897.5,839 L899.5,839.9 L901.5,840.8 L903.5,841.8 L905.5,842.7 L907.5,843.7 L909.5,844.7 L911.5,845.7 L913.5,846.7 L915.5,847.8 L917.5,848.8 L919.5,849.8 L921.5,850.8 L923.5,851.8 L925.5,852.8 L927.5,853.8 L929.5,854.8 L931.5,855.7 L933.5,856.7 L935.5,857.7 L937.5,858.7 L939.5,859.7 L941.5,860.6 L943.5,861.6 L945.5,862.5 L947.5,863.5 L949.5,864.4 L951.5,865.4 L953.5,866.3 L955.5,867.3 L957.5,868.2 L959.5,869.1 L961.5,870 L963.5,870.9 L965.5,871.8 L967.5,872.7 L969.5,873.6 L971.5,874.5 L973.5,875.4 L975.5,876.3 L977.5,877.1 L979.5,878 L981.5,878.9 L983.5,879.7 L985.5,880.5 L987.5,881.4 L989.5,882.2 L991.5,883 L993.5,883.8 L995.5,884.6 L997.5,885.4 L999.5,886.2 L1001.5,887 L1003.5,887.8 L1005.5,888.5 L1007.5,889.3 L1009.5,890 L1011.5,890.7 L1013.5,891.5 L1015.5,892.2 L1017.5,892.9 L1019.5,893.6 L1021.5,894.3 L1023.5,894.9 L1025.5,895.6 L1027.5,896.3 L1029.5,896.9 L1031.5,897.5 L1033.5,898.2 L1035.5,898.8 L1037.5,899.4 L1039.5,900 L1041.5,900.5 L1043.5,901.1 L1045.5,901.7 L1047.5,902.2 L1049.5,902.7 L1051.5,903.3 L1053.5,903.8 L1055.5,904.3 L1057.5,904.8 L1059.5,905.2 L1061.5,905.7 L1063.5,906.1 L1065.5,906.6 L1067.5,907 L1069.5,907.4 L1071.5,907.8 L1073.5,908.2 L1075.5,908.6 L1077.5,909 L1079.5,909.3 L1081.5,909.7 L1083.5,910 L1085.5,910.4 L1087.5,910.7 L1089.5,911 L1091.5,911.3 L1093.5,911.6 L1095.5,911.9 L1097.5,912.2 L1099.5,912.5 L1101.5,912.8 L1103.5,913 L1105.5,913.3 L1107.5,913.5 L1109.5,913.8 L1111.5,914 L1113.5,914.2 L1115.5,914.5 L1117.5,914.7 L1119.5,914.9 L1121.5,915.1 L1123.5,915.3 L1125.5,915.5 L1127.5,915.7 L1129.5,915.9 L1131.5,916 L1133.5,916.2 L1135.5,916.4 L1137.5,916.6 L1139.5,916.7 L1141.5,916.9 L1143.5,917 L1145.5,917.2 L1147.5,917.3 L1149.5,917.4 L1151.5,917.6 L1153.5,917.7 L1155.5,917.8 L1157.5,917.9 L1159.5,918 L1161.5,918.2 L1163.5,918.3 L1165.5,918.4 L1167.5,918.5 L1169.5,918.5 L1171.5,918.6 L1173.5,918.7 L1175.5,918.8 L1177.5,918.9 L1179.5,918.9 L1181.5,919 L1183.5,919.1 L1185.5,919.1 L1187.5,919.2 L1189.5,919.2 L1191.5,919.3 L1193.5,919.3 L1195.5,919.4 L1197.5,919.4 L1199.5,919.4 L1201.5,919.5 L1203.5,919.5 L1205.5,919.5 L1207.5,919.5 L1209.5,919.6 L1211.5,919.6 L1213.5,919.6 L1215.5,919.6 L1217.5,919.6 L1219.5,919.6 L1221.5,919.6 L1223.5,919.6 L1225.5,919.6 L1227.5,919.6 L1229.5,919.6 L1231.5,919.5 L1233.5,919.5 L1235.5,919.5 L1237.5,919.5 L1239.5,919.4 L1241.5,919.4 L1243.5,919.4 L1245.5,919.3 L1247.5,919.3 L1249.5,919.3 L1251.5,919.2 L1253.5,919.2 L1255.5,919.1 L1257.5,919.1 L1259.5,919 L1261.5,919 L1263.5,918.9 L1265.5,918.9 L1267.5,918.8 L1269.5,918.8 L1271.5,918.7 L1273.5,918.6 L1275.5,918.6 L1277.5,918.5 L1279.5,918.4 L1281.5,918.4 L1283.5,918.3 L1285.5,918.2 L1287.5,918.1 L1289.5,918.1 L1291.5,918 L1293.5,917.9 L1295.5,917.8 L1297.5,917.7 L1299.5,917.7 L1301.5,917.6 L1303.5,917.5 L1305.5,917.4 L1307.5,917.3 L1309.5,917.2 L1311.5,917.1 L1313.5,917.1 L1315.5,917 L1317.5,916.9 L1319.5,916.8 L1321.5,916.7 L1323.5,916.6 L1325.5,916.5 L1327.5,916.4 L1329.5,916.3 L1331.5,916.2 L1333.5,916.1 L1335.5,916 L1337.5,915.9 L1339.5,915.8 L1341.5,915.7 L1343.5,915.6 L1345.5,915.5 L1347.5,915.4 L1349.5,915.4 L1351.5,915.3 L1353.5,915.2 L1355.5,915.1 L1357.5,915 L1359.5,914.9 L1361.5,914.8 L1363.5,914.7 L1365.5,914.6 L1367.5,914.5 L1369.5,914.4 L1371.5,914.3 L1373.5,914.2 L1375.5,914.1 L1375.7,914.1" fill="none" stroke="#2d4c29" stroke-width="8.2" stroke-linejoin="round"/>
<path d="M313.5,1056.8 L315.5,1056.7 L317.5,1056.7 L319.5,1056.6 L321.5,1056.6 L323.5,1056.5 L325.5,1056.4 L327.5,1056.4 L329.5,1056.3 L331.5,1056.3 L333.5,1056.2 L335.5,1056.2 L337.5,1056.1 L339.5,1056.1 L341.5,1056 L343.5,1056 L345.5,1056 L347.5,1055.9 L349.5,1055.9 L351.5,1055.8 L353.5,1055.8 L355.5,1055.8 L357.5,1055.7 L359.5,1055.7 L361.5,1055.7 L363.5,1055.6 L365.5,1055.6 L367.5,1055.6 L369.5,1055.5 L371.5,1055.5 L373.5,1055.5 L375.5,1055.4 L377.5,1055.4 L379.5,1055.4 L381.5,1055.4 L383.5,1055.3 L385.5,1055.3 L387.5,1055.3 L389.5,1055.2 L391.5,1055.2 L393.5,1055.2 L395.5,1055.2 L397.5,1055.1 L399.5,1055.1 L401.5,1055.1 L403.5,1055.1 L405.5,1055 L407.5,1055 L409.5,1055 L411.5,1054.9 L413.5,1054.9 L415.5,1054.9 L417.5,1054.9 L419.5,1054.8 L421.5,1054.8 L423.5,1054.8 L425.5,1054.7 L427.5,1054.7 L429.5,1054.7 L431.5,1054.6 L433.5,1054.6 L435.5,1054.6 L437.5,1054.5 L439.5,1054.5 L441.5,1054.4 L443.5,1054.4 L445.5,1054.4 L447.5,1054.3 L449.5,1054.3 L451.5,1054.2 L453.5,1054.1 L455.5,1054.1 L457.5,1054 L459.5,1054 L461.5,1053.9 L463.5,1053.8 L465.5,1053.7 L467.5,1053.6 L469.5,1053.5 L471.5,1053.4 L473.5,1053.3 L475.5,1053.2 L477.5,1053.1 L479.5,1053 L481.5,1052.9 L483.5,1052.7 L485.5,1052.6 L487.5,1052.5 L489.5,1052.3 L491.5,1052.1 L493.5,1052 L495.5,1051.8 L497.5,1051.6 L499.5,1051.4 L501.5,1051.2 L503.5,1051 L505.5,1050.8 L507.5,1050.5 L509.5,1050.3 L511.5,1050 L513.5,1049.8 L515.5,1049.5 L517.5,1049.2 L519.5,1048.9 L521.5,1048.6 L523.5,1048.3 L525.5,1047.9 L527.5,1047.6 L529.5,1047.2 L531.5,1046.9 L533.5,1046.5 L535.5,1046.1 L537.5,1045.7 L539.5,1045.2 L541.5,1044.8 L543.5,1044.4 L545.5,1043.9 L547.5,1043.4 L549.5,1042.9 L551.5,1042.4 L553.5,1041.8 L555.5,1041.3 L557.5,1040.7 L559.5,1040.1 L561.5,1039.5 L563.5,1038.9 L565.5,1038.3 L567.5,1037.6 L569.5,1037 L571.5,1036.3 L573.5,1035.6 L575.5,1034.9 L577.5,1034.1 L579.5,1033.4 L581.5,1032.7 L583.5,1032 L585.5,1031.2 L587.5,1030.5 L589.5,1029.8 L591.5,1029.1 L593.5,1028.4 L595.5,1027.8 L597.5,1027.1 L599.5,1026.4 L601.5,1025.6 L603.5,1024.9 L605.5,1024.2 L607.5,1023.4 L609.5,1022.6 L611.5,1021.8 L613.5,1021 L615.5,1020.2 L617.5,1019.3 L619.5,1018.5 L621.5,1017.6 L623.5,1016.7 L625.5,1015.8 L627.5,1014.9 L629.5,1014 L631.5,1013.1 L633.5,1012.2 L635.5,1011.3 L637.5,1010.4 L639.5,1009.5 L641.5,1008.6 L643.5,1007.7 L645.5,1006.8 L647.5,1005.9 L649.5,1005 L651.5,1004.1 L653.5,1003.2 L655.5,1002.4 L657.5,1001.5 L659.5,1000.6 L661.5,999.7 L663.5,998.9 L665.5,998 L667.5,997.1 L669.5,996.3 L671.5,995.4 L673.5,994.5 L675.5,993.7 L677.5,992.8 L679.5,992 L681.5,991.1 L683.5,990.3 L685.5,989.4 L687.5,988.6 L689.5,987.7 L691.5,986.9 L693.5,986 L695.5,985.2 L697.5,984.3 L699.5,983.5 L701.5,982.6 L703.5,981.8 L705.5,980.9 L707.5,980.1 L709.5,979.3 L711.5,978.4 L713.5,977.6 L715.5,976.8 L717.5,975.9 L719.5,975.1 L721.5,974.3 L723.5,973.4 L725.5,972.6 L727.5,971.8 L729.5,971 L731.5,970.2 L733.5,969.4 L735.5,968.7 L737.5,967.9 L739.5,967.1 L741.5,966.4 L743.5,965.6 L745.5,964.9 L747.5,964.2 L749.5,963.4 L751.5,962.7 L753.5,962 L755.5,961.4 L757.5,960.7 L759.5,960.1 L761.5,959.4 L763.5,958.8 L765.5,958.2 L767.5,957.6 L769.5,957.1 L771.5,956.5 L773.5,956 L775.5,955.5 L777.5,955 L779.5,954.5 L781.5,954 L783.5,953.6 L785.5,953.2 L787.5,952.8 L789.5,952.4 L791.5,952.1 L793.5,951.8 L795.5,951.5 L797.5,951.2 L799.5,951 L801.5,950.7 L803.5,950.5 L805.5,950.4 L807.5,950.2 L809.5,950.1 L811.5,950.1 L813.5,950 L815.5,950 L817.5,950 L819.5,950 L821.5,950.1 L823.5,950.2 L825.5,950.3 L827.5,950.5 L829.5,950.7 L831.5,951 L833.5,951.2 L835.5,951.6 L837.5,951.9 L839.5,952.3 L841.5,952.7 L843.5,953.2 L845.5,953.7 L847.5,954.2 L849.5,954.8 L851.5,955.4 L853.5,956.1 L855.5,956.8 L857.5,957.5 L859.5,958.2 L861.5,959 L863.5,959.8 L865.5,960.7 L867.5,961.5 L869.5,962.4 L871.5,963.3 L873.5,964.3 L875.5,965.2 L877.5,966.2 L879.5,967.2 L881.5,968.2 L883.5,969.3 L885.5,970.3 L887.5,971.4 L889.5,972.5 L891.5,973.6 L893.5,974.7 L895.5,975.8 L897.5,977 L899.5,978.1 L901.5,979.3 L903.5,980.4 L905.5,981.6 L907.5,982.7 L909.5,983.9 L911.5,985 L913.5,986.2 L915.5,987.4 L917.5,988.5 L919.5,989.7 L921.5,990.8 L923.5,992 L925.5,993.1 L927.5,994.3 L929.5,995.4 L931.5,996.6 L933.5,997.7 L935.5,998.8 L937.5,999.9 L939.5,1001 L941.5,1002.1 L943.5,1003.2 L945.5,1004.3 L947.5,1005.4 L949.5,1006.5 L951.5,1007.6 L953.5,1008.6 L955.5,1009.7 L957.5,1010.7 L959.5,1011.8 L961.5,1012.8 L963.5,1013.8 L965.5,1014.8 L967.5,1015.8 L969.5,1016.8 L971.5,1017.8 L973.5,1018.7 L975.5,1019.7 L977.5,1020.6 L979.5,1021.5 L981.5,1022.5 L983.5,1023.4 L985.5,1024.2 L987.5,1025.1 L989.5,1026 L991.5,1026.8 L993.5,1027.7 L995.5,1028.5 L997.5,1029.3 L999.5,1030.1 L1001.5,1030.9 L1003.5,1031.6 L1005.5,1032.4 L1007.5,1033.1 L1009.5,1033.9 L1011.5,1034.6 L1013.5,1035.3 L1015.5,1036 L1017.5,1036.7 L1019.5,1037.4 L1021.5,1038 L1023.5,1038.7 L1025.5,1039.3 L1027.5,1040 L1029.5,1040.6 L1031.5,1041.2 L1033.5,1041.8 L1035.5,1042.4 L1037.5,1042.9 L1039.5,1043.5 L1041.5,1044 L1043.5,1044.6 L1045.5,1045.1 L1047.5,1045.6 L1049.5,1046.1 L1051.5,1046.6 L1053.5,1047.1 L1055.5,1047.6 L1057.5,1048.1 L1059.5,1048.5 L1061.5,1049 L1063.5,1049.4 L1065.5,1049.8 L1067.5,1050.2 L1069.5,1050.7 L1071.5,1051 L1073.5,1051.4 L1075.5,1051.8 L1077.5,1052.2 L1079.5,1052.5 L1081.5,1052.9 L1083.5,1053.2 L1085.5,1053.6 L1087.5,1053.9 L1089.5,1054.2 L1091.5,1054.5 L1093.5,1054.8 L1095.5,1055.1 L1097.5,1055.4 L1099.5,1055.7 L1101.5,1055.9 L1103.5,1056.2 L1105.5,1056.4 L1107.5,1056.7 L1109.5,1056.9 L1111.5,1057.1 L1113.5,1057.4 L1115.5,1057.6 L1117.5,1057.8 L1119.5,1058 L1121.5,1058.1 L1123.5,1058.3 L1125.5,1058.5 L1127.5,1058.7 L1129.5,1058.8 L1131.5,1059 L1133.5,1059.1 L1135.5,1059.3 L1137.5,1059.4 L1139.5,1059.5 L1141.5,1059.6 L1143.5,1059.7 L1145.5,1059.8 L1147.5,1059.9 L1149.5,1060 L1151.5,1060.1 L1153.5,1060.2 L1155.5,1060.3 L1157.5,1060.4 L1159.5,1060.4 L1161.5,1060.5 L1163.5,1060.6 L1165.5,1060.6 L1167.5,1060.7 L1169.5,1060.7 L1171.5,1060.7 L1173.5,1060.8 L1175.5,1060.8 L1177.5,1060.8 L1179.5,1060.8 L1181.5,1060.9 L1183.5,1060.9 L1185.5,1060.9 L1187.5,1060.9 L1189.5,1060.9 L1191.5,1060.9 L1193.5,1060.9 L1195.5,1060.9 L1197.5,1060.9 L1199.5,1060.8 L1201.5,1060.8 L1203.5,1060.8 L1205.5,1060.8 L1207.5,1060.8 L1209.5,1060.7 L1211.5,1060.7 L1213.5,1060.7 L1215.5,1060.6 L1217.5,1060.6 L1219.5,1060.5 L1221.5,1060.5 L1223.5,1060.5 L1225.5,1060.4 L1227.5,1060.4 L1229.5,1060.3 L1231.5,1060.3 L1233.5,1060.2 L1235.5,1060.2 L1237.5,1060.1 L1239.5,1060.1 L1241.5,1060 L1243.5,1060 L1245.5,1059.9 L1247.5,1059.9 L1249.5,1059.8 L1251.5,1059.7 L1253.5,1059.7 L1255.5,1059.6 L1257.5,1059.6 L1259.5,1059.5 L1261.5,1059.5 L1263.5,1059.4 L1265.5,1059.4 L1267.5,1059.3 L1269.5,1059.3 L1271.5,1059.2 L1273.5,1059.2 L1275.5,1059.1 L1277.5,1059 L1279.5,1059 L1281.5,1058.9 L1283.5,1058.9 L1285.5,1058.8 L1287.5,1058.8 L1289.5,1058.7 L1291.5,1058.7 L1293.5,1058.6 L1295.5,1058.6 L1297.5,1058.5 L1299.5,1058.5 L1301.5,1058.4 L1303.5,1058.4 L1305.5,1058.3 L1307.5,1058.2 L1309.5,1058.2 L1311.5,1058.1 L1313.5,1058.1 L1315.5,1058 L1317.5,1058 L1319.5,1057.9 L1321.5,1057.8 L1323.5,1057.8 L1325.5,1057.7 L1327.5,1057.7 L1329.5,1057.6 L1331.5,1057.5 L1333.5,1057.5 L1335.5,1057.4 L1337.5,1057.3 L1339.5,1057.3 L1341.5,1057.2 L1343.5,1057.1 L1345.5,1057.1 L1347.5,1057 L1349.5,1056.9 L1351.5,1056.9 L1353.5,1056.8 L1355.5,1056.7 L1357.5,1056.6 L1359.5,1056.6 L1361.5,1056.5 L1363.5,1056.4 L1365.5,1056.3 L1367.5,1056.2 L1369.5,1056.1 L1371.5,1056 L1373.5,1056 L1375.5,1055.9 L1375.7,1055.9 L1375.7,1061.8 L1375.5,1061.8 L1373.5,1061.9 L1371.5,1062 L1369.5,1062.1 L1367.5,1062.2 L1365.5,1062.3 L1363.5,1062.4 L1361.5,1062.5 L1359.5,1062.6 L1357.5,1062.6 L1355.5,1062.7 L1353.5,1062.8 L1351.5,1062.9 L1349.5,1063 L1347.5,1063 L1345.5,1063.1 L1343.5,1063.2 L1341.5,1063.3 L1339.5,1063.3 L1337.5,1063.4 L1335.5,1063.5 L1333.5,1063.5 L1331.5,1063.6 L1329.5,1063.7 L1327.5,1063.7 L1325.5,1063.8 L1323.5,1063.9 L1321.5,1063.9 L1319.5,1064 L1317.5,1064 L1315.5,1064.1 L1313.5,1064.2 L1311.5,1064.2 L1309.5,1064.3 L1307.5,1064.3 L1305.5,1064.4 L1303.5,1064.4 L1301.5,1064.5 L1299.5,1064.5 L1297.5,1064.6 L1295.5,1064.7 L1293.5,1064.7 L1291.5,1064.8 L1289.5,1064.8 L1287.5,1064.9 L1285.5,1064.9 L1283.5,1065 L1281.5,1065 L1279.5,1065.1 L1277.5,1065.1 L1275.5,1065.2 L1273.5,1065.2 L1271.5,1065.3 L1269.5,1065.3 L1267.5,1065.4 L1265.5,1065.4 L1263.5,1065.5 L1261.5,1065.5 L1259.5,1065.6 L1257.5,1065.6 L1255.5,1065.7 L1253.5,1065.7 L1251.5,1065.8 L1249.5,1065.8 L1247.5,1065.9 L1245.5,1065.9 L1243.5,1066 L1241.5,1066 L1239.5,1066.1 L1237.5,1066.1 L1235.5,1066.2 L1233.5,1066.2 L1231.5,1066.3 L1229.5,1066.3 L1227.5,1066.4 L1225.5,1066.4 L1223.5,1066.5 L1221.5,1066.5 L1219.5,1066.5 L1217.5,1066.6 L1215.5,1066.6 L1213.5,1066.6 L1211.5,1066.7 L1209.5,1066.7 L1207.5,1066.7 L1205.5,1066.7 L1203.5,1066.8 L1201.5,1066.8 L1199.5,1066.8 L1197.5,1066.8 L1195.5,1066.8 L1193.5,1066.8 L1191.5,1066.8 L1189.5,1066.8 L1187.5,1066.8 L1185.5,1066.8 L1183.5,1066.8 L1181.5,1066.8 L1179.5,1066.8 L1177.5,1066.7 L1175.5,1066.7 L1173.5,1066.7 L1171.5,1066.6 L1169.5,1066.6 L1167.5,1066.5 L1165.5,1066.5 L1163.5,1066.4 L1161.5,1066.4 L1159.5,1066.3 L1157.5,1066.2 L1155.5,1066.2 L1153.5,1066.1 L1151.5,1066 L1149.5,1065.9 L1147.5,1065.8 L1145.5,1065.7 L1143.5,1065.6 L1141.5,1065.5 L1139.5,1065.4 L1137.5,1065.2 L1135.5,1065.1 L1133.5,1065 L1131.5,1064.8 L1129.5,1064.7 L1127.5,1064.5 L1125.5,1064.3 L1123.5,1064.1 L1121.5,1064 L1119.5,1063.8 L1117.5,1063.6 L1115.5,1063.4 L1113.5,1063.2 L1111.5,1062.9 L1109.5,1062.7 L1107.5,1062.5 L1105.5,1062.3 L1103.5,1062 L1101.5,1061.7 L1099.5,1061.5 L1097.5,1061.2 L1095.5,1060.9 L1093.5,1060.7 L1091.5,1060.4 L1089.5,1060.1 L1087.5,1059.8 L1085.5,1059.5 L1083.5,1059.1 L1081.5,1058.8 L1079.5,1058.5 L1077.5,1058.1 L1075.5,1057.8 L1073.5,1057.4 L1071.5,1057.1 L1069.5,1056.7 L1067.5,1056.3 L1065.5,1055.9 L1063.5,1055.5 L1061.5,1055.2 L1059.5,1054.7 L1057.5,1054.3 L1055.5,1053.9 L1053.5,1053.5 L1051.5,1053.1 L1049.5,1052.6 L1047.5,1052.2 L1045.5,1051.7 L1043.5,1051.2 L1041.5,1050.8 L1039.5,1050.3 L1037.5,1049.8 L1035.5,1049.3 L1033.5,1048.8 L1031.5,1048.3 L1029.5,1047.8 L1027.5,1047.3 L1025.5,1046.7 L1023.5,1046.2 L1021.5,1045.7 L1019.5,1045.1 L1017.5,1044.6 L1015.5,1044 L1013.5,1043.4 L1011.5,1042.9 L1009.5,1042.3 L1007.5,1041.7 L1005.5,1041.1 L1003.5,1040.5 L1001.5,1039.9 L999.5,1039.2 L997.5,1038.6 L995.5,1038 L993.5,1037.3 L991.5,1036.7 L989.5,1036 L987.5,1035.4 L985.5,1034.7 L983.5,1034 L981.5,1033.3 L979.5,1032.6 L977.5,1031.9 L975.5,1031.2 L973.5,1030.5 L971.5,1029.8 L969.5,1029.1 L967.5,1028.3 L965.5,1027.6 L963.5,1026.8 L961.5,1026.1 L959.5,1025.3 L957.5,1024.6 L955.5,1023.8 L953.5,1023 L951.5,1022.2 L949.5,1021.4 L947.5,1020.6 L945.5,1019.8 L943.5,1019 L941.5,1018.2 L939.5,1017.3 L937.5,1016.5 L935.5,1015.7 L933.5,1014.8 L931.5,1014 L929.5,1013.1 L927.5,1012.2 L925.5,1011.4 L923.5,1010.5 L921.5,1009.6 L919.5,1008.7 L917.5,1007.8 L915.5,1006.9 L913.5,1006 L911.5,1005.1 L909.5,1004.1 L907.5,1003.2 L905.5,1002.3 L903.5,1001.4 L901.5,1000.4 L899.5,999.5 L897.5,998.6 L895.5,997.6 L893.5,996.7 L891.5,995.8 L889.5,994.9 L887.5,994 L885.5,993.1 L883.5,992.2 L881.5,991.3 L879.5,990.5 L877.5,989.6 L875.5,988.8 L873.5,987.9 L871.5,987.1 L869.5,986.3 L867.5,985.6 L865.5,984.8 L863.5,984.1 L861.5,983.3 L859.5,982.6 L857.5,982 L855.5,981.3 L853.5,980.7 L851.5,980.1 L849.5,979.5 L847.5,979 L845.5,978.4 L843.5,977.9 L841.5,977.5 L839.5,977.1 L837.5,976.6 L835.5,976.3 L833.5,975.9 L831.5,975.6 L829.5,975.3 L827.5,975.1 L825.5,974.8 L823.5,974.6 L821.5,974.4 L819.5,974.3 L817.5,974.1 L815.5,974 L813.5,974 L811.5,973.9 L809.5,973.9 L807.5,973.9 L805.5,973.9 L803.5,973.9 L801.5,974 L799.5,974.1 L797.5,974.2 L795.5,974.3 L793.5,974.5 L791.5,974.7 L789.5,974.8 L787.5,975.1 L785.5,975.3 L783.5,975.6 L781.5,975.9 L779.5,976.2 L777.5,976.5 L775.5,976.8 L773.5,977.2 L771.5,977.6 L769.5,978 L767.5,978.4 L765.5,978.8 L763.5,979.2 L761.5,979.7 L759.5,980.2 L757.5,980.7 L755.5,981.2 L753.5,981.7 L751.5,982.3 L749.5,982.8 L747.5,983.4 L745.5,984 L743.5,984.5 L741.5,985.1 L739.5,985.8 L737.5,986.4 L735.5,987 L733.5,987.7 L731.5,988.3 L729.5,989 L727.5,989.7 L725.5,990.3 L723.5,991 L721.5,991.7 L719.5,992.4 L717.5,993.2 L715.5,993.9 L713.5,994.6 L711.5,995.3 L709.5,996.1 L707.5,996.8 L705.5,997.5 L703.5,998.3 L701.5,999 L699.5,999.8 L697.5,1000.5 L695.5,1001.3 L693.5,1002.1 L691.5,1002.8 L689.5,1003.6 L687.5,1004.4 L685.5,1005.2 L683.5,1005.9 L681.5,1006.7 L679.5,1007.5 L677.5,1008.3 L675.5,1009.1 L673.5,1009.9 L671.5,1010.7 L669.5,1011.5 L667.5,1012.3 L665.5,1013.1 L663.5,1013.9 L661.5,1014.7 L659.5,1015.5 L657.5,1016.3 L655.5,1017.1 L653.5,1017.9 L651.5,1018.7 L649.5,1019.5 L647.5,1020.4 L645.5,1021.2 L643.5,1022 L641.5,1022.8 L639.5,1023.6 L637.5,1024.5 L635.5,1025.3 L633.5,1026.1 L631.5,1026.9 L629.5,1027.7 L627.5,1028.5 L625.5,1029.3 L623.5,1030.1 L621.5,1030.9 L619.5,1031.7 L617.5,1032.4 L615.5,1033.2 L613.5,1033.9 L611.5,1034.6 L609.5,1035.3 L607.5,1036 L605.5,1036.6 L603.5,1037.3 L601.5,1037.9 L599.5,1038.5 L597.5,1039.1 L595.5,1039.6 L593.5,1040.2 L591.5,1040.8 L589.5,1041.4 L587.5,1042 L585.5,1042.5 L583.5,1043.1 L581.5,1043.8 L579.5,1044.4 L577.5,1045 L575.5,1045.6 L573.5,1046.2 L571.5,1046.8 L569.5,1047.4 L567.5,1047.9 L565.5,1048.5 L563.5,1049 L561.5,1049.5 L559.5,1050 L557.5,1050.4 L555.5,1050.9 L553.5,1051.3 L551.5,1051.8 L549.5,1052.2 L547.5,1052.6 L545.5,1053 L543.5,1053.3 L541.5,1053.7 L539.5,1054 L537.5,1054.3 L535.5,1054.6 L533.5,1054.9 L531.5,1055.2 L529.5,1055.5 L527.5,1055.8 L525.5,1056 L523.5,1056.3 L521.5,1056.5 L519.5,1056.7 L517.5,1056.9 L515.5,1057.1 L513.5,1057.3 L511.5,1057.5 L509.5,1057.7 L507.5,1057.8 L505.5,1058 L503.5,1058.1 L501.5,1058.2 L499.5,1058.4 L497.5,1058.5 L495.5,1058.6 L493.5,1058.7 L491.5,1058.8 L489.5,1058.9 L487.5,1059 L485.5,1059.1 L483.5,1059.2 L481.5,1059.2 L479.5,1059.3 L477.5,1059.3 L475.5,1059.4 L473.5,1059.5 L471.5,1059.5 L469.5,1059.6 L467.5,1059.6 L465.5,1059.6 L463.5,1059.7 L461.5,1059.7 L459.5,1059.7 L457.5,1059.8 L455.5,1059.8 L453.5,1059.8 L451.5,1059.8 L449.5,1059.9 L447.5,1059.9 L445.5,1059.9 L443.5,1059.9 L441.5,1059.9 L439.5,1060 L437.5,1060 L435.5,1060 L433.5,1060 L431.5,1060 L429.5,1060.1 L427.5,1060.1 L425.5,1060.1 L423.5,1060.2 L421.5,1060.2 L419.5,1060.2 L417.5,1060.3 L415.5,1060.3 L413.5,1060.3 L411.5,1060.4 L409.5,1060.4 L407.5,1060.4 L405.5,1060.5 L403.5,1060.5 L401.5,1060.6 L399.5,1060.6 L397.5,1060.7 L395.5,1060.7 L393.5,1060.7 L391.5,1060.8 L389.5,1060.8 L387.5,1060.9 L385.5,1060.9 L383.5,1061 L381.5,1061 L379.5,1061.1 L377.5,1061.2 L375.5,1061.2 L373.5,1061.3 L371.5,1061.3 L369.5,1061.4 L367.5,1061.4 L365.5,1061.5 L363.5,1061.5 L361.5,1061.6 L359.5,1061.7 L357.5,1061.7 L355.5,1061.8 L353.5,1061.8 L351.5,1061.9 L349.5,1062 L347.5,1062 L345.5,1062.1 L343.5,1062.1 L341.5,1062.2 L339.5,1062.3 L337.5,1062.3 L335.5,1062.4 L333.5,1062.4 L331.5,1062.5 L329.5,1062.6 L327.5,1062.6 L325.5,1062.7 L323.5,1062.7 L321.5,1062.8 L319.5,1062.9 L317.5,1062.9 L315.5,1063 L313.5,1063 Z" fill="#78a773"/>
<path d="M313.5,1059.9 L315.5,1059.9 L317.5,1059.8 L319.5,1059.8 L321.5,1059.7 L323.5,1059.7 L325.5,1059.6 L327.5,1059.6 L329.5,1059.5 L331.5,1059.5 L333.5,1059.5 L335.5,1059.4 L337.5,1059.4 L339.5,1059.3 L341.5,1059.3 L343.5,1059.2 L345.5,1059.2 L347.5,1059.1 L349.5,1059.1 L351.5,1059 L353.5,1059 L355.5,1058.9 L357.5,1058.9 L359.5,1058.8 L361.5,1058.8 L363.5,1058.7 L365.5,1058.7 L367.5,1058.6 L369.5,1058.6 L371.5,1058.5 L373.5,1058.5 L375.5,1058.4 L377.5,1058.4 L379.5,1058.3 L381.5,1058.3 L383.5,1058.2 L385.5,1058.2 L387.5,1058.1 L389.5,1058.1 L391.5,1058 L393.5,1058 L395.5,1057.9 L397.5,1057.9 L399.5,1057.8 L401.5,1057.8 L403.5,1057.8 L405.5,1057.7 L407.5,1057.7 L409.5,1057.6 L411.5,1057.6 L413.5,1057.5 L415.5,1057.5 L417.5,1057.5 L419.5,1057.4 L421.5,1057.4 L423.5,1057.4 L425.5,1057.3 L427.5,1057.3 L429.5,1057.2 L431.5,1057.2 L433.5,1057.2 L435.5,1057.2 L437.5,1057.1 L439.5,1057.1 L441.5,1057.1 L443.5,1057 L445.5,1057 L447.5,1057 L449.5,1056.9 L451.5,1056.9 L453.5,1056.9 L455.5,1056.8 L457.5,1056.8 L459.5,1056.7 L461.5,1056.7 L463.5,1056.6 L465.5,1056.6 L467.5,1056.5 L469.5,1056.5 L471.5,1056.4 L473.5,1056.3 L475.5,1056.2 L477.5,1056.2 L479.5,1056.1 L481.5,1056 L483.5,1055.9 L485.5,1055.8 L487.5,1055.7 L489.5,1055.6 L491.5,1055.4 L493.5,1055.3 L495.5,1055.2 L497.5,1055 L499.5,1054.9 L501.5,1054.7 L503.5,1054.6 L505.5,1054.4 L507.5,1054.2 L509.5,1054 L511.5,1053.8 L513.5,1053.6 L515.5,1053.3 L517.5,1053.1 L519.5,1052.9 L521.5,1052.6 L523.5,1052.3 L525.5,1052.1 L527.5,1051.8 L529.5,1051.5 L531.5,1051.1 L533.5,1050.8 L535.5,1050.5 L537.5,1050.1 L539.5,1049.7 L541.5,1049.3 L543.5,1048.9 L545.5,1048.5 L547.5,1048.1 L549.5,1047.6 L551.5,1047.2 L553.5,1046.7 L555.5,1046.2 L557.5,1045.7 L559.5,1045.2 L561.5,1044.6 L563.5,1044.1 L565.5,1043.5 L567.5,1042.9 L569.5,1042.2 L571.5,1041.6 L573.5,1041 L575.5,1040.3 L577.5,1039.6 L579.5,1038.9 L581.5,1038.3 L583.5,1037.6 L585.5,1036.9 L587.5,1036.3 L589.5,1035.6 L591.5,1035 L593.5,1034.3 L595.5,1033.7 L597.5,1033 L599.5,1032.4 L601.5,1031.7 L603.5,1031 L605.5,1030.4 L607.5,1029.6 L609.5,1028.9 L611.5,1028.1 L613.5,1027.4 L615.5,1026.6 L617.5,1025.8 L619.5,1025 L621.5,1024.1 L623.5,1023.3 L625.5,1022.5 L627.5,1021.6 L629.5,1020.8 L631.5,1019.9 L633.5,1019 L635.5,1018.2 L637.5,1017.3 L639.5,1016.5 L641.5,1015.6 L643.5,1014.8 L645.5,1013.9 L647.5,1013.1 L649.5,1012.2 L651.5,1011.4 L653.5,1010.5 L655.5,1009.7 L657.5,1008.9 L659.5,1008 L661.5,1007.2 L663.5,1006.4 L665.5,1005.6 L667.5,1004.8 L669.5,1003.9 L671.5,1003.1 L673.5,1002.3 L675.5,1001.5 L677.5,1000.7 L679.5,999.9 L681.5,999.1 L683.5,998.3 L685.5,997.5 L687.5,996.7 L689.5,995.9 L691.5,995.1 L693.5,994.3 L695.5,993.5 L697.5,992.7 L699.5,991.9 L701.5,991.1 L703.5,990.3 L705.5,989.5 L707.5,988.7 L709.5,987.9 L711.5,987.2 L713.5,986.4 L715.5,985.6 L717.5,984.8 L719.5,984 L721.5,983.3 L723.5,982.5 L725.5,981.7 L727.5,981 L729.5,980.2 L731.5,979.5 L733.5,978.8 L735.5,978.1 L737.5,977.3 L739.5,976.6 L741.5,975.9 L743.5,975.3 L745.5,974.6 L747.5,973.9 L749.5,973.3 L751.5,972.6 L753.5,972 L755.5,971.4 L757.5,970.8 L759.5,970.2 L761.5,969.7 L763.5,969.1 L765.5,968.6 L767.5,968 L769.5,967.6 L771.5,967.1 L773.5,966.6 L775.5,966.2 L777.5,965.7 L779.5,965.3 L781.5,965 L783.5,964.6 L785.5,964.3 L787.5,963.9 L789.5,963.6 L791.5,963.4 L793.5,963.1 L795.5,962.9 L797.5,962.7 L799.5,962.5 L801.5,962.4 L803.5,962.2 L805.5,962.2 L807.5,962.1 L809.5,962 L811.5,962 L813.5,962 L815.5,962.1 L817.5,962.1 L819.5,962.2 L821.5,962.3 L823.5,962.5 L825.5,962.7 L827.5,962.9 L829.5,963.1 L831.5,963.4 L833.5,963.7 L835.5,964 L837.5,964.4 L839.5,964.8 L841.5,965.3 L843.5,965.7 L845.5,966.2 L847.5,966.8 L849.5,967.4 L851.5,968 L853.5,968.6 L855.5,969.3 L857.5,970 L859.5,970.7 L861.5,971.4 L863.5,972.2 L865.5,973 L867.5,973.8 L869.5,974.7 L871.5,975.5 L873.5,976.4 L875.5,977.3 L877.5,978.2 L879.5,979.2 L881.5,980.1 L883.5,981.1 L885.5,982.1 L887.5,983.1 L889.5,984.1 L891.5,985.1 L893.5,986.1 L895.5,987.1 L897.5,988.1 L899.5,989.2 L901.5,990.2 L903.5,991.2 L905.5,992.3 L907.5,993.3 L909.5,994.4 L911.5,995.4 L913.5,996.4 L915.5,997.5 L917.5,998.5 L919.5,999.5 L921.5,1000.5 L923.5,1001.6 L925.5,1002.6 L927.5,1003.6 L929.5,1004.5 L931.5,1005.5 L933.5,1006.5 L935.5,1007.5 L937.5,1008.5 L939.5,1009.4 L941.5,1010.4 L943.5,1011.3 L945.5,1012.3 L947.5,1013.2 L949.5,1014.1 L951.5,1015 L953.5,1015.9 L955.5,1016.9 L957.5,1017.7 L959.5,1018.6 L961.5,1019.5 L963.5,1020.4 L965.5,1021.2 L967.5,1022.1 L969.5,1022.9 L971.5,1023.8 L973.5,1024.6 L975.5,1025.4 L977.5,1026.2 L979.5,1027 L981.5,1027.8 L983.5,1028.6 L985.5,1029.4 L987.5,1030.1 L989.5,1030.9 L991.5,1031.6 L993.5,1032.4 L995.5,1033.1 L997.5,1033.8 L999.5,1034.5 L1001.5,1035.2 L1003.5,1035.9 L1005.5,1036.6 L1007.5,1037.2 L1009.5,1037.9 L1011.5,1038.6 L1013.5,1039.2 L1015.5,1039.8 L1017.5,1040.5 L1019.5,1041.1 L1021.5,1041.7 L1023.5,1042.3 L1025.5,1042.9 L1027.5,1043.4 L1029.5,1044 L1031.5,1044.6 L1033.5,1045.1 L1035.5,1045.6 L1037.5,1046.2 L1039.5,1046.7 L1041.5,1047.2 L1043.5,1047.7 L1045.5,1048.2 L1047.5,1048.7 L1049.5,1049.2 L1051.5,1049.7 L1053.5,1050.1 L1055.5,1050.6 L1057.5,1051 L1059.5,1051.5 L1061.5,1051.9 L1063.5,1052.3 L1065.5,1052.7 L1067.5,1053.1 L1069.5,1053.5 L1071.5,1053.9 L1073.5,1054.3 L1075.5,1054.7 L1077.5,1055 L1079.5,1055.4 L1081.5,1055.7 L1083.5,1056.1 L1085.5,1056.4 L1087.5,1056.7 L1089.5,1057 L1091.5,1057.4 L1093.5,1057.7 L1095.5,1057.9 L1097.5,1058.2 L1099.5,1058.5 L1101.5,1058.8 L1103.5,1059 L1105.5,1059.3 L1107.5,1059.5 L1109.5,1059.8 L1111.5,1060 L1113.5,1060.2 L1115.5,1060.4 L1117.5,1060.6 L1119.5,1060.8 L1121.5,1061 L1123.5,1061.2 L1125.5,1061.4 L1127.5,1061.6 L1129.5,1061.7 L1131.5,1061.9 L1133.5,1062 L1135.5,1062.2 L1137.5,1062.3 L1139.5,1062.4 L1141.5,1062.6 L1143.5,1062.7 L1145.5,1062.8 L1147.5,1062.9 L1149.5,1063 L1151.5,1063.1 L1153.5,1063.2 L1155.5,1063.2 L1157.5,1063.3 L1159.5,1063.4 L1161.5,1063.5 L1163.5,1063.5 L1165.5,1063.6 L1167.5,1063.6 L1169.5,1063.7 L1171.5,1063.7 L1173.5,1063.7 L1175.5,1063.8 L1177.5,1063.8 L1179.5,1063.8 L1181.5,1063.8 L1183.5,1063.9 L1185.5,1063.9 L1187.5,1063.9 L1189.5,1063.9 L1191.5,1063.9 L1193.5,1063.9 L1195.5,1063.9 L1197.5,1063.9 L1199.5,1063.8 L1201.5,1063.8 L1203.5,1063.8 L1205.5,1063.8 L1207.5,1063.8 L1209.5,1063.7 L1211.5,1063.7 L1213.5,1063.7 L1215.5,1063.6 L1217.5,1063.6 L1219.5,1063.6 L1221.5,1063.5 L1223.5,1063.5 L1225.5,1063.4 L1227.5,1063.4 L1229.5,1063.3 L1231.5,1063.3 L1233.5,1063.3 L1235.5,1063.2 L1237.5,1063.2 L1239.5,1063.1 L1241.5,1063 L1243.5,1063 L1245.5,1062.9 L1247.5,1062.9 L1249.5,1062.8 L1251.5,1062.8 L1253.5,1062.7 L1255.5,1062.7 L1257.5,1062.6 L1259.5,1062.6 L1261.5,1062.5 L1263.5,1062.4 L1265.5,1062.4 L1267.5,1062.3 L1269.5,1062.3 L1271.5,1062.2 L1273.5,1062.2 L1275.5,1062.1 L1277.5,1062.1 L1279.5,1062 L1281.5,1062 L1283.5,1061.9 L1285.5,1061.9 L1287.5,1061.8 L1289.5,1061.8 L1291.5,1061.7 L1293.5,1061.7 L1295.5,1061.6 L1297.5,1061.5 L1299.5,1061.5 L1301.5,1061.4 L1303.5,1061.4 L1305.5,1061.3 L1307.5,1061.3 L1309.5,1061.2 L1311.5,1061.2 L1313.5,1061.1 L1315.5,1061 L1317.5,1061 L1319.5,1060.9 L1321.5,1060.9 L1323.5,1060.8 L1325.5,1060.7 L1327.5,1060.7 L1329.5,1060.6 L1331.5,1060.6 L1333.5,1060.5 L1335.5,1060.4 L1337.5,1060.4 L1339.5,1060.3 L1341.5,1060.2 L1343.5,1060.1 L1345.5,1060.1 L1347.5,1060 L1349.5,1059.9 L1351.5,1059.9 L1353.5,1059.8 L1355.5,1059.7 L1357.5,1059.6 L1359.5,1059.5 L1361.5,1059.5 L1363.5,1059.4 L1365.5,1059.3 L1367.5,1059.2 L1369.5,1059.1 L1371.5,1059 L1373.5,1058.9 L1375.5,1058.8 L1375.7,1058.8" fill="none" stroke="#2d4c29" stroke-width="8.2" stroke-linejoin="round"/>
<path d="M324.5,1229.6 L326.5,1229.5 L328.5,1229.4 L330.5,1229.3 L332.5,1229.2 L334.5,1229 L336.5,1228.9 L338.5,1228.8 L340.5,1228.7 L342.5,1228.6 L344.5,1228.5 L346.5,1228.4 L348.5,1228.3 L350.5,1228.2 L352.5,1228 L354.5,1227.9 L356.5,1227.8 L358.5,1227.7 L360.5,1227.6 L362.5,1227.5 L364.5,1227.3 L366.5,1227.2 L368.5,1227.1 L370.5,1227 L372.5,1226.9 L374.5,1226.8 L376.5,1226.7 L378.5,1226.6 L380.5,1226.4 L382.5,1226.3 L384.5,1226.2 L386.5,1226.1 L388.5,1226 L390.5,1225.9 L392.5,1225.8 L394.5,1225.7 L396.5,1225.6 L398.5,1225.5 L400.5,1225.5 L402.5,1225.4 L404.5,1225.3 L406.5,1225.2 L408.5,1225.1 L410.5,1225.1 L412.5,1225 L414.5,1224.9 L416.5,1224.9 L418.5,1224.8 L420.5,1224.8 L422.5,1224.7 L424.5,1224.7 L426.5,1224.6 L428.5,1224.6 L430.5,1224.6 L432.5,1224.5 L434.5,1224.5 L436.5,1224.5 L438.5,1224.5 L440.5,1224.5 L442.5,1224.5 L444.5,1224.5 L446.5,1224.5 L448.5,1224.5 L450.5,1224.6 L452.5,1224.6 L454.5,1224.6 L456.5,1224.7 L458.5,1224.7 L460.5,1224.8 L462.5,1224.8 L464.5,1224.9 L466.5,1225 L468.5,1225 L470.5,1225.1 L472.5,1225.2 L474.5,1225.3 L476.5,1225.4 L478.5,1225.5 L480.5,1225.6 L482.5,1225.7 L484.5,1225.8 L486.5,1225.9 L488.5,1226 L490.5,1226.2 L492.5,1226.3 L494.5,1226.4 L496.5,1226.6 L498.5,1226.7 L500.5,1226.8 L502.5,1227 L504.5,1227.1 L506.5,1227.3 L508.5,1227.5 L510.5,1227.6 L512.5,1227.8 L514.5,1228 L516.5,1228.1 L518.5,1228.3 L520.5,1228.5 L522.5,1228.7 L524.5,1228.9 L526.5,1229 L528.5,1229.2 L530.5,1229.4 L532.5,1229.6 L534.5,1229.8 L536.5,1230 L538.5,1230.2 L540.5,1230.4 L542.5,1230.6 L544.5,1230.9 L546.5,1231.1 L548.5,1231.3 L550.5,1231.5 L552.5,1231.7 L554.5,1231.9 L556.5,1232.2 L558.5,1232.4 L560.5,1232.6 L562.5,1232.9 L564.5,1233.1 L566.5,1233.3 L568.5,1233.6 L570.5,1233.8 L572.5,1234 L574.5,1234.3 L576.5,1234.5 L578.5,1234.7 L580.5,1235 L582.5,1235.2 L584.5,1235.5 L586.5,1235.7 L588.5,1236 L590.5,1236.2 L592.5,1236.4 L594.5,1236.7 L596.5,1236.9 L598.5,1237.2 L600.5,1237.4 L602.5,1237.6 L604.5,1237.9 L606.5,1238.1 L608.5,1238.3 L610.5,1238.6 L612.5,1238.8 L614.5,1239 L616.5,1239.2 L618.5,1239.5 L620.5,1239.7 L622.5,1239.9 L624.5,1240.1 L626.5,1240.3 L628.5,1240.5 L630.5,1240.7 L632.5,1240.9 L634.5,1241 L636.5,1241.2 L638.5,1241.4 L640.5,1241.5 L642.5,1241.7 L644.5,1241.9 L646.5,1242 L648.5,1242.1 L650.5,1242.3 L652.5,1242.4 L654.5,1242.5 L656.5,1242.6 L658.5,1242.7 L660.5,1242.8 L662.5,1242.9 L664.5,1243 L666.5,1243 L668.5,1243.1 L670.5,1243.1 L672.5,1243.2 L674.5,1243.2 L676.5,1243.2 L678.5,1243.2 L680.5,1243.2 L682.5,1243.2 L684.5,1243.2 L686.5,1243.2 L688.5,1243.1 L690.5,1243.1 L692.5,1243 L694.5,1242.9 L696.5,1242.8 L698.5,1242.7 L700.5,1242.6 L702.5,1242.4 L704.5,1242.3 L706.5,1242.1 L708.5,1242 L710.5,1241.8 L712.5,1241.6 L714.5,1241.4 L716.5,1241.1 L718.5,1240.9 L720.5,1240.6 L722.5,1240.3 L724.5,1240.1 L726.5,1239.7 L728.5,1239.4 L730.5,1239.1 L732.5,1238.8 L734.5,1238.4 L736.5,1238 L738.5,1237.6 L740.5,1237.2 L742.5,1236.8 L744.5,1236.4 L746.5,1235.9 L748.5,1235.5 L750.5,1235 L752.5,1234.5 L754.5,1234.1 L756.5,1233.5 L758.5,1233 L760.5,1232.5 L762.5,1232 L764.5,1231.4 L766.5,1230.8 L768.5,1230.2 L770.5,1229.7 L772.5,1229 L774.5,1228.4 L776.5,1227.8 L778.5,1227.2 L780.5,1226.5 L782.5,1225.8 L784.5,1225.2 L786.5,1224.5 L788.5,1223.8 L790.5,1223.1 L792.5,1222.4 L794.5,1221.6 L796.5,1220.9 L798.5,1220.1 L800.5,1219.4 L802.5,1218.6 L804.5,1217.8 L806.5,1217 L808.5,1216.2 L810.5,1215.4 L812.5,1214.5 L814.5,1213.7 L816.5,1212.9 L818.5,1212 L820.5,1211.1 L822.5,1210.3 L824.5,1209.4 L826.5,1208.5 L828.5,1207.6 L830.5,1206.7 L832.5,1205.7 L834.5,1204.8 L836.5,1203.9 L838.5,1202.9 L840.5,1201.9 L842.5,1201 L844.5,1200 L846.5,1199 L848.5,1198 L850.5,1197 L852.5,1196 L854.5,1195 L856.5,1193.9 L858.5,1192.9 L860.5,1191.9 L862.5,1190.8 L864.5,1189.8 L866.5,1188.7 L868.5,1187.6 L870.5,1186.6 L872.5,1185.5 L874.5,1184.4 L876.5,1183.3 L878.5,1182.2 L880.5,1181.1 L882.5,1180 L884.5,1178.9 L886.5,1177.8 L888.5,1176.7 L890.5,1175.6 L892.5,1174.5 L894.5,1173.4 L896.5,1172.3 L898.5,1171.2 L900.5,1170 L902.5,1168.9 L904.5,1167.8 L906.5,1166.7 L908.5,1165.6 L910.5,1164.5 L912.5,1163.4 L914.5,1162.3 L916.5,1161.2 L918.5,1160 L920.5,1158.9 L922.5,1157.8 L924.5,1156.8 L926.5,1155.7 L928.5,1154.6 L930.5,1153.5 L932.5,1152.4 L934.5,1151.3 L936.5,1150.3 L938.5,1149.2 L940.5,1148.2 L942.5,1147.1 L944.5,1146.1 L946.5,1145.1 L948.5,1144.1 L950.5,1143.1 L952.5,1142.1 L954.5,1141.1 L956.5,1140.1 L958.5,1139.1 L960.5,1138.2 L962.5,1137.3 L964.5,1136.3 L966.5,1135.4 L968.5,1134.5 L970.5,1133.6 L972.5,1132.8 L974.5,1131.9 L976.5,1131.1 L978.5,1130.2 L980.5,1129.4 L982.5,1128.6 L984.5,1127.9 L986.5,1127.1 L988.5,1126.4 L990.5,1125.7 L992.5,1125 L994.5,1124.3 L996.5,1123.6 L998.5,1123 L1000.5,1122.3 L1002.5,1121.7 L1004.5,1121.1 L1006.5,1120.6 L1008.5,1120 L1010.5,1119.5 L1012.5,1119 L1014.5,1118.5 L1016.5,1118.1 L1018.5,1117.6 L1020.5,1117.2 L1022.5,1116.8 L1024.5,1116.4 L1026.5,1116.1 L1028.5,1115.8 L1030.5,1115.5 L1032.5,1115.2 L1034.5,1114.9 L1036.5,1114.7 L1038.5,1114.5 L1040.5,1114.3 L1042.5,1114.1 L1044.5,1114 L1046.5,1113.9 L1048.5,1113.8 L1050.5,1113.7 L1052.5,1113.7 L1054.5,1113.7 L1056.5,1113.7 L1058.5,1113.7 L1060.5,1113.8 L1062.5,1113.9 L1064.5,1114 L1066.5,1114.1 L1068.5,1114.3 L1070.5,1114.5 L1072.5,1114.7 L1074.5,1114.9 L1076.5,1115.2 L1078.5,1115.5 L1080.5,1115.8 L1082.5,1116.1 L1084.5,1116.5 L1086.5,1116.8 L1088.5,1117.2 L1090.5,1117.7 L1092.5,1118.1 L1094.5,1118.6 L1096.5,1119.1 L1098.5,1119.6 L1100.5,1120.1 L1102.5,1120.6 L1104.5,1121.2 L1106.5,1121.8 L1108.5,1122.4 L1110.5,1123.1 L1112.5,1123.7 L1114.5,1124.4 L1116.5,1125.1 L1118.5,1125.8 L1120.5,1126.5 L1122.5,1127.3 L1124.5,1128 L1126.5,1128.8 L1128.5,1129.6 L1130.5,1130.5 L1132.5,1131.3 L1134.5,1132.2 L1136.5,1133 L1138.5,1133.9 L1140.5,1134.8 L1142.5,1135.7 L1144.5,1136.7 L1146.5,1137.6 L1148.5,1138.6 L1150.5,1139.6 L1152.5,1140.6 L1154.5,1141.6 L1156.5,1142.6 L1158.5,1143.6 L1160.5,1144.6 L1162.5,1145.7 L1164.5,1146.7 L1166.5,1147.8 L1168.5,1148.8 L1170.5,1149.9 L1172.5,1151 L1174.5,1152.1 L1176.5,1153.2 L1178.5,1154.3 L1180.5,1155.4 L1182.5,1156.6 L1184.5,1157.7 L1186.5,1158.8 L1188.5,1160 L1190.5,1161.1 L1192.5,1162.2 L1194.5,1163.4 L1196.5,1164.5 L1198.5,1165.7 L1200.5,1166.8 L1202.5,1168 L1204.5,1169.1 L1206.5,1170.3 L1208.5,1171.5 L1210.5,1172.6 L1212.5,1173.8 L1214.5,1174.9 L1216.5,1176.1 L1218.5,1177.2 L1220.5,1178.4 L1222.5,1179.5 L1224.5,1180.7 L1226.5,1181.8 L1228.5,1182.9 L1230.5,1184 L1232.5,1185.2 L1234.5,1186.3 L1236.5,1187.4 L1238.5,1188.5 L1240.5,1189.6 L1242.5,1190.7 L1244.5,1191.8 L1246.5,1192.8 L1248.5,1193.9 L1250.5,1195 L1252.5,1196 L1254.5,1197 L1256.5,1198.1 L1258.5,1199.1 L1260.5,1200.1 L1262.5,1201.1 L1264.5,1202 L1266.5,1203 L1268.5,1204 L1270.5,1204.9 L1272.5,1205.8 L1274.5,1206.7 L1276.5,1207.6 L1278.5,1208.5 L1280.5,1209.4 L1282.5,1210.3 L1284.5,1211.1 L1286.5,1211.9 L1288.5,1212.7 L1290.5,1213.5 L1292.5,1214.3 L1294.5,1215.1 L1296.5,1215.8 L1298.5,1216.6 L1300.5,1217.3 L1302.5,1218 L1304.5,1218.7 L1306.5,1219.3 L1308.5,1220 L1310.5,1220.6 L1312.5,1221.2 L1314.5,1221.8 L1316.5,1222.3 L1318.5,1222.9 L1320.5,1223.4 L1322.5,1223.9 L1324.5,1224.4 L1326.5,1224.9 L1328.5,1225.3 L1330.5,1225.8 L1332.5,1226.2 L1334.5,1226.5 L1336.5,1226.9 L1338.5,1227.2 L1340.5,1227.6 L1342.5,1227.9 L1344.5,1228.1 L1346.5,1228.4 L1348.5,1228.6 L1350.5,1228.8 L1352.5,1229 L1354.5,1229.1 L1356.5,1229.2 L1358.5,1229.3 L1360.5,1229.4 L1362.5,1229.5 L1364.5,1229.5 L1366.5,1229.5 L1368.5,1229.5 L1370.5,1229.4 L1372.5,1229.3 L1374.5,1229.2 L1375.7,1229.1" fill="none" stroke="#231f20" stroke-width="7.4" stroke-linejoin="round"/>
<ellipse cx="516.3" cy="1171" rx="1.2" ry="1.8" transform="rotate(30 516.3 1171)" fill="#231f20"/>
</g>
<g stroke="#0b0b0d" fill="none">
<rect x="313.5" y="275.8" width="1062.2" height="990.2" stroke-width="2.8"/>
<line x1="313.5" y1="408.6" x2="1375.7" y2="408.6" stroke-width="4.2"/>
<line x1="313.5" y1="542.3" x2="1375.7" y2="542.3" stroke-width="3.4"/>
<line x1="313.5" y1="672.2" x2="1375.7" y2="672.2" stroke-width="3.4"/>
<line x1="313.5" y1="804.2" x2="1375.7" y2="804.2" stroke-width="3.4"/>
<line x1="313.5" y1="936.3" x2="1375.7" y2="936.3" stroke-width="3.4"/>
<line x1="313.5" y1="1068.4" x2="1375.7" y2="1068.4" stroke-width="3.4"/>
<line x1="313.5" y1="315.9" x2="325.8" y2="315.9" stroke-width="2.3"/>
<line x1="1363.6" y1="315.9" x2="1375.7" y2="315.9" stroke-width="2.3"/>
<line x1="313.5" y1="356.4" x2="325.8" y2="356.4" stroke-width="2.3"/>
<line x1="1363.6" y1="356.4" x2="1375.7" y2="356.4" stroke-width="2.3"/>
<line x1="313.5" y1="396.6" x2="325.8" y2="396.6" stroke-width="2.3"/>
<line x1="1363.6" y1="396.6" x2="1375.7" y2="396.6" stroke-width="2.3"/>
<line x1="313.5" y1="442.8" x2="325.8" y2="442.8" stroke-width="2.3"/>
<line x1="1363.6" y1="442.8" x2="1375.7" y2="442.8" stroke-width="2.3"/>
<line x1="313.5" y1="475.8" x2="325.8" y2="475.8" stroke-width="2.3"/>
<line x1="1363.6" y1="475.8" x2="1375.7" y2="475.8" stroke-width="2.3"/>
<line x1="313.5" y1="508.6" x2="325.8" y2="508.6" stroke-width="2.3"/>
<line x1="1363.6" y1="508.6" x2="1375.7" y2="508.6" stroke-width="2.3"/>
<line x1="313.5" y1="555.9" x2="325.8" y2="555.9" stroke-width="2.3"/>
<line x1="1363.6" y1="555.9" x2="1375.7" y2="555.9" stroke-width="2.3"/>
<line x1="313.5" y1="591.2" x2="325.8" y2="591.2" stroke-width="2.3"/>
<line x1="1363.6" y1="591.2" x2="1375.7" y2="591.2" stroke-width="2.3"/>
<line x1="313.5" y1="626.7" x2="325.8" y2="626.7" stroke-width="2.3"/>
<line x1="1363.6" y1="626.7" x2="1375.7" y2="626.7" stroke-width="2.3"/>
<line x1="313.5" y1="662" x2="325.8" y2="662" stroke-width="2.3"/>
<line x1="1363.6" y1="662" x2="1375.7" y2="662" stroke-width="2.3"/>
<line x1="313.5" y1="704.9" x2="325.8" y2="704.9" stroke-width="2.3"/>
<line x1="1363.6" y1="704.9" x2="1375.7" y2="704.9" stroke-width="2.3"/>
<line x1="313.5" y1="737.7" x2="325.8" y2="737.7" stroke-width="2.3"/>
<line x1="1363.6" y1="737.7" x2="1375.7" y2="737.7" stroke-width="2.3"/>
<line x1="313.5" y1="770" x2="325.8" y2="770" stroke-width="2.3"/>
<line x1="1363.6" y1="770" x2="1375.7" y2="770" stroke-width="2.3"/>
<line x1="313.5" y1="837.2" x2="325.8" y2="837.2" stroke-width="2.3"/>
<line x1="1363.6" y1="837.2" x2="1375.7" y2="837.2" stroke-width="2.3"/>
<line x1="313.5" y1="870.3" x2="325.8" y2="870.3" stroke-width="2.3"/>
<line x1="1363.6" y1="870.3" x2="1375.7" y2="870.3" stroke-width="2.3"/>
<line x1="313.5" y1="903" x2="325.8" y2="903" stroke-width="2.3"/>
<line x1="1363.6" y1="903" x2="1375.7" y2="903" stroke-width="2.3"/>
<line x1="313.5" y1="962.8" x2="325.8" y2="962.8" stroke-width="2.3"/>
<line x1="1363.6" y1="962.8" x2="1375.7" y2="962.8" stroke-width="2.3"/>
<line x1="313.5" y1="989.2" x2="325.8" y2="989.2" stroke-width="2.3"/>
<line x1="1363.6" y1="989.2" x2="1375.7" y2="989.2" stroke-width="2.3"/>
<line x1="313.5" y1="1015.6" x2="325.8" y2="1015.6" stroke-width="2.3"/>
<line x1="1363.6" y1="1015.6" x2="1375.7" y2="1015.6" stroke-width="2.3"/>
<line x1="313.5" y1="1042" x2="325.8" y2="1042" stroke-width="2.3"/>
<line x1="1363.6" y1="1042" x2="1375.7" y2="1042" stroke-width="2.3"/>
<line x1="313.5" y1="1117.5" x2="325.8" y2="1117.5" stroke-width="2.3"/>
<line x1="1363.6" y1="1117.5" x2="1375.7" y2="1117.5" stroke-width="2.3"/>
<line x1="313.5" y1="1167.4" x2="325.8" y2="1167.4" stroke-width="2.3"/>
<line x1="1363.6" y1="1167.4" x2="1375.7" y2="1167.4" stroke-width="2.3"/>
<line x1="313.5" y1="1216.6" x2="325.8" y2="1216.6" stroke-width="2.3"/>
<line x1="1363.6" y1="1216.6" x2="1375.7" y2="1216.6" stroke-width="2.3"/>
</g>
<g fill="#0b0b0d">
<rect x="843.4" y="405.20000000000005" width="2.4" height="6.8"/>
<rect x="843.4" y="538.9" width="2.4" height="6.8"/>
<rect x="843.4" y="668.8000000000001" width="2.4" height="6.8"/>
<rect x="843.4" y="800.8000000000001" width="2.4" height="6.8"/>
<rect x="843.4" y="932.9" width="2.4" height="6.8"/>
<rect x="843.4" y="1065.0" width="2.4" height="6.8"/>
<rect x="843.4" y="275.8" width="2.4" height="4.2"/>
<rect x="843.4" y="1261.8" width="2.4" height="4.2"/>
</g>
<g font-family="Liberation Serif" fill="#231815">
<text x="140.5" y="351.9" font-size="57.5" font-weight="bold" text-anchor="middle">VL</text>
<text x="139.8" y="483.1" font-size="57.5" font-weight="bold" text-anchor="middle">VM</text>
<text x="140.8" y="614.6" font-size="57.5" font-weight="bold" text-anchor="middle">BF</text>
<text x="138.3" y="746.3" font-size="57.5" font-weight="bold" text-anchor="middle">ST</text>
<text x="140.5" y="877.2" font-size="57.5" font-weight="bold" text-anchor="middle">LG</text>
<text x="140.3" y="1007.4" font-size="57.5" font-weight="bold" text-anchor="middle">MG</text>
<text x="140.5" y="1178.2" font-size="57.5" font-weight="bold" text-anchor="middle">Knee angle</text>
</g>
<g font-family="Liberation Serif" fill="#000">
<text x="820.7" y="344.3" font-size="57.7" text-anchor="middle">Stance</text>
<text x="1058.9" y="344.3" font-size="57.7" text-anchor="middle">Swing</text>
<text x="311.8" y="1327.3" font-size="58" text-anchor="middle">0</text>
<text x="843.2" y="1327.3" font-size="58" text-anchor="middle">50</text>
<text x="1372.2" y="1327.3" font-size="58" text-anchor="middle">100</text>
<text x="853" y="1389.8" font-size="58" text-anchor="middle">Gait (%)</text>
<circle cx="634.6" cy="1413.5" r="1.1" fill="#8a8a8a"/>
</g>
</svg>
</body></html>
